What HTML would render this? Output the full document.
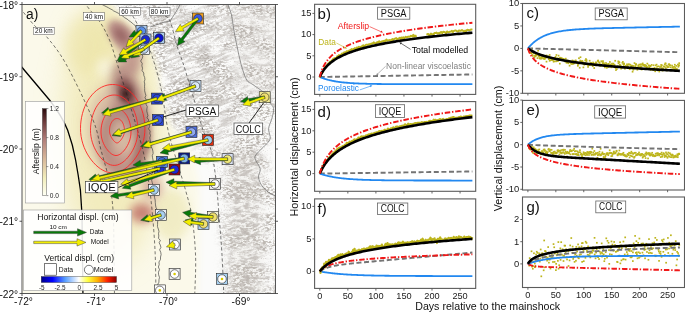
<!DOCTYPE html>
<html><head><meta charset="utf-8"><style>
html,body{margin:0;padding:0;background:#fff;width:685px;height:313px;overflow:hidden}
svg{display:block;will-change:transform}
text{font-family:"Liberation Sans",sans-serif}
</style></head><body>
<svg width="685" height="313" viewBox="0 0 685 313" font-family="Liberation Sans, sans-serif">
<rect x="314.6" y="4.3" width="161.09999999999997" height="90.10000000000001" fill="#fff" stroke="none"/>
<path d="M319.80,77.00 L319.83,77.00 L319.90,77.00 L320.00,77.00 L320.13,76.99 L320.30,76.99 L320.49,76.99 L320.72,76.98 L320.97,76.98 L321.24,76.98 L321.54,76.97 L321.87,76.97 L322.22,76.96 L322.59,76.95 L322.99,76.95 L323.41,76.94 L323.86,76.93 L324.33,76.92 L324.82,76.92 L325.33,76.91 L325.87,76.90 L326.42,76.89 L327.00,76.88 L327.60,76.87 L328.22,76.86 L328.86,76.85 L329.53,76.84 L330.21,76.83 L330.91,76.81 L331.64,76.80 L332.38,76.79 L333.15,76.78 L333.93,76.76 L334.74,76.75 L335.56,76.74 L336.41,76.72 L337.27,76.71 L338.16,76.69 L339.06,76.68 L339.98,76.66 L340.92,76.65 L341.88,76.63 L342.86,76.62 L343.86,76.60 L344.87,76.58 L345.91,76.56 L346.96,76.55 L348.03,76.53 L349.13,76.51 L350.23,76.49 L351.36,76.47 L352.51,76.45 L353.67,76.44 L354.85,76.42 L356.05,76.40 L357.27,76.38 L358.50,76.35 L359.76,76.33 L361.03,76.31 L362.31,76.29 L363.62,76.27 L364.94,76.25 L366.28,76.23 L367.64,76.20 L369.02,76.18 L370.41,76.16 L371.82,76.13 L373.25,76.11 L374.69,76.08 L376.16,76.06 L377.63,76.04 L379.13,76.01 L380.64,75.99 L382.17,75.96 L383.72,75.93 L385.28,75.91 L386.86,75.88 L388.46,75.86 L390.07,75.83 L391.70,75.80 L393.35,75.77 L395.01,75.75 L396.69,75.72 L398.39,75.69 L400.10,75.66 L401.83,75.63 L403.57,75.60 L405.33,75.57 L407.11,75.54 L408.91,75.51 L410.72,75.48 L412.54,75.45 L414.39,75.42 L416.24,75.39 L418.12,75.36 L420.01,75.33 L421.92,75.30 L423.84,75.27 L425.78,75.23 L427.73,75.20 L429.70,75.17 L431.69,75.13 L433.69,75.10 L435.71,75.07 L437.74,75.03 L439.79,75.00 L441.86,74.97 L443.94,74.93 L446.03,74.90 L448.14,74.86 L450.27,74.82 L452.41,74.79 L454.57,74.75 L456.75,74.72 L458.93,74.68 L461.14,74.64 L463.36,74.61 L465.59,74.57 L467.84,74.53 L470.11,74.49 L472.39,74.46" fill="none" stroke="#747474" stroke-width="1.9" stroke-dasharray="5 2.6" stroke-linejoin="round" />
<path d="M319.80,77.00 L319.83,77.01 L319.90,77.04 L320.00,77.08 L320.13,77.14 L320.30,77.21 L320.49,77.29 L320.72,77.38 L320.97,77.48 L321.24,77.59 L321.54,77.71 L321.87,77.83 L322.22,77.96 L322.59,78.10 L322.99,78.25 L323.41,78.39 L323.86,78.54 L324.33,78.70 L324.82,78.86 L325.33,79.02 L325.87,79.18 L326.42,79.34 L327.00,79.51 L327.60,79.67 L328.22,79.84 L328.86,80.00 L329.53,80.16 L330.21,80.32 L330.91,80.48 L331.64,80.64 L332.38,80.80 L333.15,80.95 L333.93,81.10 L334.74,81.24 L335.56,81.38 L336.41,81.52 L337.27,81.66 L338.16,81.79 L339.06,81.91 L339.98,82.03 L340.92,82.15 L341.88,82.27 L342.86,82.38 L343.86,82.48 L344.87,82.58 L345.91,82.68 L346.96,82.77 L348.03,82.86 L349.13,82.95 L350.23,83.03 L351.36,83.10 L352.51,83.18 L353.67,83.24 L354.85,83.31 L356.05,83.37 L357.27,83.43 L358.50,83.49 L359.76,83.54 L361.03,83.59 L362.31,83.63 L363.62,83.67 L364.94,83.71 L366.28,83.75 L367.64,83.79 L369.02,83.82 L370.41,83.85 L371.82,83.88 L373.25,83.91 L374.69,83.93 L376.16,83.95 L377.63,83.98 L379.13,84.00 L380.64,84.01 L382.17,84.03 L383.72,84.05 L385.28,84.06 L386.86,84.07 L388.46,84.09 L390.07,84.10 L391.70,84.11 L393.35,84.12 L395.01,84.13 L396.69,84.13 L398.39,84.14 L400.10,84.15 L401.83,84.15 L403.57,84.16 L405.33,84.16 L407.11,84.17 L408.91,84.17 L410.72,84.18 L412.54,84.18 L414.39,84.18 L416.24,84.18 L418.12,84.19 L420.01,84.19 L421.92,84.19 L423.84,84.19 L425.78,84.19 L427.73,84.20 L429.70,84.20 L431.69,84.20 L433.69,84.20 L435.71,84.20 L437.74,84.20 L439.79,84.20 L441.86,84.20 L443.94,84.20 L446.03,84.20 L448.14,84.20 L450.27,84.20 L452.41,84.21 L454.57,84.21 L456.75,84.21 L458.93,84.21 L461.14,84.21 L463.36,84.21 L465.59,84.21 L467.84,84.21 L470.11,84.21 L472.39,84.21" fill="none" stroke="#2288f0" stroke-width="1.8" stroke-linejoin="round" />
<path d="M319.80,77.64 L319.81,77.62 L319.82,77.57 L319.85,77.50 L319.88,77.41 L319.92,77.30 L319.97,77.17 L320.03,77.02 L320.09,76.86 L320.16,76.68 L320.23,76.49 L320.31,76.29 L320.40,76.20 L320.49,75.58 L320.59,75.72 L320.70,75.52 L320.81,75.57 L320.93,74.94 L321.05,74.00 L321.18,74.07 L321.31,73.47 L321.45,73.58 L321.59,73.21 L321.74,73.02 L321.89,73.65 L322.05,72.06 L322.22,71.93 L322.39,71.62 L322.56,72.42 L322.74,72.13 L322.93,71.37 L323.12,70.84 L323.31,70.12 L323.51,69.98 L323.72,69.37 L323.93,69.64 L324.14,68.84 L324.36,68.47 L324.59,68.69 L324.82,67.15 L325.05,67.43 L325.29,66.78 L325.53,67.39 L325.78,67.13 L326.03,66.61 L326.29,66.18 L326.55,65.49 L326.82,65.38 L327.09,65.42 L327.37,65.37 L327.65,64.84 L327.93,63.65 L328.22,64.38 L328.52,63.55 L328.81,63.16 L329.12,63.84 L329.42,62.76 L329.73,61.83 L330.05,63.22 L330.37,62.08 L330.70,61.68 L331.02,61.76 L331.36,60.81 L331.70,60.81 L332.04,61.25 L332.38,59.80 L332.73,59.61 L333.09,59.20 L333.45,58.67 L333.81,58.95 L334.18,58.81 L334.55,59.27 L334.93,58.03 L335.31,58.40 L335.69,58.06 L336.08,58.22 L336.47,57.81 L336.87,57.34 L337.27,56.16 L337.68,57.60 L338.09,57.06 L338.50,55.96 L338.92,55.10 L339.34,55.30 L339.77,56.32 L340.20,56.40 L340.63,54.70 L341.07,55.02 L341.51,54.99 L341.96,53.69 L342.41,53.40 L342.86,53.65 L343.32,53.38 L343.78,53.06 L344.25,52.25 L344.72,52.53 L345.19,52.36 L345.67,52.13 L346.15,52.99 L346.64,51.32 L347.13,51.28 L347.62,51.28 L348.12,52.35 L348.62,51.46 L349.13,50.50 L349.63,51.65 L350.15,50.61 L350.67,49.80 L351.19,50.79 L351.71,49.10 L352.24,49.44 L352.77,49.60 L353.31,49.16 L353.85,48.81 L354.39,48.88 L354.94,48.17 L355.49,48.90 L356.05,48.58 L356.61,47.66 L357.17,47.99 L357.74,48.26 L358.31,47.15 L358.89,46.70 L359.47,47.49 L360.05,47.79 L360.63,46.98 L361.22,46.81 L361.82,46.71 L362.41,45.66 L363.02,46.73 L363.62,45.39 L364.23,46.50 L364.84,46.09 L365.46,45.20 L366.08,44.77 L366.70,44.74 L367.33,44.84 L367.96,44.77 L368.59,44.60 L369.23,44.22 L369.87,44.44 L370.52,44.05 L371.17,43.74 L371.82,43.87 L372.48,43.32 L373.14,43.26 L373.80,42.37 L374.47,43.07 L375.14,43.30 L375.82,43.12 L376.49,42.78 L377.18,42.15 L377.86,42.64 L378.55,42.12 L379.25,41.23 L379.94,43.32 L380.64,42.44 L381.35,41.60 L382.05,41.37 L382.76,41.31 L383.48,41.50 L384.20,40.80 L384.92,40.85 L385.64,41.12 L386.37,39.47 L387.11,40.39 L387.84,40.71 L388.58,40.34 L389.32,40.26 L390.07,40.04 L390.82,41.26 L391.57,39.98 L392.33,39.08 L393.09,40.05 L393.86,39.36 L394.63,38.70 L395.40,38.62 L396.17,38.16 L396.95,39.66 L397.73,38.84 L398.52,38.70 L399.31,38.08 L400.10,37.71 L400.89,39.50 L401.69,37.46 L402.50,38.62 L403.30,37.41 L404.11,38.39 L404.93,37.41 L405.74,36.77 L406.56,37.33 L407.39,37.03 L408.21,36.60 L409.04,36.81 L409.88,36.80 L410.72,35.85 L411.56,35.98 L412.40,36.54 L413.25,34.88 L414.10,36.74 L414.96,35.57 L415.81,36.05 L416.68,35.73 M426.38,34.17 L427.28,34.30 L428.18,33.98 L429.09,34.97 L430.01,34.85 L430.92,33.66 L431.84,34.35 L432.76,34.28 L433.69,34.39 L434.62,32.89 L435.55,33.05 L436.49,32.57 L437.43,33.69 L438.37,33.11 L439.32,33.58 L440.27,32.51 L441.22,31.98 L442.17,33.14 L443.13,31.79 L444.10,31.98 L445.06,32.47 L446.03,33.28 L447.00,31.45 L447.98,32.12 L448.96,32.27 L449.94,31.66 L450.93,31.55 L451.92,30.90 L452.91,32.08 L453.91,30.88 L454.90,30.60 L455.91,30.52 L456.91,31.25 L457.92,31.44 L458.93,30.45 L459.95,30.81 L460.97,30.71 L461.99,29.95 L463.02,30.71 L464.04,31.65 L465.08,30.58 L466.11,31.23 L467.15,29.78 L468.19,29.94 L469.24,30.32 L470.29,29.92 L471.34,29.39 L472.39,29.68" fill="none" stroke="#bdb51c" stroke-width="2.0" stroke-linejoin="round" />
<path d="M319.80,77.00 L319.83,76.93 L319.90,76.77 L320.00,76.54 L320.13,76.23 L320.30,75.87 L320.49,75.45 L320.72,74.99 L320.97,74.50 L321.24,73.97 L321.54,73.41 L321.87,72.84 L322.22,72.24 L322.59,71.64 L322.99,71.02 L323.41,70.40 L323.86,69.78 L324.33,69.15 L324.82,68.52 L325.33,67.90 L325.87,67.28 L326.42,66.66 L327.00,66.04 L327.60,65.44 L328.22,64.84 L328.86,64.24 L329.53,63.66 L330.21,63.08 L330.91,62.51 L331.64,61.94 L332.38,61.39 L333.15,60.84 L333.93,60.30 L334.74,59.77 L335.56,59.25 L336.41,58.74 L337.27,58.23 L338.16,57.73 L339.06,57.24 L339.98,56.76 L340.92,56.28 L341.88,55.82 L342.86,55.36 L343.86,54.90 L344.87,54.45 L345.91,54.01 L346.96,53.58 L348.03,53.15 L349.13,52.73 L350.23,52.32 L351.36,51.91 L352.51,51.51 L353.67,51.11 L354.85,50.72 L356.05,50.33 L357.27,49.95 L358.50,49.58 L359.76,49.21 L361.03,48.84 L362.31,48.48 L363.62,48.13 L364.94,47.78 L366.28,47.43 L367.64,47.09 L369.02,46.75 L370.41,46.42 L371.82,46.09 L373.25,45.77 L374.69,45.45 L376.16,45.13 L377.63,44.82 L379.13,44.51 L380.64,44.20 L382.17,43.90 L383.72,43.60 L385.28,43.31 L386.86,43.01 L388.46,42.73 L390.07,42.44 L391.70,42.16 L393.35,41.88 L395.01,41.60 L396.69,41.33 L398.39,41.06 L400.10,40.79 L401.83,40.53 L403.57,40.27 L405.33,40.01 L407.11,39.75 L408.91,39.50 L410.72,39.25 L412.54,39.00 L414.39,38.75 L416.24,38.51 L418.12,38.27 L420.01,38.03 L421.92,37.79 L423.84,37.56 L425.78,37.32 L427.73,37.09 L429.70,36.86 L431.69,36.64 L433.69,36.41 L435.71,36.19 L437.74,35.97 L439.79,35.75 L441.86,35.54 L443.94,35.32 L446.03,35.11 L448.14,34.90 L450.27,34.69 L452.41,34.48 L454.57,34.28 L456.75,34.07 L458.93,33.87 L461.14,33.67 L463.36,33.47 L465.59,33.27 L467.84,33.08 L470.11,32.88 L472.39,32.69" fill="none" stroke="#000" stroke-width="2.6" stroke-linejoin="round" />
<path d="M319.80,77.00 L319.83,76.88 L319.90,76.60 L320.00,76.19 L320.13,75.66 L320.30,75.04 L320.49,74.35 L320.72,73.59 L320.97,72.79 L321.24,71.96 L321.54,71.10 L321.87,70.22 L322.22,69.34 L322.59,68.45 L322.99,67.56 L323.41,66.68 L323.86,65.81 L324.33,64.94 L324.82,64.09 L325.33,63.25 L325.87,62.42 L326.42,61.61 L327.00,60.81 L327.60,60.03 L328.22,59.27 L328.86,58.52 L329.53,57.78 L330.21,57.06 L330.91,56.36 L331.64,55.67 L332.38,54.99 L333.15,54.33 L333.93,53.68 L334.74,53.04 L335.56,52.42 L336.41,51.81 L337.27,51.21 L338.16,50.62 L339.06,50.04 L339.98,49.48 L340.92,48.92 L341.88,48.38 L342.86,47.85 L343.86,47.32 L344.87,46.81 L345.91,46.30 L346.96,45.80 L348.03,45.31 L349.13,44.83 L350.23,44.36 L351.36,43.90 L352.51,43.44 L353.67,42.99 L354.85,42.55 L356.05,42.12 L357.27,41.69 L358.50,41.27 L359.76,40.85 L361.03,40.44 L362.31,40.04 L363.62,39.64 L364.94,39.25 L366.28,38.87 L367.64,38.48 L369.02,38.11 L370.41,37.74 L371.82,37.38 L373.25,37.02 L374.69,36.66 L376.16,36.31 L377.63,35.96 L379.13,35.62 L380.64,35.28 L382.17,34.95 L383.72,34.62 L385.28,34.30 L386.86,33.98 L388.46,33.66 L390.07,33.35 L391.70,33.04 L393.35,32.73 L395.01,32.43 L396.69,32.13 L398.39,31.83 L400.10,31.54 L401.83,31.25 L403.57,30.96 L405.33,30.68 L407.11,30.40 L408.91,30.12 L410.72,29.85 L412.54,29.58 L414.39,29.31 L416.24,29.04 L418.12,28.78 L420.01,28.52 L421.92,28.26 L423.84,28.01 L425.78,27.75 L427.73,27.50 L429.70,27.25 L431.69,27.01 L433.69,26.76 L435.71,26.52 L437.74,26.28 L439.79,26.05 L441.86,25.81 L443.94,25.58 L446.03,25.35 L448.14,25.12 L450.27,24.89 L452.41,24.67 L454.57,24.44 L456.75,24.22 L458.93,24.00 L461.14,23.79 L463.36,23.57 L465.59,23.36 L467.84,23.15 L470.11,22.94 L472.39,22.73" fill="none" stroke="#f01818" stroke-width="1.9" stroke-dasharray="5.5 1.8 1.4 1.8" stroke-linejoin="round" />
<rect x="314.6" y="4.3" width="161.09999999999997" height="90.10000000000001" fill="none" stroke="#5c5c5c" stroke-width="1.1"/>
<line x1="312.40000000000003" y1="13.40" x2="314.6" y2="13.40" stroke="#555" stroke-width="0.9"/>
<text x="311.40000000000003" y="16.20" font-size="9.4" text-anchor="end" fill="#1a1a1a">15</text>
<line x1="312.40000000000003" y1="34.60" x2="314.6" y2="34.60" stroke="#555" stroke-width="0.9"/>
<text x="311.40000000000003" y="37.40" font-size="9.4" text-anchor="end" fill="#1a1a1a">10</text>
<line x1="312.40000000000003" y1="55.80" x2="314.6" y2="55.80" stroke="#555" stroke-width="0.9"/>
<text x="311.40000000000003" y="58.60" font-size="9.4" text-anchor="end" fill="#1a1a1a">5</text>
<line x1="312.40000000000003" y1="77.00" x2="314.6" y2="77.00" stroke="#555" stroke-width="0.9"/>
<text x="311.40000000000003" y="79.80" font-size="9.4" text-anchor="end" fill="#1a1a1a">0</text>
<line x1="319.80" y1="94.4" x2="319.80" y2="96.60000000000001" stroke="#555" stroke-width="0.9"/>
<line x1="347.85" y1="94.4" x2="347.85" y2="96.60000000000001" stroke="#555" stroke-width="0.9"/>
<line x1="375.90" y1="94.4" x2="375.90" y2="96.60000000000001" stroke="#555" stroke-width="0.9"/>
<line x1="403.95" y1="94.4" x2="403.95" y2="96.60000000000001" stroke="#555" stroke-width="0.9"/>
<line x1="432.00" y1="94.4" x2="432.00" y2="96.60000000000001" stroke="#555" stroke-width="0.9"/>
<line x1="460.05" y1="94.4" x2="460.05" y2="96.60000000000001" stroke="#555" stroke-width="0.9"/>
<text x="317.6" y="19.3" font-size="15" fill="#111">b)</text>
<rect x="377.6" y="7.2" width="32.19999999999999" height="12.0" fill="#fff" stroke="#666" stroke-width="0.8"/>
<text x="393.70" y="16.80" font-size="10" text-anchor="middle" fill="#111" textLength="25.7" lengthAdjust="spacingAndGlyphs">PSGA</text>
<text x="337.7" y="29.4" font-size="9.1" fill="#f01818" textLength="31.4" lengthAdjust="spacingAndGlyphs">Afterslip</text>
<path d="M369.6,26.6 L380.81,31.62" stroke="#f01818" stroke-width="0.6" fill="none"/>
<path d="M383,32.6 L380.36,32.62 L381.26,30.62Z" fill="#f01818"/>
<text x="318.3" y="44.5" font-size="9.1" fill="#bdb51c" textLength="17.6" lengthAdjust="spacingAndGlyphs">Data</text>
<path d="M336.4,43 L344.88,47.48" stroke="#bdb51c" stroke-width="0.6" fill="none"/>
<path d="M347,48.6 L344.36,48.45 L345.39,46.51Z" fill="#bdb51c"/>
<text x="411.7" y="52.9" font-size="9.8" fill="#000" textLength="56.5" lengthAdjust="spacingAndGlyphs">Total modelled</text>
<path d="M410.6,49.4 L401.43,43.58" stroke="#111" stroke-width="0.6" fill="none"/>
<path d="M399.4,42.3 L402.02,42.66 L400.84,44.51Z" fill="#111"/>
<text x="386.1" y="69.4" font-size="9.3" fill="#808080" textLength="84.8" lengthAdjust="spacingAndGlyphs">Non-linear viscoelastic</text>
<path d="M385.6,66.3 L377.83,73.74" stroke="#8a8a8a" stroke-width="0.6" fill="none"/>
<path d="M376.1,75.4 L377.07,72.95 L378.59,74.53Z" fill="#8a8a8a"/>
<text x="318" y="91.1" font-size="9.3" fill="#2288f0" textLength="41" lengthAdjust="spacingAndGlyphs">Poroelastic</text>
<path d="M359.8,89.9 L370.13,86.29" stroke="#2288f0" stroke-width="0.6" fill="none"/>
<path d="M372.4,85.5 L370.50,87.33 L369.77,85.25Z" fill="#2288f0"/>
<rect x="314.6" y="101.6" width="161.09999999999997" height="89.70000000000002" fill="#fff" stroke="none"/>
<path d="M319.80,173.60 L319.83,173.60 L319.90,173.60 L320.00,173.60 L320.13,173.60 L320.30,173.59 L320.49,173.59 L320.72,173.59 L320.97,173.58 L321.24,173.58 L321.54,173.58 L321.87,173.57 L322.22,173.57 L322.59,173.56 L322.99,173.56 L323.41,173.55 L323.86,173.54 L324.33,173.54 L324.82,173.53 L325.33,173.52 L325.87,173.51 L326.42,173.51 L327.00,173.50 L327.60,173.49 L328.22,173.48 L328.86,173.47 L329.53,173.46 L330.21,173.45 L330.91,173.44 L331.64,173.43 L332.38,173.42 L333.15,173.41 L333.93,173.40 L334.74,173.39 L335.56,173.38 L336.41,173.37 L337.27,173.35 L338.16,173.34 L339.06,173.33 L339.98,173.32 L340.92,173.30 L341.88,173.29 L342.86,173.28 L343.86,173.26 L344.87,173.25 L345.91,173.23 L346.96,173.22 L348.03,173.20 L349.13,173.19 L350.23,173.17 L351.36,173.16 L352.51,173.14 L353.67,173.13 L354.85,173.11 L356.05,173.09 L357.27,173.07 L358.50,173.06 L359.76,173.04 L361.03,173.02 L362.31,173.00 L363.62,172.99 L364.94,172.97 L366.28,172.95 L367.64,172.93 L369.02,172.91 L370.41,172.89 L371.82,172.87 L373.25,172.85 L374.69,172.83 L376.16,172.81 L377.63,172.79 L379.13,172.77 L380.64,172.75 L382.17,172.73 L383.72,172.70 L385.28,172.68 L386.86,172.66 L388.46,172.64 L390.07,172.61 L391.70,172.59 L393.35,172.57 L395.01,172.55 L396.69,172.52 L398.39,172.50 L400.10,172.47 L401.83,172.45 L403.57,172.43 L405.33,172.40 L407.11,172.38 L408.91,172.35 L410.72,172.32 L412.54,172.30 L414.39,172.27 L416.24,172.25 L418.12,172.22 L420.01,172.19 L421.92,172.17 L423.84,172.14 L425.78,172.11 L427.73,172.09 L429.70,172.06 L431.69,172.03 L433.69,172.00 L435.71,171.97 L437.74,171.95 L439.79,171.92 L441.86,171.89 L443.94,171.86 L446.03,171.83 L448.14,171.80 L450.27,171.77 L452.41,171.74 L454.57,171.71 L456.75,171.68 L458.93,171.65 L461.14,171.62 L463.36,171.59 L465.59,171.56 L467.84,171.52 L470.11,171.49 L472.39,171.46" fill="none" stroke="#747474" stroke-width="1.9" stroke-dasharray="5 2.6" stroke-linejoin="round" />
<path d="M319.80,173.60 L319.83,173.61 L319.90,173.63 L320.00,173.67 L320.13,173.72 L320.30,173.77 L320.49,173.84 L320.72,173.92 L320.97,174.00 L321.24,174.09 L321.54,174.19 L321.87,174.29 L322.22,174.40 L322.59,174.52 L322.99,174.64 L323.41,174.77 L323.86,174.89 L324.33,175.03 L324.82,175.16 L325.33,175.30 L325.87,175.44 L326.42,175.58 L327.00,175.73 L327.60,175.87 L328.22,176.02 L328.86,176.16 L329.53,176.31 L330.21,176.45 L330.91,176.60 L331.64,176.74 L332.38,176.88 L333.15,177.02 L333.93,177.16 L334.74,177.29 L335.56,177.43 L336.41,177.56 L337.27,177.69 L338.16,177.81 L339.06,177.93 L339.98,178.05 L340.92,178.17 L341.88,178.28 L342.86,178.39 L343.86,178.50 L344.87,178.60 L345.91,178.70 L346.96,178.80 L348.03,178.89 L349.13,178.98 L350.23,179.06 L351.36,179.14 L352.51,179.22 L353.67,179.30 L354.85,179.37 L356.05,179.44 L357.27,179.51 L358.50,179.57 L359.76,179.63 L361.03,179.68 L362.31,179.74 L363.62,179.79 L364.94,179.84 L366.28,179.88 L367.64,179.93 L369.02,179.97 L370.41,180.01 L371.82,180.04 L373.25,180.08 L374.69,180.11 L376.16,180.14 L377.63,180.17 L379.13,180.20 L380.64,180.22 L382.17,180.24 L383.72,180.27 L385.28,180.29 L386.86,180.31 L388.46,180.32 L390.07,180.34 L391.70,180.36 L393.35,180.37 L395.01,180.38 L396.69,180.40 L398.39,180.41 L400.10,180.42 L401.83,180.43 L403.57,180.44 L405.33,180.44 L407.11,180.45 L408.91,180.46 L410.72,180.47 L412.54,180.47 L414.39,180.48 L416.24,180.48 L418.12,180.49 L420.01,180.49 L421.92,180.50 L423.84,180.50 L425.78,180.50 L427.73,180.51 L429.70,180.51 L431.69,180.51 L433.69,180.51 L435.71,180.51 L437.74,180.52 L439.79,180.52 L441.86,180.52 L443.94,180.52 L446.03,180.52 L448.14,180.52 L450.27,180.52 L452.41,180.53 L454.57,180.53 L456.75,180.53 L458.93,180.53 L461.14,180.53 L463.36,180.53 L465.59,180.53 L467.84,180.53 L470.11,180.53 L472.39,180.53" fill="none" stroke="#2288f0" stroke-width="1.8" stroke-linejoin="round" />
<path d="M319.80,173.60 L319.81,173.58 L319.82,173.53 L319.85,173.46 L319.88,173.37 L319.92,173.26 L319.97,173.13 L320.03,172.99 L320.09,172.82 L320.16,172.65 L320.23,172.45 L320.31,172.25 L320.40,171.34 L320.49,171.83 L320.59,171.02 L320.70,170.53 L320.81,170.20 L320.93,171.10 L321.05,170.02 L321.18,171.14 L321.31,170.44 L321.45,170.58 L321.59,168.71 L321.74,169.58 L321.89,168.62 L322.05,168.39 L322.22,167.97 L322.39,167.92 L322.56,167.15 L322.74,166.01 L322.93,166.56 L323.12,165.95 L323.31,165.36 L323.51,165.62 L323.72,165.81 L323.93,165.09 L324.14,163.89 L324.36,164.92 L324.59,164.02 L324.82,162.84 L325.05,162.58 L325.29,162.62 L325.53,161.85 L325.78,161.82 L326.03,162.15 L326.29,161.98 L326.55,161.15 L326.82,159.98 L327.09,160.39 L327.37,160.20 L327.65,159.78 L327.93,159.82 L328.22,158.73 L328.52,158.93 L328.81,157.78 L329.12,158.83 L329.42,157.10 L329.73,157.25 L330.05,157.57 L330.37,155.86 L330.70,156.03 L331.02,156.70 L331.36,155.66 L331.70,154.73 L332.04,154.78 L332.38,153.81 L332.73,153.49 L333.09,153.21 L333.45,153.05 L333.81,152.21 L334.18,152.23 L334.55,152.02 L334.93,153.00 L335.31,151.16 L335.69,150.63 L336.08,151.14 L336.47,150.92 L336.87,149.37 L337.27,150.96 L337.68,149.51 L338.09,148.20 L338.50,149.62 L338.92,148.49 L339.34,147.58 L339.77,148.32 L340.20,147.67 L340.63,147.21 L341.07,147.84 L341.51,147.14 L341.96,146.65 L342.41,146.10 L342.86,146.26 L343.32,146.06 L343.78,146.20 L344.25,145.59 L344.72,144.67 L345.19,144.80 L345.67,145.02 L346.15,144.74 L346.64,142.67 L347.13,143.19 L347.62,143.18 L348.12,144.58 L348.62,142.67 L349.13,142.48 L349.63,141.60 L350.15,141.99 L350.67,141.99 L351.19,141.44 L351.71,142.45 L352.24,140.67 L352.77,140.79 L353.31,141.07 L353.85,139.78 L354.39,139.29 L354.94,140.69 L355.49,140.08 L356.05,139.34 L356.61,139.16 L357.17,139.22 L357.74,139.28 L358.31,137.46 L358.89,137.79 L359.47,138.70 L360.05,138.55 L360.63,136.76 L361.22,136.90 L361.82,136.24 L362.41,136.54 L363.02,137.18 L363.62,136.38 L364.23,137.40 L364.84,136.46 L365.46,135.88 L366.08,135.37 L366.70,135.80 L367.33,135.27 L367.96,134.76 L368.59,134.59 L369.23,134.25 L369.87,134.26 L370.52,134.32 L371.17,133.54 L371.82,133.72 L372.48,133.96 L373.14,133.66 L373.80,133.13 L374.47,132.99 L375.14,132.65 L375.82,132.53 L376.49,132.25 L377.18,132.21 L377.86,132.59 L378.55,131.53 L379.25,131.01 L379.94,131.14 L380.64,131.27 L381.35,130.75 L382.05,131.29 L382.76,131.58 L383.48,130.38 L384.20,130.71 L384.92,129.66 L385.64,130.41 L386.37,131.02 L387.11,130.02 L387.84,128.50 L388.58,129.32 L389.32,129.65 L390.07,129.16 L390.82,128.32 L391.57,128.16 L392.33,128.14 L393.09,127.30 L393.86,127.52 L394.63,127.72 L395.40,127.23 L396.17,126.52 L396.95,126.70 L397.73,126.50 L398.52,127.41 L399.31,126.76 L400.10,126.14 L400.89,126.50 L401.69,125.63 L402.50,125.71 L403.30,125.38 L404.11,125.80 L404.93,124.22 L405.74,124.72 L406.56,125.31 L407.39,124.99 L408.21,123.54 L409.04,124.89 L409.88,124.11 L410.72,123.89 L411.56,124.24 L412.40,124.68 L413.25,123.83 L414.10,123.59 L414.96,123.04 L415.81,123.06 L416.68,123.30 L417.54,122.72 L418.41,122.73 L419.28,122.75 L420.16,122.67 L421.03,122.68 L421.92,122.05 L422.80,122.79 L423.69,122.43 L424.58,121.95 L425.48,122.56 L426.38,121.89 L427.28,122.55 L428.18,121.72 L429.09,120.93 L430.01,120.79 L430.92,120.97 L431.84,120.91 L432.76,121.38 L433.69,119.57 L434.62,120.11 L435.55,119.67 L436.49,120.54 L437.43,120.05 L438.37,120.75 L439.32,119.27 L440.27,119.05 L441.22,120.37 L442.17,119.29 L443.13,118.80 L444.10,119.89 L445.06,119.79 L446.03,119.27 L447.00,118.91 L447.98,119.17 L448.96,118.30 L449.94,118.06 L450.93,117.73 L451.92,117.56 L452.91,117.02 L453.91,117.06 L454.90,118.20 L455.91,117.66 L456.91,117.82 L457.92,117.70 L458.93,117.06 L459.95,116.89 L460.97,116.51 L461.99,117.45 L463.02,117.14 L464.04,116.39 L465.08,116.36 L466.11,116.29 L467.15,116.04 L468.19,116.27 L469.24,115.40 L470.29,115.45 L471.34,115.56 L472.39,115.74" fill="none" stroke="#bdb51c" stroke-width="2.0" stroke-linejoin="round" />
<path d="M319.80,173.60 L319.83,173.53 L319.90,173.37 L320.00,173.13 L320.13,172.82 L320.30,172.44 L320.49,172.01 L320.72,171.53 L320.97,171.01 L321.24,170.45 L321.54,169.85 L321.87,169.22 L322.22,168.57 L322.59,167.90 L322.99,167.21 L323.41,166.51 L323.86,165.80 L324.33,165.08 L324.82,164.35 L325.33,163.62 L325.87,162.88 L326.42,162.15 L327.00,161.42 L327.60,160.68 L328.22,159.96 L328.86,159.23 L329.53,158.51 L330.21,157.80 L330.91,157.09 L331.64,156.39 L332.38,155.69 L333.15,155.00 L333.93,154.32 L334.74,153.65 L335.56,152.98 L336.41,152.32 L337.27,151.67 L338.16,151.03 L339.06,150.40 L339.98,149.77 L340.92,149.15 L341.88,148.54 L342.86,147.94 L343.86,147.35 L344.87,146.76 L345.91,146.18 L346.96,145.61 L348.03,145.04 L349.13,144.49 L350.23,143.94 L351.36,143.39 L352.51,142.86 L353.67,142.33 L354.85,141.80 L356.05,141.29 L357.27,140.78 L358.50,140.27 L359.76,139.78 L361.03,139.29 L362.31,138.80 L363.62,138.32 L364.94,137.85 L366.28,137.38 L367.64,136.92 L369.02,136.46 L370.41,136.01 L371.82,135.56 L373.25,135.12 L374.69,134.68 L376.16,134.25 L377.63,133.83 L379.13,133.41 L380.64,132.99 L382.17,132.58 L383.72,132.17 L385.28,131.77 L386.86,131.37 L388.46,130.97 L390.07,130.58 L391.70,130.19 L393.35,129.81 L395.01,129.43 L396.69,129.06 L398.39,128.69 L400.10,128.32 L401.83,127.96 L403.57,127.60 L405.33,127.24 L407.11,126.89 L408.91,126.54 L410.72,126.19 L412.54,125.85 L414.39,125.51 L416.24,125.17 L418.12,124.84 L420.01,124.51 L421.92,124.18 L423.84,123.85 L425.78,123.53 L427.73,123.21 L429.70,122.90 L431.69,122.58 L433.69,122.27 L435.71,121.97 L437.74,121.66 L439.79,121.36 L441.86,121.06 L443.94,120.76 L446.03,120.46 L448.14,120.17 L450.27,119.88 L452.41,119.59 L454.57,119.31 L456.75,119.03 L458.93,118.74 L461.14,118.47 L463.36,118.19 L465.59,117.91 L467.84,117.64 L470.11,117.37 L472.39,117.10" fill="none" stroke="#000" stroke-width="2.6" stroke-linejoin="round" />
<path d="M319.80,173.60 L319.83,173.50 L319.90,173.25 L320.00,172.88 L320.13,172.40 L320.30,171.84 L320.49,171.20 L320.72,170.49 L320.97,169.72 L321.24,168.92 L321.54,168.07 L321.87,167.20 L322.22,166.30 L322.59,165.38 L322.99,164.46 L323.41,163.53 L323.86,162.59 L324.33,161.66 L324.82,160.73 L325.33,159.80 L325.87,158.88 L326.42,157.97 L327.00,157.06 L327.60,156.17 L328.22,155.29 L328.86,154.42 L329.53,153.57 L330.21,152.72 L330.91,151.89 L331.64,151.07 L332.38,150.27 L333.15,149.48 L333.93,148.70 L334.74,147.93 L335.56,147.17 L336.41,146.43 L337.27,145.70 L338.16,144.99 L339.06,144.28 L339.98,143.59 L340.92,142.90 L341.88,142.23 L342.86,141.57 L343.86,140.92 L344.87,140.28 L345.91,139.65 L346.96,139.03 L348.03,138.42 L349.13,137.81 L350.23,137.22 L351.36,136.64 L352.51,136.06 L353.67,135.50 L354.85,134.94 L356.05,134.39 L357.27,133.85 L358.50,133.31 L359.76,132.79 L361.03,132.27 L362.31,131.76 L363.62,131.25 L364.94,130.75 L366.28,130.26 L367.64,129.77 L369.02,129.30 L370.41,128.82 L371.82,128.36 L373.25,127.89 L374.69,127.44 L376.16,126.99 L377.63,126.55 L379.13,126.11 L380.64,125.67 L382.17,125.25 L383.72,124.82 L385.28,124.41 L386.86,123.99 L388.46,123.58 L390.07,123.18 L391.70,122.78 L393.35,122.38 L395.01,121.99 L396.69,121.61 L398.39,121.23 L400.10,120.85 L401.83,120.47 L403.57,120.10 L405.33,119.74 L407.11,119.37 L408.91,119.02 L410.72,118.66 L412.54,118.31 L414.39,117.96 L416.24,117.62 L418.12,117.27 L420.01,116.94 L421.92,116.60 L423.84,116.27 L425.78,115.94 L427.73,115.61 L429.70,115.29 L431.69,114.97 L433.69,114.66 L435.71,114.34 L437.74,114.03 L439.79,113.72 L441.86,113.42 L443.94,113.11 L446.03,112.81 L448.14,112.52 L450.27,112.22 L452.41,111.93 L454.57,111.64 L456.75,111.35 L458.93,111.06 L461.14,110.78 L463.36,110.50 L465.59,110.22 L467.84,109.95 L470.11,109.67 L472.39,109.40" fill="none" stroke="#f01818" stroke-width="1.9" stroke-dasharray="5.5 1.8 1.4 1.8" stroke-linejoin="round" />
<rect x="314.6" y="101.6" width="161.09999999999997" height="89.70000000000002" fill="none" stroke="#5c5c5c" stroke-width="1.1"/>
<line x1="312.40000000000003" y1="109.40" x2="314.6" y2="109.40" stroke="#555" stroke-width="0.9"/>
<text x="311.40000000000003" y="112.20" font-size="9.4" text-anchor="end" fill="#1a1a1a">15</text>
<line x1="312.40000000000003" y1="130.80" x2="314.6" y2="130.80" stroke="#555" stroke-width="0.9"/>
<text x="311.40000000000003" y="133.60" font-size="9.4" text-anchor="end" fill="#1a1a1a">10</text>
<line x1="312.40000000000003" y1="152.20" x2="314.6" y2="152.20" stroke="#555" stroke-width="0.9"/>
<text x="311.40000000000003" y="155.00" font-size="9.4" text-anchor="end" fill="#1a1a1a">5</text>
<line x1="312.40000000000003" y1="173.60" x2="314.6" y2="173.60" stroke="#555" stroke-width="0.9"/>
<text x="311.40000000000003" y="176.40" font-size="9.4" text-anchor="end" fill="#1a1a1a">0</text>
<line x1="319.80" y1="191.3" x2="319.80" y2="193.5" stroke="#555" stroke-width="0.9"/>
<line x1="347.85" y1="191.3" x2="347.85" y2="193.5" stroke="#555" stroke-width="0.9"/>
<line x1="375.90" y1="191.3" x2="375.90" y2="193.5" stroke="#555" stroke-width="0.9"/>
<line x1="403.95" y1="191.3" x2="403.95" y2="193.5" stroke="#555" stroke-width="0.9"/>
<line x1="432.00" y1="191.3" x2="432.00" y2="193.5" stroke="#555" stroke-width="0.9"/>
<line x1="460.05" y1="191.3" x2="460.05" y2="193.5" stroke="#555" stroke-width="0.9"/>
<text x="317.6" y="116.6" font-size="15" fill="#111">d)</text>
<rect x="375.5" y="104.7" width="29.100000000000023" height="12.700000000000003" fill="#fff" stroke="#666" stroke-width="0.8"/>
<text x="390.05" y="115.00" font-size="10" text-anchor="middle" fill="#111" textLength="22.6" lengthAdjust="spacingAndGlyphs">IQQE</text>
<rect x="314.6" y="198.9" width="161.09999999999997" height="89.49999999999997" fill="#fff" stroke="none"/>
<path d="M319.80,271.40 L319.83,271.41 L319.90,271.42 L320.00,271.44 L320.13,271.46 L320.30,271.49 L320.49,271.53 L320.72,271.57 L320.97,271.61 L321.24,271.66 L321.54,271.71 L321.87,271.77 L322.22,271.83 L322.59,271.89 L322.99,271.96 L323.41,272.02 L323.86,272.10 L324.33,272.17 L324.82,272.24 L325.33,272.32 L325.87,272.40 L326.42,272.48 L327.00,272.56 L327.60,272.64 L328.22,272.73 L328.86,272.81 L329.53,272.90 L330.21,272.98 L330.91,273.07 L331.64,273.15 L332.38,273.24 L333.15,273.32 L333.93,273.41 L334.74,273.49 L335.56,273.57 L336.41,273.66 L337.27,273.74 L338.16,273.82 L339.06,273.90 L339.98,273.98 L340.92,274.05 L341.88,274.13 L342.86,274.20 L343.86,274.28 L344.87,274.35 L345.91,274.42 L346.96,274.48 L348.03,274.55 L349.13,274.62 L350.23,274.68 L351.36,274.74 L352.51,274.80 L353.67,274.86 L354.85,274.91 L356.05,274.97 L357.27,275.02 L358.50,275.07 L359.76,275.12 L361.03,275.17 L362.31,275.21 L363.62,275.26 L364.94,275.30 L366.28,275.34 L367.64,275.38 L369.02,275.41 L370.41,275.45 L371.82,275.48 L373.25,275.52 L374.69,275.55 L376.16,275.58 L377.63,275.61 L379.13,275.63 L380.64,275.66 L382.17,275.68 L383.72,275.71 L385.28,275.73 L386.86,275.75 L388.46,275.77 L390.07,275.79 L391.70,275.81 L393.35,275.83 L395.01,275.84 L396.69,275.86 L398.39,275.87 L400.10,275.89 L401.83,275.90 L403.57,275.91 L405.33,275.92 L407.11,275.93 L408.91,275.94 L410.72,275.95 L412.54,275.96 L414.39,275.97 L416.24,275.98 L418.12,275.98 L420.01,275.99 L421.92,276.00 L423.84,276.00 L425.78,276.01 L427.73,276.01 L429.70,276.02 L431.69,276.02 L433.69,276.03 L435.71,276.03 L437.74,276.04 L439.79,276.04 L441.86,276.04 L443.94,276.05 L446.03,276.05 L448.14,276.05 L450.27,276.05 L452.41,276.06 L454.57,276.06 L456.75,276.06 L458.93,276.06 L461.14,276.06 L463.36,276.06 L465.59,276.07 L467.84,276.07 L470.11,276.07 L472.39,276.07" fill="none" stroke="#2288f0" stroke-width="1.8" stroke-linejoin="round" />
<path d="M319.80,271.40 L319.81,271.39 L319.82,271.37 L319.84,271.34 L319.86,271.30 L319.90,271.25 L319.93,271.19 L319.98,271.12 L320.02,271.04 L320.08,270.96 L320.13,270.87 L320.20,270.78 L320.26,270.67 L320.34,270.56 L320.41,270.62 L320.49,272.98 L320.58,271.16 L320.67,270.04 L320.76,271.41 L320.86,269.61 L320.97,269.52 L321.07,270.86 L321.18,269.61 L321.30,269.52 L321.42,268.61 L321.54,268.30 L321.67,268.77 L321.80,269.40 L321.94,268.54 L322.08,268.29 L322.22,267.34 L322.37,267.60 L322.52,268.41 L322.67,268.85 L322.83,267.72 L322.99,267.90 L323.16,268.08 L323.33,266.93 L323.50,267.11 L323.68,266.34 L323.86,265.75 L324.04,266.48 L324.23,263.63 L324.42,266.02 L324.62,264.45 L324.82,265.22 L325.02,264.06 L325.23,267.28 L325.44,265.51 L325.65,264.35 L325.87,263.82 L326.09,261.94 L326.31,263.72 L326.54,262.60 L326.77,262.92 L327.00,262.56 L327.24,262.80 L327.48,263.27 L327.72,262.43 L327.97,263.80 L328.22,261.41 L328.48,263.38 L328.73,261.96 L328.99,259.96 L329.26,262.06 L329.53,261.65 L329.80,260.35 L330.07,261.29 L330.35,261.92 L330.63,260.71 L330.91,260.22 L331.20,259.92 L331.49,261.19 L331.79,258.56 L332.08,258.47 L332.38,259.91 L332.69,259.49 L332.99,260.00 L333.30,258.04 L333.62,259.94 L333.93,258.43 L334.25,259.39 L334.58,259.43 L334.90,257.89 L335.23,257.13 L335.56,258.27 L335.90,258.76 L336.24,257.15 L336.58,257.83 L336.92,257.32 L337.27,255.98 L337.62,256.21 L337.98,257.66 L338.33,254.77 L338.69,256.84 L339.06,255.93 L339.42,257.17 L339.79,256.43 L340.17,257.94 L340.54,254.35 L340.92,254.61 L341.30,256.98 L341.69,257.11 L342.08,257.08 L342.47,254.20 L342.86,255.65 L343.26,255.12 L343.66,255.22 L344.06,254.89 L344.47,255.70 L344.87,254.47 L345.29,255.76 L345.70,254.28 L346.12,253.77 L346.54,253.48 L346.96,254.03 L347.39,254.55 L347.82,253.37 L348.25,253.87 L348.69,251.73 L349.13,252.38 L349.57,253.11 L350.01,253.32 L350.46,253.42 L350.91,253.52 L351.36,252.82 L351.82,252.06 L352.28,251.71 L352.74,251.53 L353.20,249.92 L353.67,252.52 L354.14,251.70 L354.61,248.86 L355.09,253.28 L355.57,251.85 L356.05,251.05 L356.54,250.94 L357.02,250.57 L357.51,251.08 L358.01,250.37 L358.50,250.56 L359.00,249.74 L359.50,252.22 L360.01,251.12 L360.52,250.14 L361.03,251.03 L361.54,250.92 L362.06,249.18 L362.57,250.31 L363.10,248.94 L363.62,248.72 L364.15,249.04 L364.68,248.73 L365.21,249.21 L365.75,250.37 L366.28,248.92 L366.83,248.34 L367.37,249.19 L367.92,248.66 L368.47,247.72 L369.02,249.20 L369.57,247.61 L370.13,246.31 L370.69,248.56 L371.26,247.77 L371.82,247.96 L372.39,246.20 L372.96,247.29 L373.54,246.62 L374.11,248.07 L374.69,247.31 L375.28,247.20 L375.86,248.82 L376.45,245.58 L377.04,246.01 L377.63,248.49 L378.23,245.96 L378.83,246.71 L379.43,246.05 L380.04,246.03 L380.64,247.75 L381.25,246.40 L381.86,244.64 L382.48,246.56 L383.10,246.90 L383.72,247.13 L384.34,246.90 L384.97,245.29 L385.60,243.87 L386.23,245.01 L386.86,245.09 L387.50,243.06 L388.14,245.65 L388.78,245.71 L389.42,244.44 L390.07,244.33 L390.72,245.76 L391.37,245.82 L392.03,244.31 L392.69,244.26 L393.35,245.69 L394.01,244.52 L394.68,244.76 L395.35,243.70 L396.02,244.17 L396.69,244.05 L397.37,244.23 L398.05,242.77 L398.73,242.35 L399.41,243.98 L400.10,242.71 L400.79,244.19 L401.48,243.29 L402.18,242.55 L402.87,241.72 L403.57,243.48 L404.28,243.10 L404.98,242.75 L405.69,244.32 L406.40,242.76 L407.11,243.35 L407.83,242.25 L408.55,243.63 L409.27,244.37 L409.99,242.32 L410.72,242.03 L411.44,242.73 L412.18,241.25 L412.91,242.30 L413.65,242.55 L414.39,241.41 L415.13,243.33 L415.87,242.38 L416.62,241.66 L417.37,240.74 L418.12,241.64 L418.87,241.11 L419.63,241.97 L420.39,240.96 L421.15,239.55 L421.92,241.77 L422.68,238.71 L423.45,241.57 L424.23,240.85 L425.00,240.62 L425.78,239.72 L426.56,241.85 L427.34,242.62 L428.12,239.90 L428.91,239.64 L429.70,239.74 L430.49,237.71 L431.29,240.00 L432.09,239.88 L432.89,239.15 L433.69,239.62 L434.50,238.29 L435.30,241.04 L436.11,240.13 L436.93,243.05 L437.74,238.83 L438.56,239.91 L439.38,238.58 L440.20,237.31 L441.03,239.34 L441.86,239.51 L442.69,239.68 L443.52,239.94 L444.35,239.67 L445.19,238.36 L446.03,238.88 L446.87,238.79 L447.72,238.95 L448.57,237.82 L449.42,238.16 L450.27,238.72 L451.13,237.86 L451.98,238.59 L452.84,239.50 L453.71,236.89 L454.57,237.79 L455.44,239.11 L456.31,237.06 L457.18,237.71 L458.06,239.50 L458.93,236.34 L459.81,237.52 L460.70,236.91 L461.58,237.52 L462.47,237.80 L463.36,239.09 L464.25,236.57 L465.15,237.43 L466.04,237.67 L466.94,236.99 L467.84,237.19 L468.75,236.54 L469.66,237.50 L470.57,237.11 L471.48,239.10 L472.39,237.36" fill="none" stroke="#bdb51c" stroke-width="2.2" stroke-linejoin="round" />
<path d="M319.80,271.40 L319.83,271.38 L319.90,271.33 L320.00,271.26 L320.13,271.17 L320.30,271.06 L320.49,270.93 L320.72,270.78 L320.97,270.62 L321.24,270.45 L321.54,270.27 L321.87,270.08 L322.22,269.88 L322.59,269.68 L322.99,269.47 L323.41,269.26 L323.86,269.05 L324.33,268.83 L324.82,268.62 L325.33,268.40 L325.87,268.19 L326.42,267.97 L327.00,267.77 L327.60,267.56 L328.22,267.36 L328.86,267.16 L329.53,266.97 L330.21,266.78 L330.91,266.59 L331.64,266.41 L332.38,266.24 L333.15,266.07 L333.93,265.91 L334.74,265.74 L335.56,265.59 L336.41,265.44 L337.27,265.29 L338.16,265.15 L339.06,265.00 L339.98,264.87 L340.92,264.73 L341.88,264.60 L342.86,264.47 L343.86,264.35 L344.87,264.22 L345.91,264.10 L346.96,263.98 L348.03,263.86 L349.13,263.74 L350.23,263.62 L351.36,263.50 L352.51,263.38 L353.67,263.26 L354.85,263.15 L356.05,263.03 L357.27,262.91 L358.50,262.79 L359.76,262.67 L361.03,262.55 L362.31,262.43 L363.62,262.31 L364.94,262.19 L366.28,262.06 L367.64,261.94 L369.02,261.81 L370.41,261.69 L371.82,261.56 L373.25,261.43 L374.69,261.30 L376.16,261.17 L377.63,261.03 L379.13,260.90 L380.64,260.76 L382.17,260.62 L383.72,260.48 L385.28,260.34 L386.86,260.20 L388.46,260.06 L390.07,259.92 L391.70,259.77 L393.35,259.62 L395.01,259.47 L396.69,259.32 L398.39,259.17 L400.10,259.02 L401.83,258.86 L403.57,258.71 L405.33,258.55 L407.11,258.39 L408.91,258.23 L410.72,258.07 L412.54,257.90 L414.39,257.74 L416.24,257.57 L418.12,257.41 L420.01,257.24 L421.92,257.07 L423.84,256.89 L425.78,256.72 L427.73,256.55 L429.70,256.37 L431.69,256.19 L433.69,256.01 L435.71,255.83 L437.74,255.65 L439.79,255.47 L441.86,255.28 L443.94,255.10 L446.03,254.91 L448.14,254.72 L450.27,254.53 L452.41,254.34 L454.57,254.14 L456.75,253.95 L458.93,253.75 L461.14,253.56 L463.36,253.36 L465.59,253.16 L467.84,252.96 L470.11,252.75 L472.39,252.55" fill="none" stroke="#747474" stroke-width="1.9" stroke-dasharray="5 2.6" stroke-linejoin="round" />
<path d="M319.80,271.40 L319.83,271.36 L319.90,271.26 L320.00,271.11 L320.13,270.92 L320.30,270.70 L320.49,270.46 L320.72,270.20 L320.97,269.93 L321.24,269.64 L321.54,269.35 L321.87,269.06 L322.22,268.76 L322.59,268.47 L322.99,268.18 L323.41,267.89 L323.86,267.60 L324.33,267.32 L324.82,267.05 L325.33,266.78 L325.87,266.52 L326.42,266.26 L327.00,266.01 L327.60,265.76 L328.22,265.52 L328.86,265.28 L329.53,265.05 L330.21,264.82 L330.91,264.60 L331.64,264.39 L332.38,264.18 L333.15,263.97 L333.93,263.77 L334.74,263.57 L335.56,263.38 L336.41,263.19 L337.27,263.01 L338.16,262.83 L339.06,262.65 L339.98,262.48 L340.92,262.31 L341.88,262.14 L342.86,261.98 L343.86,261.82 L344.87,261.66 L345.91,261.50 L346.96,261.35 L348.03,261.20 L349.13,261.06 L350.23,260.91 L351.36,260.77 L352.51,260.63 L353.67,260.50 L354.85,260.36 L356.05,260.23 L357.27,260.10 L358.50,259.97 L359.76,259.84 L361.03,259.72 L362.31,259.60 L363.62,259.48 L364.94,259.36 L366.28,259.24 L367.64,259.13 L369.02,259.01 L370.41,258.90 L371.82,258.79 L373.25,258.68 L374.69,258.57 L376.16,258.47 L377.63,258.36 L379.13,258.26 L380.64,258.16 L382.17,258.06 L383.72,257.96 L385.28,257.86 L386.86,257.76 L388.46,257.67 L390.07,257.57 L391.70,257.48 L393.35,257.38 L395.01,257.29 L396.69,257.20 L398.39,257.11 L400.10,257.03 L401.83,256.94 L403.57,256.85 L405.33,256.77 L407.11,256.68 L408.91,256.60 L410.72,256.52 L412.54,256.43 L414.39,256.35 L416.24,256.27 L418.12,256.19 L420.01,256.11 L421.92,256.04 L423.84,255.96 L425.78,255.88 L427.73,255.81 L429.70,255.73 L431.69,255.66 L433.69,255.58 L435.71,255.51 L437.74,255.44 L439.79,255.37 L441.86,255.30 L443.94,255.23 L446.03,255.16 L448.14,255.09 L450.27,255.02 L452.41,254.95 L454.57,254.89 L456.75,254.82 L458.93,254.75 L461.14,254.69 L463.36,254.62 L465.59,254.56 L467.84,254.50 L470.11,254.43 L472.39,254.37" fill="none" stroke="#f01818" stroke-width="1.9" stroke-dasharray="5.5 1.8 1.4 1.8" stroke-linejoin="round" />
<path d="M319.80,271.40 L319.83,271.36 L319.90,271.27 L320.00,271.14 L320.13,270.97 L320.30,270.76 L320.49,270.53 L320.72,270.26 L320.97,269.97 L321.24,269.66 L321.54,269.33 L321.87,268.98 L322.22,268.62 L322.59,268.24 L322.99,267.86 L323.41,267.47 L323.86,267.07 L324.33,266.66 L324.82,266.25 L325.33,265.84 L325.87,265.42 L326.42,265.01 L327.00,264.59 L327.60,264.18 L328.22,263.76 L328.86,263.35 L329.53,262.94 L330.21,262.53 L330.91,262.13 L331.64,261.73 L332.38,261.33 L333.15,260.94 L333.93,260.55 L334.74,260.16 L335.56,259.78 L336.41,259.40 L337.27,259.03 L338.16,258.66 L339.06,258.29 L339.98,257.93 L340.92,257.57 L341.88,257.22 L342.86,256.87 L343.86,256.53 L344.87,256.19 L345.91,255.86 L346.96,255.52 L348.03,255.20 L349.13,254.87 L350.23,254.56 L351.36,254.24 L352.51,253.93 L353.67,253.62 L354.85,253.32 L356.05,253.02 L357.27,252.72 L358.50,252.43 L359.76,252.14 L361.03,251.86 L362.31,251.57 L363.62,251.30 L364.94,251.02 L366.28,250.75 L367.64,250.48 L369.02,250.21 L370.41,249.95 L371.82,249.69 L373.25,249.43 L374.69,249.18 L376.16,248.93 L377.63,248.68 L379.13,248.43 L380.64,248.19 L382.17,247.95 L383.72,247.71 L385.28,247.48 L386.86,247.24 L388.46,247.01 L390.07,246.78 L391.70,246.56 L393.35,246.33 L395.01,246.11 L396.69,245.89 L398.39,245.68 L400.10,245.46 L401.83,245.25 L403.57,245.04 L405.33,244.83 L407.11,244.63 L408.91,244.42 L410.72,244.22 L412.54,244.02 L414.39,243.82 L416.24,243.62 L418.12,243.43 L420.01,243.23 L421.92,243.04 L423.84,242.85 L425.78,242.66 L427.73,242.48 L429.70,242.29 L431.69,242.11 L433.69,241.93 L435.71,241.75 L437.74,241.57 L439.79,241.39 L441.86,241.22 L443.94,241.04 L446.03,240.87 L448.14,240.70 L450.27,240.53 L452.41,240.36 L454.57,240.19 L456.75,240.03 L458.93,239.86 L461.14,239.70 L463.36,239.54 L465.59,239.38 L467.84,239.22 L470.11,239.06 L472.39,238.90" fill="none" stroke="#000" stroke-width="2.6" stroke-linejoin="round" />
<rect x="314.6" y="198.9" width="161.09999999999997" height="89.49999999999997" fill="none" stroke="#5c5c5c" stroke-width="1.1"/>
<line x1="312.40000000000003" y1="206.40" x2="314.6" y2="206.40" stroke="#555" stroke-width="0.9"/>
<text x="311.40000000000003" y="209.20" font-size="9.4" text-anchor="end" fill="#1a1a1a">10</text>
<line x1="312.40000000000003" y1="238.90" x2="314.6" y2="238.90" stroke="#555" stroke-width="0.9"/>
<text x="311.40000000000003" y="241.70" font-size="9.4" text-anchor="end" fill="#1a1a1a">5</text>
<line x1="312.40000000000003" y1="271.40" x2="314.6" y2="271.40" stroke="#555" stroke-width="0.9"/>
<text x="311.40000000000003" y="274.20" font-size="9.4" text-anchor="end" fill="#1a1a1a">0</text>
<line x1="319.80" y1="288.4" x2="319.80" y2="290.59999999999997" stroke="#555" stroke-width="0.9"/>
<text x="319.80" y="299.00" font-size="9.2" text-anchor="middle" fill="#222">0</text>
<line x1="347.85" y1="288.4" x2="347.85" y2="290.59999999999997" stroke="#555" stroke-width="0.9"/>
<text x="347.85" y="299.00" font-size="9.2" text-anchor="middle" fill="#222">50</text>
<line x1="375.90" y1="288.4" x2="375.90" y2="290.59999999999997" stroke="#555" stroke-width="0.9"/>
<text x="375.90" y="299.00" font-size="9.2" text-anchor="middle" fill="#222">100</text>
<line x1="403.95" y1="288.4" x2="403.95" y2="290.59999999999997" stroke="#555" stroke-width="0.9"/>
<text x="403.95" y="299.00" font-size="9.2" text-anchor="middle" fill="#222">150</text>
<line x1="432.00" y1="288.4" x2="432.00" y2="290.59999999999997" stroke="#555" stroke-width="0.9"/>
<text x="432.00" y="299.00" font-size="9.2" text-anchor="middle" fill="#222">200</text>
<line x1="460.05" y1="288.4" x2="460.05" y2="290.59999999999997" stroke="#555" stroke-width="0.9"/>
<text x="460.05" y="299.00" font-size="9.2" text-anchor="middle" fill="#222">250</text>
<text x="317.6" y="214.2" font-size="15" fill="#111">f)</text>
<rect x="377.5" y="203" width="30.30000000000001" height="11.400000000000006" fill="#fff" stroke="#666" stroke-width="0.8"/>
<text x="392.65" y="212.00" font-size="10" text-anchor="middle" fill="#111" textLength="23.8" lengthAdjust="spacingAndGlyphs">COLC</text>
<rect x="522.5" y="3.5" width="162.0" height="89.8" fill="#fff" stroke="none"/>
<g fill="#bdb51c"><rect x="528.42" y="49.76" width="1.7" height="1.7"/><rect x="528.68" y="51.51" width="1.7" height="1.7"/><rect x="528.95" y="48.23" width="1.7" height="1.7"/><rect x="529.37" y="48.27" width="1.7" height="1.7"/><rect x="530.18" y="52.00" width="1.7" height="1.7"/><rect x="530.46" y="51.80" width="1.7" height="1.7"/><rect x="530.68" y="52.48" width="1.7" height="1.7"/><rect x="531.26" y="47.77" width="1.7" height="1.7"/><rect x="531.65" y="54.12" width="1.7" height="1.7"/><rect x="532.02" y="55.07" width="1.7" height="1.7"/><rect x="532.84" y="52.28" width="1.7" height="1.7"/><rect x="532.87" y="52.22" width="1.7" height="1.7"/><rect x="533.67" y="56.74" width="1.7" height="1.7"/><rect x="534.09" y="55.18" width="1.7" height="1.7"/><rect x="534.28" y="54.96" width="1.7" height="1.7"/><rect x="534.75" y="53.84" width="1.7" height="1.7"/><rect x="535.10" y="54.94" width="1.7" height="1.7"/><rect x="535.85" y="54.38" width="1.7" height="1.7"/><rect x="535.89" y="53.67" width="1.7" height="1.7"/><rect x="536.63" y="57.24" width="1.7" height="1.7"/><rect x="537.26" y="49.82" width="1.7" height="1.7"/><rect x="537.76" y="55.08" width="1.7" height="1.7"/><rect x="537.70" y="54.14" width="1.7" height="1.7"/><rect x="538.37" y="55.74" width="1.7" height="1.7"/><rect x="538.67" y="57.40" width="1.7" height="1.7"/><rect x="539.21" y="57.63" width="1.7" height="1.7"/><rect x="539.84" y="57.68" width="1.7" height="1.7"/><rect x="540.34" y="56.26" width="1.7" height="1.7"/><rect x="540.78" y="56.73" width="1.7" height="1.7"/><rect x="540.92" y="57.67" width="1.7" height="1.7"/><rect x="541.61" y="56.86" width="1.7" height="1.7"/><rect x="541.76" y="56.08" width="1.7" height="1.7"/><rect x="542.17" y="54.69" width="1.7" height="1.7"/><rect x="543.03" y="57.99" width="1.7" height="1.7"/><rect x="543.20" y="57.30" width="1.7" height="1.7"/><rect x="543.97" y="58.10" width="1.7" height="1.7"/><rect x="544.32" y="56.78" width="1.7" height="1.7"/><rect x="544.67" y="55.85" width="1.7" height="1.7"/><rect x="545.02" y="56.92" width="1.7" height="1.7"/><rect x="545.65" y="54.59" width="1.7" height="1.7"/><rect x="545.66" y="60.78" width="1.7" height="1.7"/><rect x="546.25" y="56.17" width="1.7" height="1.7"/><rect x="547.07" y="56.41" width="1.7" height="1.7"/><rect x="547.30" y="55.58" width="1.7" height="1.7"/><rect x="547.90" y="58.29" width="1.7" height="1.7"/><rect x="548.11" y="57.73" width="1.7" height="1.7"/><rect x="548.83" y="54.15" width="1.7" height="1.7"/><rect x="548.80" y="59.95" width="1.7" height="1.7"/><rect x="549.31" y="59.33" width="1.7" height="1.7"/><rect x="549.84" y="56.98" width="1.7" height="1.7"/><rect x="550.22" y="56.85" width="1.7" height="1.7"/><rect x="550.85" y="58.81" width="1.7" height="1.7"/><rect x="550.97" y="59.15" width="1.7" height="1.7"/><rect x="551.59" y="58.72" width="1.7" height="1.7"/><rect x="552.03" y="59.39" width="1.7" height="1.7"/><rect x="552.41" y="57.58" width="1.7" height="1.7"/><rect x="552.77" y="60.80" width="1.7" height="1.7"/><rect x="553.24" y="60.46" width="1.7" height="1.7"/><rect x="553.98" y="57.00" width="1.7" height="1.7"/><rect x="554.12" y="56.97" width="1.7" height="1.7"/><rect x="554.74" y="56.01" width="1.7" height="1.7"/><rect x="555.12" y="60.51" width="1.7" height="1.7"/><rect x="555.58" y="54.14" width="1.7" height="1.7"/><rect x="556.16" y="60.21" width="1.7" height="1.7"/><rect x="556.77" y="57.36" width="1.7" height="1.7"/><rect x="557.29" y="59.95" width="1.7" height="1.7"/><rect x="557.58" y="58.11" width="1.7" height="1.7"/><rect x="557.73" y="54.79" width="1.7" height="1.7"/><rect x="558.30" y="59.06" width="1.7" height="1.7"/><rect x="558.97" y="62.80" width="1.7" height="1.7"/><rect x="559.21" y="57.03" width="1.7" height="1.7"/><rect x="559.49" y="56.85" width="1.7" height="1.7"/><rect x="560.20" y="59.26" width="1.7" height="1.7"/><rect x="560.79" y="57.19" width="1.7" height="1.7"/><rect x="560.93" y="58.10" width="1.7" height="1.7"/><rect x="561.45" y="58.66" width="1.7" height="1.7"/><rect x="561.90" y="58.42" width="1.7" height="1.7"/><rect x="562.57" y="58.00" width="1.7" height="1.7"/><rect x="562.95" y="58.38" width="1.7" height="1.7"/><rect x="563.48" y="59.59" width="1.7" height="1.7"/><rect x="563.92" y="59.00" width="1.7" height="1.7"/><rect x="564.38" y="60.71" width="1.7" height="1.7"/><rect x="564.79" y="60.03" width="1.7" height="1.7"/><rect x="564.94" y="57.80" width="1.7" height="1.7"/><rect x="565.62" y="61.80" width="1.7" height="1.7"/><rect x="565.70" y="59.89" width="1.7" height="1.7"/><rect x="566.28" y="61.68" width="1.7" height="1.7"/><rect x="566.97" y="59.76" width="1.7" height="1.7"/><rect x="567.06" y="61.51" width="1.7" height="1.7"/><rect x="567.61" y="62.42" width="1.7" height="1.7"/><rect x="567.89" y="60.70" width="1.7" height="1.7"/><rect x="568.41" y="61.22" width="1.7" height="1.7"/><rect x="568.74" y="64.83" width="1.7" height="1.7"/><rect x="569.47" y="60.63" width="1.7" height="1.7"/><rect x="570.07" y="61.29" width="1.7" height="1.7"/><rect x="570.11" y="62.80" width="1.7" height="1.7"/><rect x="570.84" y="62.31" width="1.7" height="1.7"/><rect x="571.10" y="63.18" width="1.7" height="1.7"/><rect x="571.61" y="59.61" width="1.7" height="1.7"/><rect x="572.19" y="63.01" width="1.7" height="1.7"/><rect x="572.28" y="60.26" width="1.7" height="1.7"/><rect x="573.05" y="62.53" width="1.7" height="1.7"/><rect x="573.58" y="61.01" width="1.7" height="1.7"/><rect x="574.03" y="62.39" width="1.7" height="1.7"/><rect x="574.30" y="60.86" width="1.7" height="1.7"/><rect x="574.54" y="59.73" width="1.7" height="1.7"/><rect x="574.98" y="59.71" width="1.7" height="1.7"/><rect x="575.62" y="61.90" width="1.7" height="1.7"/><rect x="576.17" y="61.41" width="1.7" height="1.7"/><rect x="576.30" y="61.75" width="1.7" height="1.7"/><rect x="576.99" y="64.94" width="1.7" height="1.7"/><rect x="577.18" y="63.44" width="1.7" height="1.7"/><rect x="578.12" y="61.62" width="1.7" height="1.7"/><rect x="578.11" y="57.37" width="1.7" height="1.7"/><rect x="578.89" y="66.91" width="1.7" height="1.7"/><rect x="579.38" y="59.71" width="1.7" height="1.7"/><rect x="579.64" y="56.35" width="1.7" height="1.7"/><rect x="580.34" y="60.73" width="1.7" height="1.7"/><rect x="580.69" y="62.43" width="1.7" height="1.7"/><rect x="581.21" y="60.14" width="1.7" height="1.7"/><rect x="581.56" y="61.14" width="1.7" height="1.7"/><rect x="581.67" y="60.61" width="1.7" height="1.7"/><rect x="582.48" y="62.96" width="1.7" height="1.7"/><rect x="582.55" y="66.52" width="1.7" height="1.7"/><rect x="583.03" y="62.09" width="1.7" height="1.7"/><rect x="583.50" y="63.84" width="1.7" height="1.7"/><rect x="583.82" y="62.17" width="1.7" height="1.7"/><rect x="584.35" y="59.63" width="1.7" height="1.7"/><rect x="585.07" y="58.18" width="1.7" height="1.7"/><rect x="585.63" y="60.53" width="1.7" height="1.7"/><rect x="585.64" y="59.17" width="1.7" height="1.7"/><rect x="586.32" y="63.57" width="1.7" height="1.7"/><rect x="586.95" y="63.81" width="1.7" height="1.7"/><rect x="587.22" y="66.06" width="1.7" height="1.7"/><rect x="587.41" y="64.42" width="1.7" height="1.7"/><rect x="588.35" y="63.87" width="1.7" height="1.7"/><rect x="588.68" y="63.99" width="1.7" height="1.7"/><rect x="588.83" y="59.88" width="1.7" height="1.7"/><rect x="589.33" y="62.73" width="1.7" height="1.7"/><rect x="590.00" y="63.80" width="1.7" height="1.7"/><rect x="590.43" y="62.21" width="1.7" height="1.7"/><rect x="590.48" y="62.01" width="1.7" height="1.7"/><rect x="591.26" y="64.12" width="1.7" height="1.7"/><rect x="591.89" y="65.33" width="1.7" height="1.7"/><rect x="591.96" y="64.31" width="1.7" height="1.7"/><rect x="592.23" y="61.68" width="1.7" height="1.7"/><rect x="593.02" y="62.62" width="1.7" height="1.7"/><rect x="593.36" y="67.17" width="1.7" height="1.7"/><rect x="593.64" y="63.25" width="1.7" height="1.7"/><rect x="594.13" y="63.19" width="1.7" height="1.7"/><rect x="594.45" y="63.32" width="1.7" height="1.7"/><rect x="595.09" y="61.53" width="1.7" height="1.7"/><rect x="595.46" y="61.87" width="1.7" height="1.7"/><rect x="596.11" y="64.25" width="1.7" height="1.7"/><rect x="596.57" y="63.86" width="1.7" height="1.7"/><rect x="596.94" y="60.01" width="1.7" height="1.7"/><rect x="597.25" y="59.63" width="1.7" height="1.7"/><rect x="597.64" y="60.84" width="1.7" height="1.7"/><rect x="598.49" y="61.64" width="1.7" height="1.7"/><rect x="598.88" y="64.59" width="1.7" height="1.7"/><rect x="598.90" y="62.39" width="1.7" height="1.7"/><rect x="599.69" y="65.09" width="1.7" height="1.7"/><rect x="600.14" y="64.11" width="1.7" height="1.7"/><rect x="600.47" y="60.38" width="1.7" height="1.7"/><rect x="600.80" y="64.70" width="1.7" height="1.7"/><rect x="601.61" y="61.10" width="1.7" height="1.7"/><rect x="601.78" y="62.83" width="1.7" height="1.7"/><rect x="602.13" y="60.25" width="1.7" height="1.7"/><rect x="602.45" y="62.29" width="1.7" height="1.7"/><rect x="603.19" y="62.56" width="1.7" height="1.7"/><rect x="603.44" y="64.03" width="1.7" height="1.7"/><rect x="604.11" y="66.56" width="1.7" height="1.7"/><rect x="604.67" y="63.83" width="1.7" height="1.7"/><rect x="604.76" y="64.33" width="1.7" height="1.7"/><rect x="605.13" y="62.14" width="1.7" height="1.7"/><rect x="606.04" y="63.14" width="1.7" height="1.7"/><rect x="605.99" y="66.93" width="1.7" height="1.7"/><rect x="606.90" y="63.92" width="1.7" height="1.7"/><rect x="607.29" y="66.14" width="1.7" height="1.7"/><rect x="607.57" y="63.75" width="1.7" height="1.7"/><rect x="607.89" y="62.97" width="1.7" height="1.7"/><rect x="608.23" y="65.66" width="1.7" height="1.7"/><rect x="609.04" y="61.10" width="1.7" height="1.7"/><rect x="609.57" y="64.40" width="1.7" height="1.7"/><rect x="609.85" y="65.58" width="1.7" height="1.7"/><rect x="610.23" y="63.48" width="1.7" height="1.7"/><rect x="610.57" y="66.48" width="1.7" height="1.7"/><rect x="611.23" y="62.75" width="1.7" height="1.7"/><rect x="611.81" y="64.47" width="1.7" height="1.7"/><rect x="611.77" y="64.26" width="1.7" height="1.7"/><rect x="612.62" y="62.73" width="1.7" height="1.7"/><rect x="613.17" y="64.29" width="1.7" height="1.7"/><rect x="613.58" y="66.07" width="1.7" height="1.7"/><rect x="613.72" y="63.98" width="1.7" height="1.7"/><rect x="614.33" y="59.92" width="1.7" height="1.7"/><rect x="614.81" y="67.20" width="1.7" height="1.7"/><rect x="615.13" y="69.21" width="1.7" height="1.7"/><rect x="615.78" y="65.69" width="1.7" height="1.7"/><rect x="616.00" y="68.19" width="1.7" height="1.7"/><rect x="616.60" y="66.02" width="1.7" height="1.7"/><rect x="616.76" y="65.21" width="1.7" height="1.7"/><rect x="617.43" y="60.58" width="1.7" height="1.7"/><rect x="617.61" y="62.43" width="1.7" height="1.7"/><rect x="617.99" y="60.89" width="1.7" height="1.7"/><rect x="618.61" y="61.69" width="1.7" height="1.7"/><rect x="618.94" y="64.01" width="1.7" height="1.7"/><rect x="619.69" y="64.53" width="1.7" height="1.7"/><rect x="620.10" y="65.74" width="1.7" height="1.7"/><rect x="620.23" y="67.78" width="1.7" height="1.7"/><rect x="620.96" y="67.14" width="1.7" height="1.7"/><rect x="621.53" y="61.92" width="1.7" height="1.7"/><rect x="622.02" y="61.05" width="1.7" height="1.7"/><rect x="622.47" y="63.15" width="1.7" height="1.7"/><rect x="622.94" y="63.74" width="1.7" height="1.7"/><rect x="622.91" y="63.96" width="1.7" height="1.7"/><rect x="623.31" y="62.71" width="1.7" height="1.7"/><rect x="624.09" y="67.90" width="1.7" height="1.7"/><rect x="624.64" y="66.04" width="1.7" height="1.7"/><rect x="624.68" y="66.14" width="1.7" height="1.7"/><rect x="625.12" y="64.87" width="1.7" height="1.7"/><rect x="625.69" y="66.33" width="1.7" height="1.7"/><rect x="626.19" y="63.45" width="1.7" height="1.7"/><rect x="626.56" y="64.81" width="1.7" height="1.7"/><rect x="627.25" y="66.25" width="1.7" height="1.7"/><rect x="627.83" y="63.77" width="1.7" height="1.7"/><rect x="628.01" y="63.42" width="1.7" height="1.7"/><rect x="628.19" y="67.36" width="1.7" height="1.7"/><rect x="628.85" y="68.34" width="1.7" height="1.7"/><rect x="629.26" y="63.80" width="1.7" height="1.7"/><rect x="629.90" y="66.56" width="1.7" height="1.7"/><rect x="630.43" y="65.55" width="1.7" height="1.7"/><rect x="630.45" y="64.69" width="1.7" height="1.7"/><rect x="630.84" y="66.36" width="1.7" height="1.7"/><rect x="631.40" y="64.84" width="1.7" height="1.7"/><rect x="631.73" y="70.85" width="1.7" height="1.7"/><rect x="632.44" y="68.92" width="1.7" height="1.7"/><rect x="632.72" y="65.14" width="1.7" height="1.7"/><rect x="633.33" y="67.55" width="1.7" height="1.7"/><rect x="633.65" y="62.26" width="1.7" height="1.7"/><rect x="634.47" y="65.72" width="1.7" height="1.7"/><rect x="634.78" y="64.07" width="1.7" height="1.7"/><rect x="635.11" y="63.24" width="1.7" height="1.7"/><rect x="635.32" y="63.63" width="1.7" height="1.7"/><rect x="636.16" y="66.67" width="1.7" height="1.7"/><rect x="636.51" y="68.88" width="1.7" height="1.7"/><rect x="636.81" y="67.19" width="1.7" height="1.7"/><rect x="637.55" y="64.40" width="1.7" height="1.7"/><rect x="637.54" y="65.23" width="1.7" height="1.7"/><rect x="638.05" y="65.89" width="1.7" height="1.7"/><rect x="638.53" y="63.68" width="1.7" height="1.7"/><rect x="639.04" y="67.03" width="1.7" height="1.7"/><rect x="639.76" y="65.45" width="1.7" height="1.7"/><rect x="640.01" y="63.46" width="1.7" height="1.7"/><rect x="640.58" y="65.67" width="1.7" height="1.7"/><rect x="640.80" y="68.64" width="1.7" height="1.7"/><rect x="641.23" y="63.57" width="1.7" height="1.7"/><rect x="641.86" y="62.56" width="1.7" height="1.7"/><rect x="642.35" y="64.75" width="1.7" height="1.7"/><rect x="642.81" y="63.93" width="1.7" height="1.7"/><rect x="643.14" y="64.26" width="1.7" height="1.7"/><rect x="643.76" y="64.27" width="1.7" height="1.7"/><rect x="643.84" y="65.26" width="1.7" height="1.7"/><rect x="644.54" y="64.31" width="1.7" height="1.7"/><rect x="645.07" y="65.27" width="1.7" height="1.7"/><rect x="645.18" y="64.96" width="1.7" height="1.7"/><rect x="645.67" y="67.14" width="1.7" height="1.7"/><rect x="646.11" y="66.14" width="1.7" height="1.7"/><rect x="646.48" y="62.77" width="1.7" height="1.7"/><rect x="646.87" y="66.52" width="1.7" height="1.7"/><rect x="647.80" y="64.46" width="1.7" height="1.7"/><rect x="648.25" y="64.89" width="1.7" height="1.7"/><rect x="648.59" y="66.31" width="1.7" height="1.7"/><rect x="648.70" y="68.24" width="1.7" height="1.7"/><rect x="649.39" y="65.05" width="1.7" height="1.7"/><rect x="649.69" y="65.28" width="1.7" height="1.7"/><rect x="649.94" y="69.03" width="1.7" height="1.7"/><rect x="650.75" y="64.06" width="1.7" height="1.7"/><rect x="651.09" y="67.72" width="1.7" height="1.7"/><rect x="651.33" y="67.88" width="1.7" height="1.7"/><rect x="652.03" y="68.98" width="1.7" height="1.7"/><rect x="652.65" y="64.39" width="1.7" height="1.7"/><rect x="652.82" y="69.28" width="1.7" height="1.7"/><rect x="653.26" y="67.80" width="1.7" height="1.7"/><rect x="653.60" y="67.03" width="1.7" height="1.7"/><rect x="654.35" y="70.44" width="1.7" height="1.7"/><rect x="654.75" y="64.53" width="1.7" height="1.7"/><rect x="655.16" y="68.81" width="1.7" height="1.7"/><rect x="655.50" y="67.48" width="1.7" height="1.7"/><rect x="655.74" y="63.78" width="1.7" height="1.7"/><rect x="656.37" y="65.78" width="1.7" height="1.7"/><rect x="656.93" y="69.58" width="1.7" height="1.7"/><rect x="657.16" y="68.43" width="1.7" height="1.7"/><rect x="657.81" y="65.46" width="1.7" height="1.7"/><rect x="658.14" y="68.61" width="1.7" height="1.7"/><rect x="658.45" y="70.67" width="1.7" height="1.7"/><rect x="659.16" y="66.19" width="1.7" height="1.7"/><rect x="659.51" y="68.53" width="1.7" height="1.7"/><rect x="660.23" y="64.13" width="1.7" height="1.7"/><rect x="660.22" y="65.98" width="1.7" height="1.7"/><rect x="661.01" y="64.34" width="1.7" height="1.7"/><rect x="661.07" y="67.51" width="1.7" height="1.7"/><rect x="661.78" y="69.75" width="1.7" height="1.7"/><rect x="662.19" y="67.48" width="1.7" height="1.7"/><rect x="662.70" y="65.52" width="1.7" height="1.7"/><rect x="663.02" y="68.86" width="1.7" height="1.7"/><rect x="663.76" y="65.97" width="1.7" height="1.7"/><rect x="663.90" y="63.76" width="1.7" height="1.7"/><rect x="664.55" y="62.57" width="1.7" height="1.7"/><rect x="664.76" y="62.71" width="1.7" height="1.7"/><rect x="665.04" y="67.09" width="1.7" height="1.7"/><rect x="665.46" y="64.78" width="1.7" height="1.7"/><rect x="666.13" y="69.57" width="1.7" height="1.7"/><rect x="666.54" y="65.34" width="1.7" height="1.7"/><rect x="666.93" y="66.32" width="1.7" height="1.7"/><rect x="667.75" y="63.60" width="1.7" height="1.7"/><rect x="667.96" y="66.19" width="1.7" height="1.7"/><rect x="668.33" y="63.34" width="1.7" height="1.7"/><rect x="668.68" y="64.51" width="1.7" height="1.7"/><rect x="669.45" y="64.41" width="1.7" height="1.7"/><rect x="669.80" y="69.51" width="1.7" height="1.7"/><rect x="670.02" y="66.47" width="1.7" height="1.7"/><rect x="670.87" y="68.74" width="1.7" height="1.7"/><rect x="671.23" y="64.72" width="1.7" height="1.7"/><rect x="671.68" y="68.69" width="1.7" height="1.7"/><rect x="671.97" y="66.71" width="1.7" height="1.7"/><rect x="672.18" y="66.10" width="1.7" height="1.7"/><rect x="673.03" y="68.72" width="1.7" height="1.7"/><rect x="673.14" y="68.19" width="1.7" height="1.7"/><rect x="673.68" y="66.02" width="1.7" height="1.7"/><rect x="673.99" y="63.89" width="1.7" height="1.7"/><rect x="674.48" y="67.08" width="1.7" height="1.7"/><rect x="674.91" y="67.89" width="1.7" height="1.7"/><rect x="675.45" y="64.99" width="1.7" height="1.7"/><rect x="676.01" y="68.23" width="1.7" height="1.7"/><rect x="676.62" y="68.83" width="1.7" height="1.7"/><rect x="677.02" y="63.68" width="1.7" height="1.7"/><rect x="677.50" y="65.92" width="1.7" height="1.7"/><rect x="677.87" y="64.84" width="1.7" height="1.7"/><rect x="678.23" y="64.33" width="1.7" height="1.7"/><rect x="678.33" y="62.32" width="1.7" height="1.7"/></g>
<path d="M527.90,48.40 L527.93,48.37 L528.00,48.28 L528.10,48.16 L528.23,48.00 L528.40,47.80 L528.59,47.57 L528.81,47.31 L529.06,47.03 L529.34,46.72 L529.63,46.39 L529.96,46.03 L530.31,45.66 L530.68,45.27 L531.08,44.87 L531.50,44.46 L531.94,44.03 L532.41,43.59 L532.90,43.15 L533.41,42.70 L533.94,42.24 L534.50,41.79 L535.07,41.33 L535.67,40.87 L536.29,40.41 L536.93,39.96 L537.59,39.51 L538.27,39.06 L538.97,38.62 L539.69,38.19 L540.43,37.77 L541.20,37.35 L541.98,36.94 L542.78,36.54 L543.60,36.15 L544.44,35.78 L545.30,35.41 L546.18,35.05 L547.08,34.71 L548.00,34.37 L548.94,34.05 L549.89,33.74 L550.87,33.45 L551.86,33.16 L552.88,32.88 L553.91,32.62 L554.96,32.37 L556.02,32.13 L557.11,31.90 L558.21,31.68 L559.34,31.47 L560.48,31.27 L561.64,31.08 L562.81,30.90 L564.01,30.72 L565.22,30.56 L566.45,30.41 L567.70,30.26 L568.96,30.12 L570.25,29.99 L571.55,29.86 L572.87,29.74 L574.20,29.63 L575.56,29.52 L576.93,29.42 L578.31,29.33 L579.72,29.23 L581.14,29.15 L582.58,29.06 L584.03,28.99 L585.51,28.91 L587.00,28.84 L588.50,28.77 L590.03,28.70 L591.57,28.64 L593.12,28.58 L594.70,28.52 L596.29,28.47 L597.90,28.41 L599.52,28.36 L601.16,28.31 L602.82,28.26 L604.49,28.21 L606.18,28.17 L607.88,28.12 L609.61,28.07 L611.34,28.03 L613.10,27.99 L614.87,27.94 L616.66,27.90 L618.46,27.86 L620.28,27.82 L622.11,27.78 L623.97,27.74 L625.83,27.70 L627.72,27.66 L629.62,27.62 L631.53,27.58 L633.46,27.54 L635.41,27.50 L637.37,27.46 L639.35,27.42 L641.34,27.38 L643.35,27.34 L645.38,27.30 L647.42,27.26 L649.48,27.22 L651.55,27.17 L653.64,27.13 L655.74,27.09 L657.86,27.05 L659.99,27.01 L662.14,26.97 L664.31,26.93 L666.49,26.88 L668.68,26.84 L670.90,26.80 L673.12,26.76 L675.36,26.71 L677.62,26.67 L679.89,26.62" fill="none" stroke="#2288f0" stroke-width="1.8" stroke-linejoin="round" />
<path d="M527.90,48.40 L527.93,48.40 L528.00,48.40 L528.10,48.40 L528.23,48.41 L528.40,48.41 L528.59,48.42 L528.81,48.42 L529.06,48.43 L529.34,48.44 L529.63,48.44 L529.96,48.45 L530.31,48.46 L530.68,48.47 L531.08,48.48 L531.50,48.49 L531.94,48.50 L532.41,48.51 L532.90,48.53 L533.41,48.54 L533.94,48.55 L534.50,48.57 L535.07,48.58 L535.67,48.60 L536.29,48.61 L536.93,48.63 L537.59,48.64 L538.27,48.66 L538.97,48.68 L539.69,48.70 L540.43,48.71 L541.20,48.73 L541.98,48.75 L542.78,48.77 L543.60,48.79 L544.44,48.82 L545.30,48.84 L546.18,48.86 L547.08,48.88 L548.00,48.90 L548.94,48.93 L549.89,48.95 L550.87,48.98 L551.86,49.00 L552.88,49.03 L553.91,49.05 L554.96,49.08 L556.02,49.11 L557.11,49.13 L558.21,49.16 L559.34,49.19 L560.48,49.22 L561.64,49.25 L562.81,49.28 L564.01,49.31 L565.22,49.34 L566.45,49.37 L567.70,49.40 L568.96,49.43 L570.25,49.46 L571.55,49.50 L572.87,49.53 L574.20,49.56 L575.56,49.60 L576.93,49.63 L578.31,49.67 L579.72,49.70 L581.14,49.74 L582.58,49.77 L584.03,49.81 L585.51,49.85 L587.00,49.88 L588.50,49.92 L590.03,49.96 L591.57,50.00 L593.12,50.04 L594.70,50.08 L596.29,50.12 L597.90,50.16 L599.52,50.20 L601.16,50.24 L602.82,50.28 L604.49,50.32 L606.18,50.37 L607.88,50.41 L609.61,50.45 L611.34,50.50 L613.10,50.54 L614.87,50.58 L616.66,50.63 L618.46,50.67 L620.28,50.72 L622.11,50.77 L623.97,50.81 L625.83,50.86 L627.72,50.91 L629.62,50.95 L631.53,51.00 L633.46,51.05 L635.41,51.10 L637.37,51.15 L639.35,51.20 L641.34,51.25 L643.35,51.30 L645.38,51.35 L647.42,51.40 L649.48,51.45 L651.55,51.50 L653.64,51.56 L655.74,51.61 L657.86,51.66 L659.99,51.72 L662.14,51.77 L664.31,51.83 L666.49,51.88 L668.68,51.94 L670.90,51.99 L673.12,52.05 L675.36,52.10 L677.62,52.16 L679.89,52.22" fill="none" stroke="#747474" stroke-width="1.9" stroke-dasharray="5 2.6" stroke-linejoin="round" />
<path d="M527.90,48.40 L527.93,48.42 L528.00,48.47 L528.10,48.55 L528.23,48.65 L528.40,48.77 L528.59,48.90 L528.81,49.06 L529.06,49.23 L529.34,49.41 L529.63,49.61 L529.96,49.82 L530.31,50.03 L530.68,50.26 L531.08,50.50 L531.50,50.74 L531.94,50.99 L532.41,51.24 L532.90,51.50 L533.41,51.76 L533.94,52.02 L534.50,52.28 L535.07,52.55 L535.67,52.82 L536.29,53.09 L536.93,53.36 L537.59,53.63 L538.27,53.90 L538.97,54.16 L539.69,54.43 L540.43,54.70 L541.20,54.96 L541.98,55.23 L542.78,55.49 L543.60,55.75 L544.44,56.01 L545.30,56.26 L546.18,56.52 L547.08,56.77 L548.00,57.02 L548.94,57.26 L549.89,57.51 L550.87,57.75 L551.86,57.99 L552.88,58.23 L553.91,58.47 L554.96,58.70 L556.02,58.93 L557.11,59.16 L558.21,59.38 L559.34,59.61 L560.48,59.83 L561.64,60.05 L562.81,60.26 L564.01,60.48 L565.22,60.69 L566.45,60.90 L567.70,61.11 L568.96,61.31 L570.25,61.52 L571.55,61.72 L572.87,61.92 L574.20,62.11 L575.56,62.31 L576.93,62.50 L578.31,62.69 L579.72,62.88 L581.14,63.07 L582.58,63.25 L584.03,63.44 L585.51,63.62 L587.00,63.80 L588.50,63.97 L590.03,64.15 L591.57,64.32 L593.12,64.50 L594.70,64.67 L596.29,64.84 L597.90,65.00 L599.52,65.17 L601.16,65.33 L602.82,65.50 L604.49,65.66 L606.18,65.82 L607.88,65.98 L609.61,66.13 L611.34,66.29 L613.10,66.44 L614.87,66.59 L616.66,66.74 L618.46,66.89 L620.28,67.04 L622.11,67.19 L623.97,67.34 L625.83,67.48 L627.72,67.62 L629.62,67.77 L631.53,67.91 L633.46,68.05 L635.41,68.18 L637.37,68.32 L639.35,68.46 L641.34,68.59 L643.35,68.73 L645.38,68.86 L647.42,68.99 L649.48,69.12 L651.55,69.25 L653.64,69.38 L655.74,69.51 L657.86,69.64 L659.99,69.76 L662.14,69.89 L664.31,70.01 L666.49,70.13 L668.68,70.25 L670.90,70.38 L673.12,70.50 L675.36,70.61 L677.62,70.73 L679.89,70.85" fill="none" stroke="#000" stroke-width="2.6" stroke-linejoin="round" />
<path d="M527.90,48.40 L527.93,48.49 L528.00,48.70 L528.10,49.01 L528.23,49.40 L528.40,49.86 L528.59,50.38 L528.81,50.94 L529.06,51.53 L529.34,52.15 L529.63,52.79 L529.96,53.45 L530.31,54.10 L530.68,54.77 L531.08,55.43 L531.50,56.08 L531.94,56.73 L532.41,57.38 L532.90,58.01 L533.41,58.64 L533.94,59.25 L534.50,59.86 L535.07,60.45 L535.67,61.03 L536.29,61.60 L536.93,62.16 L537.59,62.71 L538.27,63.25 L538.97,63.77 L539.69,64.29 L540.43,64.79 L541.20,65.28 L541.98,65.77 L542.78,66.24 L543.60,66.70 L544.44,67.16 L545.30,67.61 L546.18,68.04 L547.08,68.47 L548.00,68.89 L548.94,69.31 L549.89,69.71 L550.87,70.11 L551.86,70.50 L552.88,70.88 L553.91,71.26 L554.96,71.63 L556.02,71.99 L557.11,72.35 L558.21,72.70 L559.34,73.05 L560.48,73.39 L561.64,73.72 L562.81,74.05 L564.01,74.37 L565.22,74.69 L566.45,75.01 L567.70,75.32 L568.96,75.62 L570.25,75.92 L571.55,76.22 L572.87,76.51 L574.20,76.79 L575.56,77.08 L576.93,77.36 L578.31,77.63 L579.72,77.90 L581.14,78.17 L582.58,78.44 L584.03,78.70 L585.51,78.96 L587.00,79.21 L588.50,79.46 L590.03,79.71 L591.57,79.95 L593.12,80.20 L594.70,80.43 L596.29,80.67 L597.90,80.90 L599.52,81.13 L601.16,81.36 L602.82,81.59 L604.49,81.81 L606.18,82.03 L607.88,82.25 L609.61,82.46 L611.34,82.68 L613.10,82.89 L614.87,83.10 L616.66,83.30 L618.46,83.51 L620.28,83.71 L622.11,83.91 L623.97,84.11 L625.83,84.30 L627.72,84.50 L629.62,84.69 L631.53,84.88 L633.46,85.07 L635.41,85.26 L637.37,85.44 L639.35,85.62 L641.34,85.81 L643.35,85.98 L645.38,86.16 L647.42,86.34 L649.48,86.51 L651.55,86.69 L653.64,86.86 L655.74,87.03 L657.86,87.20 L659.99,87.37 L662.14,87.53 L664.31,87.70 L666.49,87.86 L668.68,88.02 L670.90,88.18 L673.12,88.34 L675.36,88.50 L677.62,88.65 L679.89,88.81" fill="none" stroke="#f01818" stroke-width="1.9" stroke-dasharray="5.5 1.8 1.4 1.8" stroke-linejoin="round" />
<rect x="522.5" y="3.5" width="162.0" height="89.8" fill="none" stroke="#5c5c5c" stroke-width="1.1"/>
<line x1="520.3" y1="3.50" x2="522.5" y2="3.50" stroke="#555" stroke-width="0.9"/>
<text x="519.3" y="6.30" font-size="9.4" text-anchor="end" fill="#1a1a1a">10</text>
<line x1="520.3" y1="25.95" x2="522.5" y2="25.95" stroke="#555" stroke-width="0.9"/>
<text x="519.3" y="28.75" font-size="9.4" text-anchor="end" fill="#1a1a1a">5</text>
<line x1="520.3" y1="48.40" x2="522.5" y2="48.40" stroke="#555" stroke-width="0.9"/>
<text x="519.3" y="51.20" font-size="9.4" text-anchor="end" fill="#1a1a1a">0</text>
<line x1="520.3" y1="70.85" x2="522.5" y2="70.85" stroke="#555" stroke-width="0.9"/>
<text x="519.3" y="73.65" font-size="9.4" text-anchor="end" fill="#1a1a1a">-5</text>
<line x1="520.3" y1="93.30" x2="522.5" y2="93.30" stroke="#555" stroke-width="0.9"/>
<text x="519.3" y="96.10" font-size="9.4" text-anchor="end" fill="#1a1a1a">-10</text>
<line x1="527.90" y1="93.3" x2="527.90" y2="95.5" stroke="#555" stroke-width="0.9"/>
<line x1="555.84" y1="93.3" x2="555.84" y2="95.5" stroke="#555" stroke-width="0.9"/>
<line x1="583.78" y1="93.3" x2="583.78" y2="95.5" stroke="#555" stroke-width="0.9"/>
<line x1="611.72" y1="93.3" x2="611.72" y2="95.5" stroke="#555" stroke-width="0.9"/>
<line x1="639.66" y1="93.3" x2="639.66" y2="95.5" stroke="#555" stroke-width="0.9"/>
<line x1="667.60" y1="93.3" x2="667.60" y2="95.5" stroke="#555" stroke-width="0.9"/>
<text x="526.5" y="17.6" font-size="15" fill="#111">c)</text>
<rect x="595.2" y="8" width="32.0" height="11.8" fill="#fff" stroke="#666" stroke-width="0.8"/>
<text x="611.20" y="17.40" font-size="10" text-anchor="middle" fill="#111" textLength="25.5" lengthAdjust="spacingAndGlyphs">PSGA</text>
<rect x="522.5" y="100.4" width="162.0" height="89.6" fill="#fff" stroke="none"/>
<g fill="#bdb51c"><rect x="528.25" y="147.53" width="1.7" height="1.7"/><rect x="528.49" y="147.15" width="1.7" height="1.7"/><rect x="528.93" y="147.48" width="1.7" height="1.7"/><rect x="529.69" y="148.80" width="1.7" height="1.7"/><rect x="530.22" y="147.58" width="1.7" height="1.7"/><rect x="530.62" y="146.71" width="1.7" height="1.7"/><rect x="530.97" y="145.45" width="1.7" height="1.7"/><rect x="531.53" y="150.43" width="1.7" height="1.7"/><rect x="531.99" y="151.90" width="1.7" height="1.7"/><rect x="532.47" y="148.02" width="1.7" height="1.7"/><rect x="532.76" y="146.46" width="1.7" height="1.7"/><rect x="533.33" y="152.28" width="1.7" height="1.7"/><rect x="533.68" y="147.77" width="1.7" height="1.7"/><rect x="533.98" y="149.05" width="1.7" height="1.7"/><rect x="534.56" y="148.32" width="1.7" height="1.7"/><rect x="534.78" y="150.20" width="1.7" height="1.7"/><rect x="535.48" y="149.19" width="1.7" height="1.7"/><rect x="535.94" y="152.73" width="1.7" height="1.7"/><rect x="536.12" y="150.31" width="1.7" height="1.7"/><rect x="537.04" y="151.74" width="1.7" height="1.7"/><rect x="537.40" y="149.22" width="1.7" height="1.7"/><rect x="537.96" y="150.98" width="1.7" height="1.7"/><rect x="538.48" y="148.55" width="1.7" height="1.7"/><rect x="538.45" y="151.36" width="1.7" height="1.7"/><rect x="538.88" y="151.68" width="1.7" height="1.7"/><rect x="539.66" y="151.55" width="1.7" height="1.7"/><rect x="539.96" y="153.55" width="1.7" height="1.7"/><rect x="540.78" y="152.02" width="1.7" height="1.7"/><rect x="541.19" y="150.24" width="1.7" height="1.7"/><rect x="541.17" y="150.58" width="1.7" height="1.7"/><rect x="541.79" y="152.51" width="1.7" height="1.7"/><rect x="542.54" y="151.54" width="1.7" height="1.7"/><rect x="542.81" y="148.85" width="1.7" height="1.7"/><rect x="543.41" y="149.90" width="1.7" height="1.7"/><rect x="543.67" y="148.61" width="1.7" height="1.7"/><rect x="544.20" y="149.76" width="1.7" height="1.7"/><rect x="544.81" y="151.72" width="1.7" height="1.7"/><rect x="545.03" y="151.84" width="1.7" height="1.7"/><rect x="545.54" y="150.57" width="1.7" height="1.7"/><rect x="546.26" y="152.30" width="1.7" height="1.7"/><rect x="546.36" y="153.09" width="1.7" height="1.7"/><rect x="546.81" y="151.33" width="1.7" height="1.7"/><rect x="547.45" y="148.56" width="1.7" height="1.7"/><rect x="547.99" y="148.12" width="1.7" height="1.7"/><rect x="548.50" y="150.11" width="1.7" height="1.7"/><rect x="548.77" y="149.44" width="1.7" height="1.7"/><rect x="548.92" y="150.38" width="1.7" height="1.7"/><rect x="549.48" y="148.82" width="1.7" height="1.7"/><rect x="550.20" y="152.02" width="1.7" height="1.7"/><rect x="550.73" y="148.99" width="1.7" height="1.7"/><rect x="551.09" y="152.23" width="1.7" height="1.7"/><rect x="551.56" y="151.77" width="1.7" height="1.7"/><rect x="552.04" y="153.20" width="1.7" height="1.7"/><rect x="552.24" y="152.00" width="1.7" height="1.7"/><rect x="553.00" y="152.74" width="1.7" height="1.7"/><rect x="553.09" y="150.93" width="1.7" height="1.7"/><rect x="553.92" y="150.76" width="1.7" height="1.7"/><rect x="554.46" y="152.12" width="1.7" height="1.7"/><rect x="554.87" y="152.59" width="1.7" height="1.7"/><rect x="555.30" y="152.48" width="1.7" height="1.7"/><rect x="555.49" y="151.78" width="1.7" height="1.7"/><rect x="556.01" y="152.06" width="1.7" height="1.7"/><rect x="556.59" y="149.71" width="1.7" height="1.7"/><rect x="557.21" y="149.32" width="1.7" height="1.7"/><rect x="557.17" y="150.64" width="1.7" height="1.7"/><rect x="557.67" y="150.59" width="1.7" height="1.7"/><rect x="558.58" y="153.52" width="1.7" height="1.7"/><rect x="558.77" y="149.80" width="1.7" height="1.7"/><rect x="559.31" y="151.36" width="1.7" height="1.7"/><rect x="559.96" y="149.63" width="1.7" height="1.7"/><rect x="560.12" y="151.78" width="1.7" height="1.7"/><rect x="560.41" y="152.29" width="1.7" height="1.7"/><rect x="560.89" y="152.52" width="1.7" height="1.7"/><rect x="561.27" y="149.04" width="1.7" height="1.7"/><rect x="561.79" y="151.56" width="1.7" height="1.7"/><rect x="562.72" y="148.78" width="1.7" height="1.7"/><rect x="562.71" y="149.89" width="1.7" height="1.7"/><rect x="563.10" y="151.95" width="1.7" height="1.7"/><rect x="563.96" y="152.99" width="1.7" height="1.7"/><rect x="564.11" y="148.98" width="1.7" height="1.7"/><rect x="564.86" y="150.89" width="1.7" height="1.7"/><rect x="565.40" y="151.92" width="1.7" height="1.7"/><rect x="565.73" y="152.55" width="1.7" height="1.7"/><rect x="566.23" y="155.68" width="1.7" height="1.7"/><rect x="566.43" y="150.91" width="1.7" height="1.7"/><rect x="567.29" y="151.97" width="1.7" height="1.7"/><rect x="567.22" y="152.16" width="1.7" height="1.7"/><rect x="568.03" y="151.67" width="1.7" height="1.7"/><rect x="568.30" y="152.59" width="1.7" height="1.7"/><rect x="568.99" y="150.30" width="1.7" height="1.7"/><rect x="569.31" y="149.10" width="1.7" height="1.7"/><rect x="569.53" y="153.51" width="1.7" height="1.7"/><rect x="570.20" y="150.41" width="1.7" height="1.7"/><rect x="570.79" y="150.21" width="1.7" height="1.7"/><rect x="571.07" y="149.69" width="1.7" height="1.7"/><rect x="571.68" y="153.32" width="1.7" height="1.7"/><rect x="571.99" y="153.41" width="1.7" height="1.7"/><rect x="572.68" y="149.36" width="1.7" height="1.7"/><rect x="573.01" y="153.17" width="1.7" height="1.7"/><rect x="573.31" y="147.93" width="1.7" height="1.7"/><rect x="574.00" y="150.50" width="1.7" height="1.7"/><rect x="574.53" y="153.37" width="1.7" height="1.7"/><rect x="575.07" y="150.24" width="1.7" height="1.7"/><rect x="575.44" y="153.44" width="1.7" height="1.7"/><rect x="575.68" y="153.14" width="1.7" height="1.7"/><rect x="576.39" y="154.14" width="1.7" height="1.7"/><rect x="576.69" y="150.51" width="1.7" height="1.7"/><rect x="577.31" y="151.85" width="1.7" height="1.7"/><rect x="577.27" y="153.63" width="1.7" height="1.7"/><rect x="577.87" y="154.35" width="1.7" height="1.7"/><rect x="578.64" y="151.33" width="1.7" height="1.7"/><rect x="579.13" y="149.31" width="1.7" height="1.7"/><rect x="579.55" y="151.58" width="1.7" height="1.7"/><rect x="580.04" y="153.66" width="1.7" height="1.7"/><rect x="580.48" y="153.05" width="1.7" height="1.7"/><rect x="580.92" y="153.97" width="1.7" height="1.7"/><rect x="581.12" y="155.92" width="1.7" height="1.7"/><rect x="581.43" y="155.35" width="1.7" height="1.7"/><rect x="581.95" y="153.51" width="1.7" height="1.7"/><rect x="582.71" y="151.41" width="1.7" height="1.7"/><rect x="583.09" y="153.06" width="1.7" height="1.7"/><rect x="583.59" y="153.69" width="1.7" height="1.7"/><rect x="583.81" y="152.32" width="1.7" height="1.7"/><rect x="584.54" y="152.11" width="1.7" height="1.7"/><rect x="584.63" y="154.42" width="1.7" height="1.7"/><rect x="585.49" y="152.46" width="1.7" height="1.7"/><rect x="585.82" y="153.86" width="1.7" height="1.7"/><rect x="586.45" y="151.12" width="1.7" height="1.7"/><rect x="586.68" y="154.03" width="1.7" height="1.7"/><rect x="587.20" y="152.27" width="1.7" height="1.7"/><rect x="587.43" y="151.67" width="1.7" height="1.7"/><rect x="588.17" y="154.14" width="1.7" height="1.7"/><rect x="588.46" y="151.07" width="1.7" height="1.7"/><rect x="588.98" y="152.44" width="1.7" height="1.7"/><rect x="589.71" y="152.35" width="1.7" height="1.7"/><rect x="589.82" y="150.88" width="1.7" height="1.7"/><rect x="590.51" y="151.31" width="1.7" height="1.7"/><rect x="590.61" y="154.07" width="1.7" height="1.7"/><rect x="591.27" y="153.71" width="1.7" height="1.7"/><rect x="591.45" y="147.77" width="1.7" height="1.7"/><rect x="592.38" y="151.77" width="1.7" height="1.7"/><rect x="592.63" y="154.06" width="1.7" height="1.7"/><rect x="593.25" y="153.41" width="1.7" height="1.7"/><rect x="593.51" y="150.15" width="1.7" height="1.7"/><rect x="594.18" y="153.86" width="1.7" height="1.7"/><rect x="594.72" y="152.93" width="1.7" height="1.7"/><rect x="594.75" y="152.45" width="1.7" height="1.7"/><rect x="595.20" y="152.46" width="1.7" height="1.7"/><rect x="595.87" y="152.68" width="1.7" height="1.7"/><rect x="596.50" y="156.94" width="1.7" height="1.7"/><rect x="596.98" y="151.92" width="1.7" height="1.7"/><rect x="596.96" y="154.37" width="1.7" height="1.7"/><rect x="597.45" y="153.98" width="1.7" height="1.7"/><rect x="598.38" y="153.12" width="1.7" height="1.7"/><rect x="598.65" y="150.85" width="1.7" height="1.7"/><rect x="599.29" y="153.87" width="1.7" height="1.7"/><rect x="599.46" y="154.53" width="1.7" height="1.7"/><rect x="599.76" y="147.93" width="1.7" height="1.7"/><rect x="600.25" y="154.19" width="1.7" height="1.7"/><rect x="600.60" y="153.14" width="1.7" height="1.7"/><rect x="601.54" y="151.53" width="1.7" height="1.7"/><rect x="602.00" y="152.85" width="1.7" height="1.7"/><rect x="602.39" y="153.58" width="1.7" height="1.7"/><rect x="602.81" y="156.12" width="1.7" height="1.7"/><rect x="602.90" y="157.07" width="1.7" height="1.7"/><rect x="603.41" y="153.03" width="1.7" height="1.7"/><rect x="604.16" y="157.19" width="1.7" height="1.7"/><rect x="604.41" y="155.58" width="1.7" height="1.7"/><rect x="604.76" y="154.74" width="1.7" height="1.7"/><rect x="605.34" y="153.24" width="1.7" height="1.7"/><rect x="605.88" y="152.35" width="1.7" height="1.7"/><rect x="606.16" y="153.16" width="1.7" height="1.7"/><rect x="606.91" y="152.31" width="1.7" height="1.7"/><rect x="606.99" y="153.48" width="1.7" height="1.7"/><rect x="607.46" y="154.35" width="1.7" height="1.7"/><rect x="608.42" y="152.56" width="1.7" height="1.7"/><rect x="608.84" y="149.41" width="1.7" height="1.7"/><rect x="609.31" y="152.13" width="1.7" height="1.7"/><rect x="609.32" y="151.89" width="1.7" height="1.7"/><rect x="610.25" y="152.02" width="1.7" height="1.7"/><rect x="610.44" y="155.33" width="1.7" height="1.7"/><rect x="610.83" y="152.49" width="1.7" height="1.7"/><rect x="611.45" y="155.09" width="1.7" height="1.7"/><rect x="611.64" y="153.26" width="1.7" height="1.7"/><rect x="612.41" y="152.81" width="1.7" height="1.7"/><rect x="612.78" y="151.28" width="1.7" height="1.7"/><rect x="613.08" y="150.69" width="1.7" height="1.7"/><rect x="613.61" y="152.65" width="1.7" height="1.7"/><rect x="614.31" y="152.31" width="1.7" height="1.7"/><rect x="614.49" y="152.45" width="1.7" height="1.7"/><rect x="614.93" y="151.73" width="1.7" height="1.7"/><rect x="615.72" y="149.91" width="1.7" height="1.7"/><rect x="615.70" y="150.37" width="1.7" height="1.7"/><rect x="616.63" y="154.05" width="1.7" height="1.7"/><rect x="616.85" y="154.50" width="1.7" height="1.7"/><rect x="617.20" y="153.54" width="1.7" height="1.7"/><rect x="617.70" y="152.36" width="1.7" height="1.7"/><rect x="618.51" y="149.66" width="1.7" height="1.7"/><rect x="618.47" y="153.56" width="1.7" height="1.7"/><rect x="619.03" y="153.07" width="1.7" height="1.7"/><rect x="619.73" y="153.90" width="1.7" height="1.7"/><rect x="619.95" y="153.25" width="1.7" height="1.7"/><rect x="620.69" y="153.61" width="1.7" height="1.7"/><rect x="620.89" y="153.50" width="1.7" height="1.7"/><rect x="621.62" y="153.50" width="1.7" height="1.7"/><rect x="621.91" y="152.88" width="1.7" height="1.7"/><rect x="622.58" y="151.94" width="1.7" height="1.7"/><rect x="622.65" y="154.44" width="1.7" height="1.7"/><rect x="623.09" y="154.02" width="1.7" height="1.7"/><rect x="623.87" y="153.90" width="1.7" height="1.7"/><rect x="623.94" y="154.72" width="1.7" height="1.7"/><rect x="624.41" y="155.18" width="1.7" height="1.7"/><rect x="624.97" y="154.91" width="1.7" height="1.7"/><rect x="625.39" y="155.69" width="1.7" height="1.7"/><rect x="626.18" y="155.41" width="1.7" height="1.7"/><rect x="626.51" y="153.50" width="1.7" height="1.7"/><rect x="627.05" y="153.10" width="1.7" height="1.7"/><rect x="627.33" y="153.81" width="1.7" height="1.7"/><rect x="628.01" y="154.28" width="1.7" height="1.7"/><rect x="628.20" y="151.87" width="1.7" height="1.7"/><rect x="628.75" y="156.57" width="1.7" height="1.7"/><rect x="628.94" y="152.11" width="1.7" height="1.7"/><rect x="629.87" y="154.79" width="1.7" height="1.7"/><rect x="629.99" y="152.51" width="1.7" height="1.7"/><rect x="630.51" y="150.82" width="1.7" height="1.7"/><rect x="630.85" y="155.35" width="1.7" height="1.7"/><rect x="631.22" y="152.13" width="1.7" height="1.7"/><rect x="631.96" y="155.72" width="1.7" height="1.7"/><rect x="632.20" y="153.12" width="1.7" height="1.7"/><rect x="632.99" y="152.44" width="1.7" height="1.7"/><rect x="633.22" y="156.92" width="1.7" height="1.7"/><rect x="633.90" y="155.91" width="1.7" height="1.7"/><rect x="633.99" y="151.92" width="1.7" height="1.7"/><rect x="634.90" y="151.95" width="1.7" height="1.7"/><rect x="635.16" y="154.42" width="1.7" height="1.7"/><rect x="635.63" y="154.20" width="1.7" height="1.7"/><rect x="636.33" y="153.96" width="1.7" height="1.7"/><rect x="636.37" y="153.55" width="1.7" height="1.7"/><rect x="636.84" y="153.17" width="1.7" height="1.7"/><rect x="637.62" y="153.15" width="1.7" height="1.7"/><rect x="638.01" y="153.77" width="1.7" height="1.7"/><rect x="638.18" y="151.63" width="1.7" height="1.7"/><rect x="638.85" y="153.67" width="1.7" height="1.7"/><rect x="639.28" y="154.16" width="1.7" height="1.7"/><rect x="639.93" y="154.70" width="1.7" height="1.7"/><rect x="640.30" y="153.12" width="1.7" height="1.7"/><rect x="640.64" y="153.71" width="1.7" height="1.7"/><rect x="641.10" y="154.13" width="1.7" height="1.7"/><rect x="641.50" y="153.12" width="1.7" height="1.7"/><rect x="641.81" y="156.80" width="1.7" height="1.7"/><rect x="642.27" y="155.82" width="1.7" height="1.7"/><rect x="642.97" y="154.02" width="1.7" height="1.7"/><rect x="643.56" y="155.02" width="1.7" height="1.7"/><rect x="644.08" y="155.37" width="1.7" height="1.7"/><rect x="644.49" y="152.89" width="1.7" height="1.7"/><rect x="644.77" y="157.23" width="1.7" height="1.7"/><rect x="645.37" y="151.58" width="1.7" height="1.7"/><rect x="645.58" y="153.95" width="1.7" height="1.7"/><rect x="646.09" y="152.52" width="1.7" height="1.7"/><rect x="646.85" y="152.81" width="1.7" height="1.7"/><rect x="647.22" y="157.60" width="1.7" height="1.7"/><rect x="647.69" y="152.15" width="1.7" height="1.7"/><rect x="648.21" y="153.41" width="1.7" height="1.7"/><rect x="648.65" y="154.09" width="1.7" height="1.7"/><rect x="648.94" y="152.33" width="1.7" height="1.7"/><rect x="649.25" y="154.74" width="1.7" height="1.7"/><rect x="649.75" y="154.24" width="1.7" height="1.7"/><rect x="650.24" y="153.20" width="1.7" height="1.7"/><rect x="650.96" y="154.01" width="1.7" height="1.7"/><rect x="651.31" y="151.93" width="1.7" height="1.7"/><rect x="651.78" y="155.07" width="1.7" height="1.7"/><rect x="652.28" y="153.82" width="1.7" height="1.7"/><rect x="652.61" y="154.46" width="1.7" height="1.7"/><rect x="652.85" y="154.75" width="1.7" height="1.7"/><rect x="653.46" y="155.40" width="1.7" height="1.7"/><rect x="654.13" y="155.12" width="1.7" height="1.7"/><rect x="654.37" y="155.08" width="1.7" height="1.7"/><rect x="654.77" y="152.87" width="1.7" height="1.7"/><rect x="655.16" y="154.63" width="1.7" height="1.7"/><rect x="655.81" y="152.56" width="1.7" height="1.7"/><rect x="656.44" y="152.66" width="1.7" height="1.7"/><rect x="656.65" y="154.45" width="1.7" height="1.7"/><rect x="657.12" y="152.35" width="1.7" height="1.7"/><rect x="657.36" y="153.60" width="1.7" height="1.7"/><rect x="657.90" y="153.61" width="1.7" height="1.7"/><rect x="658.42" y="154.56" width="1.7" height="1.7"/><rect x="658.70" y="153.03" width="1.7" height="1.7"/><rect x="659.41" y="153.03" width="1.7" height="1.7"/><rect x="659.88" y="156.24" width="1.7" height="1.7"/><rect x="660.38" y="153.48" width="1.7" height="1.7"/><rect x="660.73" y="151.75" width="1.7" height="1.7"/><rect x="661.24" y="155.75" width="1.7" height="1.7"/><rect x="661.56" y="155.54" width="1.7" height="1.7"/><rect x="661.98" y="153.95" width="1.7" height="1.7"/><rect x="662.52" y="152.32" width="1.7" height="1.7"/><rect x="663.09" y="152.75" width="1.7" height="1.7"/><rect x="663.70" y="154.22" width="1.7" height="1.7"/><rect x="663.81" y="156.18" width="1.7" height="1.7"/><rect x="664.29" y="155.03" width="1.7" height="1.7"/><rect x="665.14" y="155.18" width="1.7" height="1.7"/><rect x="665.14" y="151.56" width="1.7" height="1.7"/><rect x="665.54" y="153.10" width="1.7" height="1.7"/><rect x="666.00" y="155.69" width="1.7" height="1.7"/><rect x="666.64" y="156.95" width="1.7" height="1.7"/><rect x="666.94" y="153.36" width="1.7" height="1.7"/><rect x="667.46" y="151.70" width="1.7" height="1.7"/><rect x="667.88" y="155.10" width="1.7" height="1.7"/><rect x="668.44" y="155.93" width="1.7" height="1.7"/><rect x="669.05" y="152.38" width="1.7" height="1.7"/><rect x="669.64" y="153.54" width="1.7" height="1.7"/><rect x="670.03" y="156.27" width="1.7" height="1.7"/><rect x="670.49" y="154.32" width="1.7" height="1.7"/><rect x="670.97" y="156.36" width="1.7" height="1.7"/><rect x="671.39" y="153.69" width="1.7" height="1.7"/><rect x="671.94" y="154.91" width="1.7" height="1.7"/><rect x="671.91" y="154.23" width="1.7" height="1.7"/><rect x="672.64" y="156.70" width="1.7" height="1.7"/><rect x="673.36" y="156.06" width="1.7" height="1.7"/><rect x="673.72" y="155.25" width="1.7" height="1.7"/><rect x="674.22" y="155.78" width="1.7" height="1.7"/><rect x="674.44" y="155.52" width="1.7" height="1.7"/><rect x="674.91" y="154.73" width="1.7" height="1.7"/><rect x="675.32" y="155.89" width="1.7" height="1.7"/><rect x="675.87" y="155.63" width="1.7" height="1.7"/><rect x="676.46" y="153.53" width="1.7" height="1.7"/><rect x="676.95" y="156.36" width="1.7" height="1.7"/><rect x="677.04" y="154.52" width="1.7" height="1.7"/><rect x="677.56" y="153.17" width="1.7" height="1.7"/><rect x="678.17" y="152.79" width="1.7" height="1.7"/><rect x="678.36" y="153.23" width="1.7" height="1.7"/></g>
<path d="M527.90,144.70 L527.93,144.68 L528.00,144.61 L528.10,144.52 L528.23,144.40 L528.40,144.26 L528.59,144.10 L528.81,143.91 L529.06,143.71 L529.34,143.49 L529.63,143.25 L529.96,143.00 L530.31,142.74 L530.68,142.48 L531.08,142.20 L531.50,141.92 L531.94,141.63 L532.41,141.34 L532.90,141.05 L533.41,140.76 L533.94,140.47 L534.50,140.18 L535.07,139.89 L535.67,139.61 L536.29,139.34 L536.93,139.06 L537.59,138.80 L538.27,138.54 L538.97,138.29 L539.69,138.04 L540.43,137.81 L541.20,137.58 L541.98,137.36 L542.78,137.15 L543.60,136.95 L544.44,136.76 L545.30,136.57 L546.18,136.40 L547.08,136.23 L548.00,136.07 L548.94,135.92 L549.89,135.78 L550.87,135.64 L551.86,135.51 L552.88,135.39 L553.91,135.27 L554.96,135.16 L556.02,135.06 L557.11,134.96 L558.21,134.87 L559.34,134.79 L560.48,134.70 L561.64,134.62 L562.81,134.55 L564.01,134.48 L565.22,134.41 L566.45,134.35 L567.70,134.29 L568.96,134.23 L570.25,134.18 L571.55,134.12 L572.87,134.07 L574.20,134.02 L575.56,133.98 L576.93,133.93 L578.31,133.89 L579.72,133.84 L581.14,133.80 L582.58,133.76 L584.03,133.72 L585.51,133.68 L587.00,133.64 L588.50,133.60 L590.03,133.56 L591.57,133.52 L593.12,133.48 L594.70,133.44 L596.29,133.40 L597.90,133.37 L599.52,133.33 L601.16,133.29 L602.82,133.25 L604.49,133.21 L606.18,133.17 L607.88,133.14 L609.61,133.10 L611.34,133.06 L613.10,133.02 L614.87,132.98 L616.66,132.94 L618.46,132.90 L620.28,132.86 L622.11,132.82 L623.97,132.78 L625.83,132.73 L627.72,132.69 L629.62,132.65 L631.53,132.61 L633.46,132.57 L635.41,132.52 L637.37,132.48 L639.35,132.44 L641.34,132.39 L643.35,132.35 L645.38,132.30 L647.42,132.26 L649.48,132.21 L651.55,132.17 L653.64,132.12 L655.74,132.07 L657.86,132.03 L659.99,131.98 L662.14,131.93 L664.31,131.89 L666.49,131.84 L668.68,131.79 L670.90,131.74 L673.12,131.69 L675.36,131.64 L677.62,131.59 L679.89,131.54" fill="none" stroke="#2288f0" stroke-width="1.8" stroke-linejoin="round" />
<path d="M527.90,144.70 L527.93,144.70 L528.00,144.71 L528.10,144.72 L528.23,144.73 L528.40,144.75 L528.59,144.76 L528.81,144.77 L529.06,144.79 L529.34,144.81 L529.63,144.82 L529.96,144.84 L530.31,144.86 L530.68,144.88 L531.08,144.90 L531.50,144.92 L531.94,144.95 L532.41,144.97 L532.90,144.99 L533.41,145.01 L533.94,145.04 L534.50,145.06 L535.07,145.09 L535.67,145.11 L536.29,145.14 L536.93,145.17 L537.59,145.19 L538.27,145.22 L538.97,145.25 L539.69,145.28 L540.43,145.31 L541.20,145.34 L541.98,145.36 L542.78,145.39 L543.60,145.43 L544.44,145.46 L545.30,145.49 L546.18,145.52 L547.08,145.55 L548.00,145.58 L548.94,145.62 L549.89,145.65 L550.87,145.68 L551.86,145.72 L552.88,145.75 L553.91,145.79 L554.96,145.82 L556.02,145.86 L557.11,145.89 L558.21,145.93 L559.34,145.96 L560.48,146.00 L561.64,146.04 L562.81,146.07 L564.01,146.11 L565.22,146.15 L566.45,146.19 L567.70,146.23 L568.96,146.27 L570.25,146.30 L571.55,146.34 L572.87,146.38 L574.20,146.42 L575.56,146.46 L576.93,146.50 L578.31,146.54 L579.72,146.59 L581.14,146.63 L582.58,146.67 L584.03,146.71 L585.51,146.75 L587.00,146.79 L588.50,146.84 L590.03,146.88 L591.57,146.92 L593.12,146.97 L594.70,147.01 L596.29,147.05 L597.90,147.10 L599.52,147.14 L601.16,147.19 L602.82,147.23 L604.49,147.28 L606.18,147.32 L607.88,147.37 L609.61,147.41 L611.34,147.46 L613.10,147.51 L614.87,147.55 L616.66,147.60 L618.46,147.65 L620.28,147.69 L622.11,147.74 L623.97,147.79 L625.83,147.84 L627.72,147.89 L629.62,147.93 L631.53,147.98 L633.46,148.03 L635.41,148.08 L637.37,148.13 L639.35,148.18 L641.34,148.23 L643.35,148.28 L645.38,148.33 L647.42,148.38 L649.48,148.43 L651.55,148.48 L653.64,148.53 L655.74,148.58 L657.86,148.63 L659.99,148.69 L662.14,148.74 L664.31,148.79 L666.49,148.84 L668.68,148.89 L670.90,148.95 L673.12,149.00 L675.36,149.05 L677.62,149.11 L679.89,149.16" fill="none" stroke="#747474" stroke-width="1.9" stroke-dasharray="5 2.6" stroke-linejoin="round" />
<path d="M527.90,144.70 L527.93,144.73 L528.00,144.82 L528.10,144.94 L528.23,145.11 L528.40,145.30 L528.59,145.53 L528.81,145.78 L529.06,146.05 L529.34,146.35 L529.63,146.66 L529.96,146.99 L530.31,147.33 L530.68,147.68 L531.08,148.04 L531.50,148.40 L531.94,148.77 L532.41,149.14 L532.90,149.51 L533.41,149.87 L533.94,150.23 L534.50,150.58 L535.07,150.93 L535.67,151.27 L536.29,151.60 L536.93,151.92 L537.59,152.23 L538.27,152.53 L538.97,152.82 L539.69,153.10 L540.43,153.37 L541.20,153.62 L541.98,153.87 L542.78,154.10 L543.60,154.32 L544.44,154.53 L545.30,154.73 L546.18,154.92 L547.08,155.10 L548.00,155.27 L548.94,155.44 L549.89,155.59 L550.87,155.74 L551.86,155.88 L552.88,156.02 L553.91,156.14 L554.96,156.27 L556.02,156.38 L557.11,156.50 L558.21,156.60 L559.34,156.71 L560.48,156.81 L561.64,156.91 L562.81,157.00 L564.01,157.10 L565.22,157.19 L566.45,157.28 L567.70,157.37 L568.96,157.45 L570.25,157.54 L571.55,157.62 L572.87,157.71 L574.20,157.79 L575.56,157.88 L576.93,157.96 L578.31,158.04 L579.72,158.13 L581.14,158.21 L582.58,158.30 L584.03,158.38 L585.51,158.47 L587.00,158.55 L588.50,158.64 L590.03,158.72 L591.57,158.81 L593.12,158.90 L594.70,158.99 L596.29,159.08 L597.90,159.17 L599.52,159.26 L601.16,159.35 L602.82,159.44 L604.49,159.54 L606.18,159.63 L607.88,159.73 L609.61,159.82 L611.34,159.92 L613.10,160.02 L614.87,160.12 L616.66,160.22 L618.46,160.32 L620.28,160.42 L622.11,160.52 L623.97,160.63 L625.83,160.73 L627.72,160.84 L629.62,160.94 L631.53,161.05 L633.46,161.16 L635.41,161.26 L637.37,161.37 L639.35,161.48 L641.34,161.59 L643.35,161.71 L645.38,161.82 L647.42,161.93 L649.48,162.05 L651.55,162.16 L653.64,162.28 L655.74,162.40 L657.86,162.52 L659.99,162.63 L662.14,162.75 L664.31,162.88 L666.49,163.00 L668.68,163.12 L670.90,163.24 L673.12,163.37 L675.36,163.49 L677.62,163.62 L679.89,163.74" fill="none" stroke="#000" stroke-width="2.6" stroke-linejoin="round" />
<path d="M527.90,144.70 L527.93,144.77 L528.00,144.95 L528.10,145.20 L528.23,145.53 L528.40,145.90 L528.59,146.32 L528.81,146.77 L529.06,147.25 L529.34,147.74 L529.63,148.24 L529.96,148.75 L530.31,149.26 L530.68,149.77 L531.08,150.27 L531.50,150.77 L531.94,151.26 L532.41,151.75 L532.90,152.22 L533.41,152.69 L533.94,153.14 L534.50,153.59 L535.07,154.02 L535.67,154.45 L536.29,154.87 L536.93,155.28 L537.59,155.68 L538.27,156.06 L538.97,156.45 L539.69,156.82 L540.43,157.18 L541.20,157.54 L541.98,157.89 L542.78,158.23 L543.60,158.56 L544.44,158.88 L545.30,159.20 L546.18,159.52 L547.08,159.82 L548.00,160.12 L548.94,160.42 L549.89,160.71 L550.87,160.99 L551.86,161.27 L552.88,161.54 L553.91,161.81 L554.96,162.07 L556.02,162.33 L557.11,162.58 L558.21,162.83 L559.34,163.07 L560.48,163.31 L561.64,163.55 L562.81,163.78 L564.01,164.01 L565.22,164.24 L566.45,164.46 L567.70,164.67 L568.96,164.89 L570.25,165.10 L571.55,165.31 L572.87,165.51 L574.20,165.72 L575.56,165.92 L576.93,166.11 L578.31,166.31 L579.72,166.50 L581.14,166.69 L582.58,166.87 L584.03,167.05 L585.51,167.24 L587.00,167.41 L588.50,167.59 L590.03,167.77 L591.57,167.94 L593.12,168.11 L594.70,168.27 L596.29,168.44 L597.90,168.60 L599.52,168.77 L601.16,168.93 L602.82,169.08 L604.49,169.24 L606.18,169.39 L607.88,169.55 L609.61,169.70 L611.34,169.85 L613.10,169.99 L614.87,170.14 L616.66,170.29 L618.46,170.43 L620.28,170.57 L622.11,170.71 L623.97,170.85 L625.83,170.99 L627.72,171.12 L629.62,171.26 L631.53,171.39 L633.46,171.52 L635.41,171.65 L637.37,171.78 L639.35,171.91 L641.34,172.04 L643.35,172.16 L645.38,172.29 L647.42,172.41 L649.48,172.53 L651.55,172.65 L653.64,172.77 L655.74,172.89 L657.86,173.01 L659.99,173.13 L662.14,173.24 L664.31,173.36 L666.49,173.47 L668.68,173.58 L670.90,173.70 L673.12,173.81 L675.36,173.92 L677.62,174.03 L679.89,174.14" fill="none" stroke="#f01818" stroke-width="1.9" stroke-dasharray="5.5 1.8 1.4 1.8" stroke-linejoin="round" />
<rect x="522.5" y="100.4" width="162.0" height="89.6" fill="none" stroke="#5c5c5c" stroke-width="1.1"/>
<line x1="520.3" y1="100.10" x2="522.5" y2="100.10" stroke="#555" stroke-width="0.9"/>
<text x="519.3" y="102.90" font-size="9.4" text-anchor="end" fill="#1a1a1a">10</text>
<line x1="520.3" y1="122.40" x2="522.5" y2="122.40" stroke="#555" stroke-width="0.9"/>
<text x="519.3" y="125.20" font-size="9.4" text-anchor="end" fill="#1a1a1a">5</text>
<line x1="520.3" y1="144.70" x2="522.5" y2="144.70" stroke="#555" stroke-width="0.9"/>
<text x="519.3" y="147.50" font-size="9.4" text-anchor="end" fill="#1a1a1a">0</text>
<line x1="520.3" y1="167.00" x2="522.5" y2="167.00" stroke="#555" stroke-width="0.9"/>
<text x="519.3" y="169.80" font-size="9.4" text-anchor="end" fill="#1a1a1a">-5</text>
<line x1="520.3" y1="189.30" x2="522.5" y2="189.30" stroke="#555" stroke-width="0.9"/>
<text x="519.3" y="192.10" font-size="9.4" text-anchor="end" fill="#1a1a1a">-10</text>
<line x1="527.90" y1="190.0" x2="527.90" y2="192.2" stroke="#555" stroke-width="0.9"/>
<line x1="555.84" y1="190.0" x2="555.84" y2="192.2" stroke="#555" stroke-width="0.9"/>
<line x1="583.78" y1="190.0" x2="583.78" y2="192.2" stroke="#555" stroke-width="0.9"/>
<line x1="611.72" y1="190.0" x2="611.72" y2="192.2" stroke="#555" stroke-width="0.9"/>
<line x1="639.66" y1="190.0" x2="639.66" y2="192.2" stroke="#555" stroke-width="0.9"/>
<line x1="667.60" y1="190.0" x2="667.60" y2="192.2" stroke="#555" stroke-width="0.9"/>
<text x="526.5" y="114.7" font-size="15" fill="#111">e)</text>
<rect x="594.7" y="105.8" width="30.899999999999977" height="12.299999999999997" fill="#fff" stroke="#666" stroke-width="0.8"/>
<text x="610.15" y="115.70" font-size="10" text-anchor="middle" fill="#111" textLength="24.4" lengthAdjust="spacingAndGlyphs">IQQE</text>
<rect x="522.5" y="197.0" width="162.0" height="90.5" fill="#fff" stroke="none"/>
<g fill="#bdb51c"><rect x="528.36" y="264.79" width="1.7" height="1.7"/><rect x="528.86" y="257.25" width="1.7" height="1.7"/><rect x="529.13" y="262.58" width="1.7" height="1.7"/><rect x="529.91" y="258.88" width="1.7" height="1.7"/><rect x="530.22" y="260.64" width="1.7" height="1.7"/><rect x="530.68" y="250.46" width="1.7" height="1.7"/><rect x="531.21" y="265.77" width="1.7" height="1.7"/><rect x="531.97" y="267.89" width="1.7" height="1.7"/><rect x="532.29" y="260.63" width="1.7" height="1.7"/><rect x="532.63" y="265.22" width="1.7" height="1.7"/><rect x="533.11" y="252.43" width="1.7" height="1.7"/><rect x="533.95" y="262.71" width="1.7" height="1.7"/><rect x="533.98" y="266.35" width="1.7" height="1.7"/><rect x="534.64" y="265.78" width="1.7" height="1.7"/><rect x="535.25" y="253.64" width="1.7" height="1.7"/><rect x="535.92" y="250.91" width="1.7" height="1.7"/><rect x="536.18" y="260.03" width="1.7" height="1.7"/><rect x="536.79" y="252.03" width="1.7" height="1.7"/><rect x="537.24" y="258.16" width="1.7" height="1.7"/><rect x="537.90" y="255.04" width="1.7" height="1.7"/><rect x="538.49" y="252.54" width="1.7" height="1.7"/><rect x="538.91" y="260.76" width="1.7" height="1.7"/><rect x="539.45" y="257.67" width="1.7" height="1.7"/><rect x="539.84" y="248.62" width="1.7" height="1.7"/><rect x="540.45" y="275.47" width="1.7" height="1.7"/><rect x="540.70" y="254.05" width="1.7" height="1.7"/><rect x="541.25" y="252.40" width="1.7" height="1.7"/><rect x="541.75" y="255.27" width="1.7" height="1.7"/><rect x="542.32" y="252.83" width="1.7" height="1.7"/><rect x="542.81" y="269.45" width="1.7" height="1.7"/><rect x="543.33" y="239.62" width="1.7" height="1.7"/><rect x="543.50" y="266.45" width="1.7" height="1.7"/><rect x="544.15" y="250.17" width="1.7" height="1.7"/><rect x="544.87" y="250.55" width="1.7" height="1.7"/><rect x="545.46" y="255.98" width="1.7" height="1.7"/><rect x="545.82" y="258.22" width="1.7" height="1.7"/><rect x="546.27" y="259.81" width="1.7" height="1.7"/><rect x="546.81" y="256.84" width="1.7" height="1.7"/><rect x="547.30" y="246.23" width="1.7" height="1.7"/><rect x="548.06" y="261.78" width="1.7" height="1.7"/><rect x="548.07" y="258.75" width="1.7" height="1.7"/><rect x="548.60" y="255.38" width="1.7" height="1.7"/><rect x="549.07" y="258.65" width="1.7" height="1.7"/><rect x="549.61" y="267.68" width="1.7" height="1.7"/><rect x="550.36" y="257.04" width="1.7" height="1.7"/><rect x="550.97" y="254.22" width="1.7" height="1.7"/><rect x="551.45" y="254.73" width="1.7" height="1.7"/><rect x="551.71" y="256.43" width="1.7" height="1.7"/><rect x="552.12" y="261.11" width="1.7" height="1.7"/><rect x="552.68" y="243.26" width="1.7" height="1.7"/><rect x="553.36" y="246.43" width="1.7" height="1.7"/><rect x="553.73" y="261.06" width="1.7" height="1.7"/><rect x="554.07" y="252.72" width="1.7" height="1.7"/><rect x="555.04" y="269.28" width="1.7" height="1.7"/><rect x="555.29" y="262.97" width="1.7" height="1.7"/><rect x="555.90" y="254.51" width="1.7" height="1.7"/><rect x="556.57" y="252.44" width="1.7" height="1.7"/><rect x="557.03" y="260.02" width="1.7" height="1.7"/><rect x="557.51" y="241.23" width="1.7" height="1.7"/><rect x="557.73" y="267.81" width="1.7" height="1.7"/><rect x="558.34" y="264.37" width="1.7" height="1.7"/><rect x="559.10" y="253.84" width="1.7" height="1.7"/><rect x="559.47" y="247.48" width="1.7" height="1.7"/><rect x="559.70" y="259.00" width="1.7" height="1.7"/><rect x="560.35" y="241.33" width="1.7" height="1.7"/><rect x="561.02" y="253.74" width="1.7" height="1.7"/><rect x="561.28" y="249.78" width="1.7" height="1.7"/><rect x="561.69" y="248.41" width="1.7" height="1.7"/><rect x="562.40" y="254.75" width="1.7" height="1.7"/><rect x="562.65" y="260.16" width="1.7" height="1.7"/><rect x="563.32" y="255.05" width="1.7" height="1.7"/><rect x="563.63" y="244.74" width="1.7" height="1.7"/><rect x="564.29" y="244.86" width="1.7" height="1.7"/><rect x="564.74" y="251.56" width="1.7" height="1.7"/><rect x="565.24" y="248.40" width="1.7" height="1.7"/><rect x="565.63" y="256.56" width="1.7" height="1.7"/><rect x="566.20" y="258.60" width="1.7" height="1.7"/><rect x="567.01" y="248.89" width="1.7" height="1.7"/><rect x="567.58" y="250.34" width="1.7" height="1.7"/><rect x="567.69" y="265.11" width="1.7" height="1.7"/><rect x="568.57" y="248.73" width="1.7" height="1.7"/><rect x="568.71" y="259.56" width="1.7" height="1.7"/><rect x="569.34" y="244.57" width="1.7" height="1.7"/><rect x="570.17" y="248.75" width="1.7" height="1.7"/><rect x="570.42" y="237.20" width="1.7" height="1.7"/><rect x="570.76" y="256.33" width="1.7" height="1.7"/><rect x="571.53" y="251.85" width="1.7" height="1.7"/><rect x="571.79" y="245.71" width="1.7" height="1.7"/><rect x="572.35" y="258.04" width="1.7" height="1.7"/><rect x="572.79" y="256.36" width="1.7" height="1.7"/><rect x="573.64" y="255.60" width="1.7" height="1.7"/><rect x="573.72" y="261.00" width="1.7" height="1.7"/><rect x="574.31" y="253.33" width="1.7" height="1.7"/><rect x="575.09" y="259.90" width="1.7" height="1.7"/><rect x="575.48" y="246.10" width="1.7" height="1.7"/><rect x="575.84" y="254.71" width="1.7" height="1.7"/><rect x="576.27" y="250.69" width="1.7" height="1.7"/><rect x="577.15" y="256.67" width="1.7" height="1.7"/><rect x="577.24" y="243.56" width="1.7" height="1.7"/><rect x="577.99" y="257.42" width="1.7" height="1.7"/><rect x="578.35" y="246.34" width="1.7" height="1.7"/><rect x="578.72" y="254.10" width="1.7" height="1.7"/><rect x="579.26" y="247.84" width="1.7" height="1.7"/><rect x="580.09" y="253.57" width="1.7" height="1.7"/><rect x="580.70" y="245.53" width="1.7" height="1.7"/><rect x="581.13" y="242.32" width="1.7" height="1.7"/><rect x="581.27" y="261.01" width="1.7" height="1.7"/><rect x="581.86" y="242.20" width="1.7" height="1.7"/><rect x="582.57" y="250.17" width="1.7" height="1.7"/><rect x="582.90" y="260.33" width="1.7" height="1.7"/><rect x="583.60" y="246.85" width="1.7" height="1.7"/><rect x="583.85" y="248.39" width="1.7" height="1.7"/><rect x="584.57" y="256.98" width="1.7" height="1.7"/><rect x="584.82" y="240.85" width="1.7" height="1.7"/><rect x="585.63" y="242.07" width="1.7" height="1.7"/><rect x="586.12" y="249.94" width="1.7" height="1.7"/><rect x="586.32" y="251.29" width="1.7" height="1.7"/><rect x="586.84" y="253.87" width="1.7" height="1.7"/><rect x="587.25" y="245.54" width="1.7" height="1.7"/><rect x="587.91" y="254.37" width="1.7" height="1.7"/><rect x="588.71" y="254.81" width="1.7" height="1.7"/><rect x="589.06" y="252.65" width="1.7" height="1.7"/><rect x="589.49" y="256.56" width="1.7" height="1.7"/><rect x="590.13" y="251.69" width="1.7" height="1.7"/><rect x="590.72" y="251.25" width="1.7" height="1.7"/><rect x="591.19" y="251.90" width="1.7" height="1.7"/><rect x="591.73" y="249.50" width="1.7" height="1.7"/><rect x="592.10" y="246.63" width="1.7" height="1.7"/><rect x="592.32" y="249.92" width="1.7" height="1.7"/><rect x="593.21" y="247.67" width="1.7" height="1.7"/><rect x="593.69" y="236.99" width="1.7" height="1.7"/><rect x="593.82" y="253.56" width="1.7" height="1.7"/><rect x="594.69" y="257.51" width="1.7" height="1.7"/><rect x="595.24" y="251.77" width="1.7" height="1.7"/><rect x="595.81" y="248.34" width="1.7" height="1.7"/><rect x="596.02" y="241.92" width="1.7" height="1.7"/><rect x="596.70" y="255.46" width="1.7" height="1.7"/><rect x="597.25" y="256.16" width="1.7" height="1.7"/><rect x="597.32" y="256.36" width="1.7" height="1.7"/><rect x="598.18" y="258.22" width="1.7" height="1.7"/><rect x="598.82" y="247.54" width="1.7" height="1.7"/><rect x="598.87" y="250.85" width="1.7" height="1.7"/><rect x="599.70" y="252.94" width="1.7" height="1.7"/><rect x="600.26" y="251.52" width="1.7" height="1.7"/><rect x="600.85" y="242.54" width="1.7" height="1.7"/><rect x="601.17" y="255.73" width="1.7" height="1.7"/><rect x="601.35" y="252.24" width="1.7" height="1.7"/><rect x="602.02" y="254.63" width="1.7" height="1.7"/><rect x="602.49" y="248.45" width="1.7" height="1.7"/><rect x="602.90" y="253.44" width="1.7" height="1.7"/><rect x="603.46" y="260.32" width="1.7" height="1.7"/><rect x="603.96" y="257.92" width="1.7" height="1.7"/><rect x="604.85" y="251.38" width="1.7" height="1.7"/><rect x="605.03" y="254.90" width="1.7" height="1.7"/><rect x="605.42" y="237.47" width="1.7" height="1.7"/><rect x="606.16" y="256.75" width="1.7" height="1.7"/><rect x="606.65" y="240.00" width="1.7" height="1.7"/><rect x="607.27" y="245.76" width="1.7" height="1.7"/><rect x="607.68" y="241.91" width="1.7" height="1.7"/><rect x="608.11" y="249.25" width="1.7" height="1.7"/><rect x="608.42" y="263.00" width="1.7" height="1.7"/><rect x="609.02" y="253.37" width="1.7" height="1.7"/><rect x="609.39" y="246.97" width="1.7" height="1.7"/><rect x="610.02" y="247.05" width="1.7" height="1.7"/><rect x="610.62" y="240.60" width="1.7" height="1.7"/><rect x="610.93" y="253.76" width="1.7" height="1.7"/><rect x="611.58" y="243.67" width="1.7" height="1.7"/><rect x="611.97" y="249.45" width="1.7" height="1.7"/><rect x="612.93" y="249.86" width="1.7" height="1.7"/><rect x="613.30" y="241.12" width="1.7" height="1.7"/><rect x="613.93" y="244.91" width="1.7" height="1.7"/><rect x="614.20" y="244.24" width="1.7" height="1.7"/><rect x="614.63" y="245.33" width="1.7" height="1.7"/><rect x="615.00" y="251.02" width="1.7" height="1.7"/><rect x="615.91" y="250.38" width="1.7" height="1.7"/><rect x="616.26" y="260.96" width="1.7" height="1.7"/><rect x="616.77" y="261.32" width="1.7" height="1.7"/><rect x="617.05" y="250.00" width="1.7" height="1.7"/><rect x="617.42" y="246.44" width="1.7" height="1.7"/><rect x="618.34" y="247.06" width="1.7" height="1.7"/><rect x="618.52" y="254.75" width="1.7" height="1.7"/><rect x="619.27" y="241.38" width="1.7" height="1.7"/><rect x="619.51" y="262.54" width="1.7" height="1.7"/><rect x="620.36" y="244.64" width="1.7" height="1.7"/><rect x="620.61" y="259.54" width="1.7" height="1.7"/><rect x="621.03" y="247.25" width="1.7" height="1.7"/><rect x="621.64" y="255.10" width="1.7" height="1.7"/><rect x="622.24" y="258.43" width="1.7" height="1.7"/><rect x="622.57" y="240.66" width="1.7" height="1.7"/><rect x="622.96" y="258.39" width="1.7" height="1.7"/><rect x="623.90" y="253.62" width="1.7" height="1.7"/><rect x="624.34" y="236.51" width="1.7" height="1.7"/><rect x="624.73" y="258.76" width="1.7" height="1.7"/><rect x="625.23" y="246.66" width="1.7" height="1.7"/><rect x="625.78" y="245.02" width="1.7" height="1.7"/><rect x="626.00" y="251.22" width="1.7" height="1.7"/><rect x="626.71" y="253.37" width="1.7" height="1.7"/><rect x="627.51" y="248.04" width="1.7" height="1.7"/><rect x="627.71" y="248.63" width="1.7" height="1.7"/><rect x="628.08" y="249.71" width="1.7" height="1.7"/><rect x="628.94" y="250.08" width="1.7" height="1.7"/><rect x="629.45" y="247.96" width="1.7" height="1.7"/><rect x="629.64" y="256.39" width="1.7" height="1.7"/><rect x="630.35" y="256.47" width="1.7" height="1.7"/><rect x="630.67" y="250.16" width="1.7" height="1.7"/><rect x="631.23" y="255.77" width="1.7" height="1.7"/><rect x="631.99" y="260.24" width="1.7" height="1.7"/><rect x="632.08" y="251.51" width="1.7" height="1.7"/><rect x="632.81" y="242.53" width="1.7" height="1.7"/><rect x="633.19" y="248.48" width="1.7" height="1.7"/><rect x="633.68" y="246.76" width="1.7" height="1.7"/><rect x="634.26" y="235.05" width="1.7" height="1.7"/><rect x="634.99" y="251.97" width="1.7" height="1.7"/><rect x="635.55" y="240.34" width="1.7" height="1.7"/><rect x="635.97" y="251.52" width="1.7" height="1.7"/><rect x="636.05" y="253.39" width="1.7" height="1.7"/><rect x="636.68" y="257.47" width="1.7" height="1.7"/><rect x="637.34" y="241.98" width="1.7" height="1.7"/><rect x="637.89" y="251.48" width="1.7" height="1.7"/><rect x="638.19" y="256.91" width="1.7" height="1.7"/><rect x="638.55" y="237.69" width="1.7" height="1.7"/><rect x="639.14" y="252.35" width="1.7" height="1.7"/><rect x="639.58" y="255.72" width="1.7" height="1.7"/><rect x="640.41" y="255.25" width="1.7" height="1.7"/><rect x="640.77" y="242.82" width="1.7" height="1.7"/><rect x="641.34" y="255.27" width="1.7" height="1.7"/><rect x="641.61" y="251.77" width="1.7" height="1.7"/><rect x="642.15" y="242.63" width="1.7" height="1.7"/><rect x="642.62" y="254.43" width="1.7" height="1.7"/><rect x="643.54" y="249.11" width="1.7" height="1.7"/><rect x="643.86" y="246.06" width="1.7" height="1.7"/><rect x="644.20" y="257.47" width="1.7" height="1.7"/><rect x="644.69" y="248.44" width="1.7" height="1.7"/><rect x="645.39" y="242.92" width="1.7" height="1.7"/><rect x="645.90" y="243.76" width="1.7" height="1.7"/><rect x="646.12" y="251.14" width="1.7" height="1.7"/><rect x="646.82" y="247.51" width="1.7" height="1.7"/><rect x="647.56" y="258.93" width="1.7" height="1.7"/><rect x="648.01" y="252.19" width="1.7" height="1.7"/><rect x="648.15" y="238.26" width="1.7" height="1.7"/><rect x="648.65" y="249.50" width="1.7" height="1.7"/><rect x="649.56" y="252.02" width="1.7" height="1.7"/><rect x="650.13" y="246.26" width="1.7" height="1.7"/><rect x="650.41" y="248.25" width="1.7" height="1.7"/><rect x="651.03" y="252.36" width="1.7" height="1.7"/><rect x="651.14" y="248.26" width="1.7" height="1.7"/><rect x="651.61" y="242.37" width="1.7" height="1.7"/><rect x="652.44" y="247.45" width="1.7" height="1.7"/><rect x="653.01" y="243.25" width="1.7" height="1.7"/><rect x="653.35" y="241.62" width="1.7" height="1.7"/><rect x="654.11" y="254.67" width="1.7" height="1.7"/><rect x="654.44" y="236.98" width="1.7" height="1.7"/><rect x="654.72" y="255.35" width="1.7" height="1.7"/><rect x="655.54" y="254.79" width="1.7" height="1.7"/><rect x="656.01" y="239.13" width="1.7" height="1.7"/><rect x="656.59" y="244.00" width="1.7" height="1.7"/><rect x="657.05" y="244.11" width="1.7" height="1.7"/><rect x="657.67" y="248.93" width="1.7" height="1.7"/><rect x="657.98" y="250.52" width="1.7" height="1.7"/><rect x="658.20" y="260.01" width="1.7" height="1.7"/><rect x="658.71" y="252.17" width="1.7" height="1.7"/><rect x="659.67" y="250.83" width="1.7" height="1.7"/><rect x="659.76" y="253.06" width="1.7" height="1.7"/><rect x="660.41" y="243.87" width="1.7" height="1.7"/><rect x="660.72" y="255.96" width="1.7" height="1.7"/><rect x="661.17" y="239.27" width="1.7" height="1.7"/><rect x="661.77" y="240.80" width="1.7" height="1.7"/><rect x="662.48" y="250.96" width="1.7" height="1.7"/><rect x="662.88" y="238.58" width="1.7" height="1.7"/><rect x="663.25" y="242.53" width="1.7" height="1.7"/><rect x="664.06" y="254.22" width="1.7" height="1.7"/><rect x="664.63" y="247.31" width="1.7" height="1.7"/><rect x="664.87" y="248.71" width="1.7" height="1.7"/><rect x="665.27" y="261.88" width="1.7" height="1.7"/><rect x="666.14" y="248.47" width="1.7" height="1.7"/><rect x="666.21" y="243.24" width="1.7" height="1.7"/><rect x="667.07" y="237.09" width="1.7" height="1.7"/><rect x="667.42" y="252.15" width="1.7" height="1.7"/><rect x="668.17" y="247.67" width="1.7" height="1.7"/><rect x="668.42" y="241.86" width="1.7" height="1.7"/><rect x="668.75" y="254.79" width="1.7" height="1.7"/><rect x="669.39" y="245.26" width="1.7" height="1.7"/><rect x="670.04" y="234.41" width="1.7" height="1.7"/><rect x="670.24" y="245.15" width="1.7" height="1.7"/><rect x="670.98" y="242.66" width="1.7" height="1.7"/><rect x="671.54" y="252.90" width="1.7" height="1.7"/><rect x="671.73" y="244.13" width="1.7" height="1.7"/><rect x="672.55" y="248.82" width="1.7" height="1.7"/><rect x="672.99" y="246.95" width="1.7" height="1.7"/><rect x="673.78" y="244.51" width="1.7" height="1.7"/><rect x="674.11" y="247.04" width="1.7" height="1.7"/><rect x="674.39" y="249.23" width="1.7" height="1.7"/><rect x="674.89" y="240.31" width="1.7" height="1.7"/><rect x="675.56" y="264.49" width="1.7" height="1.7"/><rect x="676.30" y="250.97" width="1.7" height="1.7"/><rect x="676.27" y="258.64" width="1.7" height="1.7"/><rect x="677.24" y="252.25" width="1.7" height="1.7"/><rect x="677.69" y="254.32" width="1.7" height="1.7"/><rect x="677.96" y="255.00" width="1.7" height="1.7"/><rect x="678.42" y="244.17" width="1.7" height="1.7"/></g>
<path d="M527.90,263.90 L527.93,263.92 L528.00,263.96 L528.10,264.02 L528.23,264.10 L528.40,264.19 L528.59,264.30 L528.81,264.41 L529.06,264.54 L529.34,264.67 L529.63,264.80 L529.96,264.93 L530.31,265.07 L530.68,265.20 L531.08,265.33 L531.50,265.46 L531.94,265.59 L532.41,265.70 L532.90,265.82 L533.41,265.92 L533.94,266.02 L534.50,266.12 L535.07,266.21 L535.67,266.29 L536.29,266.36 L536.93,266.43 L537.59,266.50 L538.27,266.56 L538.97,266.62 L539.69,266.67 L540.43,266.71 L541.20,266.76 L541.98,266.80 L542.78,266.84 L543.60,266.87 L544.44,266.91 L545.30,266.94 L546.18,266.97 L547.08,267.00 L548.00,267.03 L548.94,267.06 L549.89,267.09 L550.87,267.12 L551.86,267.15 L552.88,267.17 L553.91,267.20 L554.96,267.23 L556.02,267.26 L557.11,267.29 L558.21,267.31 L559.34,267.34 L560.48,267.37 L561.64,267.40 L562.81,267.43 L564.01,267.46 L565.22,267.49 L566.45,267.52 L567.70,267.55 L568.96,267.58 L570.25,267.62 L571.55,267.65 L572.87,267.68 L574.20,267.71 L575.56,267.75 L576.93,267.78 L578.31,267.82 L579.72,267.85 L581.14,267.89 L582.58,267.92 L584.03,267.96 L585.51,267.99 L587.00,268.03 L588.50,268.07 L590.03,268.11 L591.57,268.14 L593.12,268.18 L594.70,268.22 L596.29,268.26 L597.90,268.30 L599.52,268.34 L601.16,268.38 L602.82,268.42 L604.49,268.47 L606.18,268.51 L607.88,268.55 L609.61,268.59 L611.34,268.64 L613.10,268.68 L614.87,268.72 L616.66,268.77 L618.46,268.81 L620.28,268.86 L622.11,268.90 L623.97,268.95 L625.83,269.00 L627.72,269.04 L629.62,269.09 L631.53,269.14 L633.46,269.19 L635.41,269.23 L637.37,269.28 L639.35,269.33 L641.34,269.38 L643.35,269.43 L645.38,269.48 L647.42,269.53 L649.48,269.58 L651.55,269.63 L653.64,269.69 L655.74,269.74 L657.86,269.79 L659.99,269.84 L662.14,269.90 L664.31,269.95 L666.49,270.01 L668.68,270.06 L670.90,270.11 L673.12,270.17 L675.36,270.23 L677.62,270.28 L679.89,270.34" fill="none" stroke="#f01818" stroke-width="1.9" stroke-dasharray="5.5 1.8 1.4 1.8" stroke-linejoin="round" />
<path d="M527.90,263.90 L527.93,263.89 L528.00,263.86 L528.10,263.83 L528.23,263.78 L528.40,263.71 L528.59,263.64 L528.81,263.56 L529.06,263.47 L529.34,263.38 L529.63,263.27 L529.96,263.16 L530.31,263.04 L530.68,262.92 L531.08,262.79 L531.50,262.65 L531.94,262.51 L532.41,262.37 L532.90,262.22 L533.41,262.07 L533.94,261.92 L534.50,261.77 L535.07,261.61 L535.67,261.45 L536.29,261.29 L536.93,261.13 L537.59,260.97 L538.27,260.81 L538.97,260.65 L539.69,260.49 L540.43,260.34 L541.20,260.18 L541.98,260.03 L542.78,259.87 L543.60,259.72 L544.44,259.57 L545.30,259.43 L546.18,259.29 L547.08,259.15 L548.00,259.01 L548.94,258.88 L549.89,258.74 L550.87,258.62 L551.86,258.49 L552.88,258.37 L553.91,258.26 L554.96,258.14 L556.02,258.03 L557.11,257.93 L558.21,257.83 L559.34,257.73 L560.48,257.63 L561.64,257.54 L562.81,257.45 L564.01,257.37 L565.22,257.29 L566.45,257.21 L567.70,257.13 L568.96,257.06 L570.25,257.00 L571.55,256.93 L572.87,256.87 L574.20,256.81 L575.56,256.76 L576.93,256.70 L578.31,256.65 L579.72,256.60 L581.14,256.56 L582.58,256.52 L584.03,256.48 L585.51,256.44 L587.00,256.40 L588.50,256.37 L590.03,256.34 L591.57,256.31 L593.12,256.28 L594.70,256.25 L596.29,256.23 L597.90,256.20 L599.52,256.18 L601.16,256.16 L602.82,256.14 L604.49,256.12 L606.18,256.11 L607.88,256.09 L609.61,256.08 L611.34,256.07 L613.10,256.05 L614.87,256.04 L616.66,256.03 L618.46,256.02 L620.28,256.01 L622.11,256.00 L623.97,255.99 L625.83,255.99 L627.72,255.98 L629.62,255.97 L631.53,255.97 L633.46,255.96 L635.41,255.96 L637.37,255.95 L639.35,255.95 L641.34,255.95 L643.35,255.94 L645.38,255.94 L647.42,255.94 L649.48,255.93 L651.55,255.93 L653.64,255.93 L655.74,255.93 L657.86,255.93 L659.99,255.92 L662.14,255.92 L664.31,255.92 L666.49,255.92 L668.68,255.92 L670.90,255.92 L673.12,255.92 L675.36,255.92 L677.62,255.91 L679.89,255.91" fill="none" stroke="#2288f0" stroke-width="1.8" stroke-linejoin="round" />
<path d="M527.90,263.90 L527.93,263.88 L528.00,263.82 L528.10,263.73 L528.23,263.61 L528.40,263.48 L528.59,263.33 L528.81,263.16 L529.06,262.97 L529.34,262.78 L529.63,262.57 L529.96,262.36 L530.31,262.14 L530.68,261.91 L531.08,261.68 L531.50,261.45 L531.94,261.22 L532.41,260.99 L532.90,260.76 L533.41,260.53 L533.94,260.29 L534.50,260.07 L535.07,259.84 L535.67,259.61 L536.29,259.39 L536.93,259.17 L537.59,258.95 L538.27,258.74 L538.97,258.53 L539.69,258.32 L540.43,258.11 L541.20,257.91 L541.98,257.71 L542.78,257.51 L543.60,257.32 L544.44,257.13 L545.30,256.94 L546.18,256.76 L547.08,256.57 L548.00,256.40 L548.94,256.22 L549.89,256.05 L550.87,255.87 L551.86,255.71 L552.88,255.54 L553.91,255.38 L554.96,255.22 L556.02,255.06 L557.11,254.90 L558.21,254.75 L559.34,254.60 L560.48,254.45 L561.64,254.30 L562.81,254.16 L564.01,254.01 L565.22,253.87 L566.45,253.73 L567.70,253.60 L568.96,253.46 L570.25,253.33 L571.55,253.19 L572.87,253.06 L574.20,252.94 L575.56,252.81 L576.93,252.69 L578.31,252.56 L579.72,252.44 L581.14,252.32 L582.58,252.20 L584.03,252.08 L585.51,251.97 L587.00,251.85 L588.50,251.74 L590.03,251.63 L591.57,251.52 L593.12,251.41 L594.70,251.30 L596.29,251.19 L597.90,251.09 L599.52,250.98 L601.16,250.88 L602.82,250.78 L604.49,250.67 L606.18,250.57 L607.88,250.48 L609.61,250.38 L611.34,250.28 L613.10,250.18 L614.87,250.09 L616.66,250.00 L618.46,249.90 L620.28,249.81 L622.11,249.72 L623.97,249.63 L625.83,249.54 L627.72,249.45 L629.62,249.36 L631.53,249.28 L633.46,249.19 L635.41,249.10 L637.37,249.02 L639.35,248.94 L641.34,248.85 L643.35,248.77 L645.38,248.69 L647.42,248.61 L649.48,248.53 L651.55,248.45 L653.64,248.37 L655.74,248.29 L657.86,248.21 L659.99,248.14 L662.14,248.06 L664.31,247.98 L666.49,247.91 L668.68,247.84 L670.90,247.76 L673.12,247.69 L675.36,247.62 L677.62,247.54 L679.89,247.47" fill="none" stroke="#747474" stroke-width="1.9" stroke-dasharray="5 2.6" stroke-linejoin="round" />
<path d="M527.90,263.90 L527.93,263.85 L528.00,263.73 L528.10,263.55 L528.23,263.33 L528.40,263.07 L528.59,262.79 L528.81,262.48 L529.06,262.15 L529.34,261.81 L529.63,261.47 L529.96,261.12 L530.31,260.77 L530.68,260.42 L531.08,260.08 L531.50,259.73 L531.94,259.40 L532.41,259.06 L532.90,258.74 L533.41,258.42 L533.94,258.11 L534.50,257.80 L535.07,257.50 L535.67,257.21 L536.29,256.92 L536.93,256.64 L537.59,256.37 L538.27,256.10 L538.97,255.84 L539.69,255.58 L540.43,255.33 L541.20,255.09 L541.98,254.85 L542.78,254.62 L543.60,254.39 L544.44,254.16 L545.30,253.95 L546.18,253.73 L547.08,253.52 L548.00,253.32 L548.94,253.11 L549.89,252.92 L550.87,252.72 L551.86,252.53 L552.88,252.34 L553.91,252.16 L554.96,251.98 L556.02,251.80 L557.11,251.63 L558.21,251.46 L559.34,251.29 L560.48,251.13 L561.64,250.96 L562.81,250.80 L564.01,250.65 L565.22,250.49 L566.45,250.34 L567.70,250.19 L568.96,250.04 L570.25,249.90 L571.55,249.76 L572.87,249.62 L574.20,249.48 L575.56,249.34 L576.93,249.20 L578.31,249.07 L579.72,248.94 L581.14,248.81 L582.58,248.68 L584.03,248.56 L585.51,248.43 L587.00,248.31 L588.50,248.19 L590.03,248.07 L591.57,247.95 L593.12,247.84 L594.70,247.72 L596.29,247.61 L597.90,247.49 L599.52,247.38 L601.16,247.27 L602.82,247.17 L604.49,247.06 L606.18,246.95 L607.88,246.85 L609.61,246.74 L611.34,246.64 L613.10,246.54 L614.87,246.44 L616.66,246.34 L618.46,246.24 L620.28,246.15 L622.11,246.05 L623.97,245.95 L625.83,245.86 L627.72,245.77 L629.62,245.67 L631.53,245.58 L633.46,245.49 L635.41,245.40 L637.37,245.31 L639.35,245.23 L641.34,245.14 L643.35,245.05 L645.38,244.97 L647.42,244.88 L649.48,244.80 L651.55,244.72 L653.64,244.63 L655.74,244.55 L657.86,244.47 L659.99,244.39 L662.14,244.31 L664.31,244.23 L666.49,244.15 L668.68,244.08 L670.90,244.00 L673.12,243.92 L675.36,243.85 L677.62,243.77 L679.89,243.70" fill="none" stroke="#000" stroke-width="2.6" stroke-linejoin="round" />
<rect x="522.5" y="197.0" width="162.0" height="90.5" fill="none" stroke="#5c5c5c" stroke-width="1.1"/>
<line x1="520.3" y1="219.50" x2="522.5" y2="219.50" stroke="#555" stroke-width="0.9"/>
<text x="519.3" y="222.30" font-size="9.4" text-anchor="end" fill="#1a1a1a">2</text>
<line x1="520.3" y1="241.70" x2="522.5" y2="241.70" stroke="#555" stroke-width="0.9"/>
<text x="519.3" y="244.50" font-size="9.4" text-anchor="end" fill="#1a1a1a">1</text>
<line x1="520.3" y1="263.90" x2="522.5" y2="263.90" stroke="#555" stroke-width="0.9"/>
<text x="519.3" y="266.70" font-size="9.4" text-anchor="end" fill="#1a1a1a">0</text>
<line x1="527.90" y1="287.5" x2="527.90" y2="289.7" stroke="#555" stroke-width="0.9"/>
<text x="527.90" y="298.10" font-size="9.2" text-anchor="middle" fill="#222">0</text>
<line x1="555.84" y1="287.5" x2="555.84" y2="289.7" stroke="#555" stroke-width="0.9"/>
<text x="555.84" y="298.10" font-size="9.2" text-anchor="middle" fill="#222">50</text>
<line x1="583.78" y1="287.5" x2="583.78" y2="289.7" stroke="#555" stroke-width="0.9"/>
<text x="583.78" y="298.10" font-size="9.2" text-anchor="middle" fill="#222">100</text>
<line x1="611.72" y1="287.5" x2="611.72" y2="289.7" stroke="#555" stroke-width="0.9"/>
<text x="611.72" y="298.10" font-size="9.2" text-anchor="middle" fill="#222">150</text>
<line x1="639.66" y1="287.5" x2="639.66" y2="289.7" stroke="#555" stroke-width="0.9"/>
<text x="639.66" y="298.10" font-size="9.2" text-anchor="middle" fill="#222">200</text>
<line x1="667.60" y1="287.5" x2="667.60" y2="289.7" stroke="#555" stroke-width="0.9"/>
<text x="667.60" y="298.10" font-size="9.2" text-anchor="middle" fill="#222">250</text>
<text x="526.5" y="211.7" font-size="15" fill="#111">g)</text>
<rect x="595.8" y="201" width="29.90000000000009" height="11.800000000000011" fill="#fff" stroke="#666" stroke-width="0.8"/>
<text x="610.75" y="210.40" font-size="10" text-anchor="middle" fill="#111" textLength="23.4" lengthAdjust="spacingAndGlyphs">COLC</text>
<text transform="translate(297.6,147) rotate(-90)" font-size="10.6" text-anchor="middle" fill="#111" textLength="139" lengthAdjust="spacingAndGlyphs">Horizontal displacement (cm)</text>
<text transform="translate(502.4,148.5) rotate(-90)" font-size="10.6" text-anchor="middle" fill="#111" textLength="125.7" lengthAdjust="spacingAndGlyphs">Vertical displacement (cm)</text>
<text x="487.7" y="310" font-size="10.4" text-anchor="middle" fill="#111" textLength="145" lengthAdjust="spacingAndGlyphs">Days relative to the mainshock</text>
<defs>
<clipPath id="mclip"><rect x="22.0" y="4.5" width="253.5" height="289.0"/></clipPath>
<filter id="b3" x="-50%" y="-50%" width="200%" height="200%"><feGaussianBlur stdDeviation="3"/></filter>
<filter id="b5" x="-50%" y="-50%" width="200%" height="200%"><feGaussianBlur stdDeviation="5"/></filter>
<filter id="b8" x="-50%" y="-50%" width="200%" height="200%"><feGaussianBlur stdDeviation="8"/></filter>
<filter id="b14" x="-50%" y="-50%" width="200%" height="200%"><feGaussianBlur stdDeviation="14"/></filter>
<filter id="tex" x="0" y="0" width="100%" height="100%"><feTurbulence type="fractalNoise" baseFrequency="0.035 0.06" numOctaves="2" seed="5" result="lo"/><feColorMatrix in="lo" type="matrix" values="0 0 0 0 0  0 0 0 0 0  0 0 0 0 0  4 0 0 0 -1.45" result="loA"/><feTurbulence type="fractalNoise" baseFrequency="0.3 0.55" numOctaves="2" seed="9" result="hi"/><feColorMatrix in="hi" type="matrix" values="0 0 0 0 0.50  0 0 0 0 0.47  0 0 0 0 0.44  5.5 0 0 0 -2.45" result="hiA"/><feComposite in="hiA" in2="loA" operator="in"/></filter>
<filter id="tex3" x="0" y="0" width="100%" height="100%"><feTurbulence type="fractalNoise" baseFrequency="0.12 0.3" numOctaves="3" seed="21" result="n"/><feColorMatrix in="n" type="matrix" values="0 0 0 0 0.50  0 0 0 0 0.47  0 0 0 0 0.44  4.5 0 0 0 -1.95"/></filter>
<filter id="tex4" x="0" y="0" width="100%" height="100%"><feTurbulence type="fractalNoise" baseFrequency="0.05 0.36" numOctaves="3" seed="33" result="n"/><feColorMatrix in="n" type="matrix" values="0 0 0 0 0.48  0 0 0 0 0.45  0 0 0 0 0.42  5.0 0 0 0 -2.25"/></filter>
<filter id="tex2" x="0" y="0" width="100%" height="100%"><feTurbulence type="fractalNoise" baseFrequency="0.7" numOctaves="2" seed="3" result="n"/><feColorMatrix in="n" type="matrix" values="0 0 0 0 0.45  0 0 0 0 0.42  0 0 0 0 0.40  4.0 0 0 0 -2.35"/></filter>
<linearGradient id="asl" x1="0" y1="1" x2="0" y2="0"><stop offset="0" stop-color="#fffff4"/><stop offset="0.2" stop-color="#f2eebc"/><stop offset="0.42" stop-color="#d8b89a"/><stop offset="0.65" stop-color="#b07c78"/><stop offset="0.85" stop-color="#6c3a3a"/><stop offset="1" stop-color="#2a0a0a"/></linearGradient>
<linearGradient id="vcb" x1="0" y1="0" x2="1" y2="0"><stop offset="0" stop-color="#00008a"/><stop offset="0.15" stop-color="#0000ff"/><stop offset="0.32" stop-color="#5aa0ff"/><stop offset="0.5" stop-color="#ffffff"/><stop offset="0.62" stop-color="#ffff40"/><stop offset="0.75" stop-color="#ffb000"/><stop offset="0.88" stop-color="#ff2000"/><stop offset="1" stop-color="#8a0000"/></linearGradient>
</defs>
<g clip-path="url(#mclip)">
<rect x="22.0" y="4.5" width="253.5" height="289.0" fill="#fbfbf8"/>
<clipPath id="landclip"><path d="M103,0 L103,4.5 L118,14 L137,27 L140,40 L142,56 L143,73 L146,100 L148,120 L151,140 L153,160 L153,190 L157,230 L157,300 L280,300 L280,0 Z"/></clipPath>
<mask id="amask"><path d="M0,0 L112,0 L114,8 L137,27 L150,45 L158,70 L162,100 L172,128 L190,148 L199,180 L200,220 L198,300 L0,300 Z" fill="#fff" filter="url(#b3)"/></mask>
<path d="M103,0 L103,4.5 L118,14 L137,27 L140,40 L142,56 L143,73 L146,100 L148,120 L151,140 L153,160 L153,190 L157,230 L157,300 L280,300 L280,0 Z" fill="#fbfbfa"/>
<mask id="tmask"><path d="M100,0 L280,0 L280,300 L226,300 L223,250 L220,200 L214,168 L202,150 L186,138 L170,128 L152,100 L140,40 L120,10 Z" fill="#fff" filter="url(#b5)"/><ellipse cx="276" cy="150" rx="7" ry="40" fill="#000" filter="url(#b3)"/></mask>
<mask id="smask"><path d="M150,10 L235,5 L240,140 L200,150 L175,128 L162,100 L156,60 Z" fill="#fff" filter="url(#b8)"/></mask>
<mask id="bmask"><path d="M228,150 L262,150 L264,300 L228,300 Z" fill="#fff" filter="url(#b5)"/><path d="M235,0 L280,0 L280,95 L240,95 Z" fill="#999" filter="url(#b5)"/></mask>
<g clip-path="url(#landclip)"><g mask="url(#tmask)"><rect x="100" y="0" width="180" height="300" filter="url(#tex)" opacity="1"/><rect x="100" y="0" width="180" height="300" filter="url(#tex2)" opacity="0.5"/></g><g mask="url(#smask)"><rect x="60" y="-60" width="260" height="260" filter="url(#tex4)" opacity="0.55" transform="rotate(-22 190 80)"/></g><g mask="url(#bmask)"><rect x="100" y="0" width="180" height="300" fill="#d9d5cf" opacity="0.22"/><rect x="100" y="0" width="180" height="300" filter="url(#tex3)" opacity="0.75"/></g></g>
<g mask="url(#amask)">
<rect x="0" y="0" width="280" height="300" fill="#fbf9ea"/>
<ellipse cx="112" cy="130" rx="50" ry="135" fill="#efe7ae" opacity="0.75" filter="url(#b14)"/>
<ellipse cx="88" cy="45" rx="24" ry="30" fill="#ebe2a0" opacity="0.55" filter="url(#b8)"/>
<ellipse cx="105" cy="68" rx="9" ry="10" fill="#f8f4dc" opacity="0.85" filter="url(#b5)"/>
<ellipse cx="118" cy="128" rx="30" ry="45" fill="#c49a92" opacity="0.62" filter="url(#b8)"/>
<ellipse cx="124" cy="140" rx="19" ry="30" fill="none" stroke="#a47570" stroke-width="13" opacity="0.72" filter="url(#b5)"/>
<ellipse cx="129" cy="99" rx="15" ry="38" fill="#b08680" opacity="0.85" filter="url(#b5)" transform="rotate(-16 129 99)"/>
<ellipse cx="121" cy="163" rx="17" ry="11" fill="#c09088" opacity="0.6" filter="url(#b5)"/>
<ellipse cx="140" cy="152" rx="6" ry="26" fill="#94625e" opacity="0.6" filter="url(#b3)" transform="rotate(12 140 152)"/>
<ellipse cx="144" cy="130" rx="5" ry="22" fill="#a87670" opacity="0.7" filter="url(#b3)"/>
<ellipse cx="132" cy="60" rx="10" ry="16" fill="#b48280" opacity="0.75" filter="url(#b5)"/>
<ellipse cx="123" cy="37" rx="11" ry="20" fill="#b08080" opacity="0.85" filter="url(#b3)" transform="rotate(-40 123 37)"/>
<ellipse cx="121" cy="35" rx="5" ry="9" fill="#905a5a" opacity="0.75" filter="url(#b3)" transform="rotate(-40 121 35)"/>
<ellipse cx="127" cy="92" rx="8" ry="15" fill="#7c4848" opacity="0.85" filter="url(#b3)" transform="rotate(-20 127 92)"/>
<ellipse cx="125.5" cy="94" rx="4.5" ry="5.5" fill="#2e1010" opacity="0.95" filter="url(#b3)"/>
<ellipse cx="172" cy="215" rx="18" ry="26" fill="#ebe5ae" opacity="0.6" filter="url(#b5)"/>
<ellipse cx="142" cy="213" rx="12" ry="10" fill="#c07068" opacity="0.85" filter="url(#b5)"/>
<ellipse cx="152" cy="188" rx="10" ry="12" fill="#c89088" opacity="0.7" filter="url(#b5)"/>
</g>
<path d="M20,8 C22.33,10.83 29.67,20.33 34,25 C38.33,29.67 40.67,29.50 46,36 C51.33,42.50 58.17,50.00 66,64 C73.83,78.00 87.17,105.67 93,120 C98.83,134.33 98.33,140.00 101,150 C103.67,160.00 107.00,170.00 109,180 C111.00,190.00 112.17,198.33 113,210 C113.83,221.67 113.75,235.00 114,250 C114.25,265.00 114.42,291.67 114.5,300" stroke="#222" stroke-width="0.6" stroke-dasharray="3.2 2.4" fill="none"/>
<path d="M84,2 C85.00,3.33 87.33,6.67 90,10 C92.67,13.33 96.75,17.00 100,22 C103.25,27.00 106.67,33.17 109.5,40 C112.33,46.83 114.25,54.33 117,63 C119.75,71.67 123.33,83.33 126,92 C128.67,100.67 131.00,108.33 133,115 C135.00,121.67 136.00,124.50 138,132 C140.00,139.50 142.83,148.67 145,160 C147.17,171.33 149.33,185.00 151,200 C152.67,215.00 154.17,233.33 155,250 C155.83,266.67 155.83,291.67 156,300" stroke="#222" stroke-width="0.6" stroke-dasharray="3.2 2.4" fill="none"/>
<path d="M123,2 C124.83,4.67 131.00,13.00 134,18 C137.00,23.00 138.33,26.67 141,32 C143.67,37.33 146.67,40.67 150,50 C153.33,59.33 158.00,74.67 161,88 C164.00,101.33 165.17,117.17 168,130 C170.83,142.83 175.08,155.00 178,165 C180.92,175.00 183.17,181.33 185.5,190 C187.83,198.67 190.32,205.83 192,217 C193.68,228.17 195.18,243.17 195.6,257 C196.02,270.83 194.68,292.83 194.5,300" stroke="#222" stroke-width="0.6" stroke-dasharray="3.2 2.4" fill="none"/>
<path d="M156,2 C157.17,4.00 160.67,10.83 163,14 C165.33,17.17 167.67,15.67 170,21 C172.33,26.33 174.83,39.00 177,46 C179.17,53.00 180.83,56.33 183,63 C185.17,69.67 187.83,78.83 190,86 C192.17,93.17 193.83,98.67 196,106 C198.17,113.33 200.50,122.67 203,130 C205.50,137.33 208.83,141.67 211,150 C213.17,158.33 214.67,169.17 216,180 C217.33,190.83 218.00,202.50 219,215 C220.00,227.50 221.17,240.83 222,255 C222.83,269.17 223.67,292.50 224,300" stroke="#222" stroke-width="0.6" stroke-dasharray="3.2 2.4" fill="none"/>
<path d="M102.10,4.50 L104.19,5.57 L106.24,6.64 L108.35,7.71 L110.19,8.79 L112.34,9.86 L113.62,10.93 L115.97,12.00 L118.55,13.40 L120.52,14.80 L122.92,16.20 L124.49,17.60 L126.98,19.00 L128.60,20.40 L130.64,21.80 L132.46,23.20 L133.81,24.60 L135.77,26.00 L136.49,28.33 L137.67,30.67 L138.21,33.00 L138.39,35.33 L139.57,37.67 L139.35,40.00 L140.50,42.29 L139.90,44.57 L139.96,46.86 L141.81,49.14 L140.91,51.43 L141.20,53.71 L142.87,56.00 L142.17,58.50 L140.62,61.00 L142.23,63.40 L141.87,65.80 L142.52,68.20 L142.07,70.60 L143.79,73.00 L143.74,75.20 L144.64,77.40 L144.91,79.60 L144.24,81.80 L144.75,84.00 L144.54,86.29 L144.65,88.57 L144.65,90.86 L145.21,93.14 L145.90,95.43 L144.96,97.71 L146.32,100.00 L145.93,102.22 L146.10,104.44 L147.24,106.67 L146.85,108.89 L146.78,111.11 L147.30,113.33 L147.92,115.56 L146.98,117.78 L148.86,120.00 L147.47,122.22 L149.12,124.44 L149.62,126.67 L148.47,128.89 L150.18,131.11 L149.76,133.33 L150.47,135.56 L149.78,137.78 L150.18,140.00 L150.65,142.22 L152.26,144.44 L151.12,146.67 L152.35,148.89 L152.88,151.11 L153.13,153.33 L152.28,155.56 L152.52,157.78 L153.04,160.00 L153.33,162.50 L151.96,165.00 L152.95,167.50 L152.87,170.00 L152.81,172.50 L151.17,175.00 L152.97,177.50 L151.60,180.00 L152.21,182.50 L152.87,185.00 L153.59,187.50 L152.71,190.00 L154.39,192.50 L154.33,195.00 L154.54,197.50 L155.17,200.00 L155.29,202.50 L155.49,205.00 L155.99,207.50 L157.34,210.00 L157.99,212.40 L156.59,214.80 L156.49,217.20 L158.28,219.60 L157.56,222.00 L157.55,224.34 L157.47,226.68 L158.33,229.02 L158.97,231.36 L158.52,233.70 L158.80,235.96 L158.48,238.22 L160.37,240.48 L159.12,242.74 L160.29,245.00 L160.91,247.40 L159.64,249.80 L160.72,252.20 L161.11,254.60 L160.53,257.00 L160.49,259.50 L158.94,262.00 L159.21,264.50 L158.37,267.00 L159.52,269.60 L158.43,272.20 L158.62,274.80 L159.50,277.40 L158.96,279.80 L158.91,282.20 L157.69,284.60 L157.48,287.00 L157.75,289.67 L157.13,292.33 L157.00,295.00" stroke="#3a3a3a" stroke-width="0.65" fill="none" stroke-linejoin="round"/>
<path d="M228,2 C228.08,2.67 227.92,3.83 228.5,6 C229.08,8.17 230.58,10.83 231.5,15 C232.42,19.17 232.92,25.00 234,31 C235.08,37.00 236.72,45.08 238,51 C239.28,56.92 240.25,61.67 241.7,66.5 C243.15,71.33 244.98,77.08 246.7,80 C248.42,82.92 250.08,82.62 252,84 C253.92,85.38 256.13,86.80 258.2,88.3 C260.27,89.80 262.95,91.32 264.4,93 C265.85,94.68 265.93,96.67 266.9,98.4 C267.87,100.13 269.08,101.73 270.2,103.4 C271.32,105.07 273.32,105.88 273.6,108.4 C273.88,110.92 272.73,115.13 271.9,118.5 C271.07,121.87 268.88,125.25 268.6,128.6 C268.32,131.95 270.77,135.82 270.2,138.6 C269.63,141.38 267.43,142.78 265.2,145.3 C262.97,147.82 258.48,151.45 256.8,153.7 C255.12,155.95 254.53,156.28 255.1,158.8 C255.67,161.32 259.63,165.73 260.2,168.8 C260.77,171.87 258.23,174.40 258.5,177.2 C258.77,180.00 260.12,183.08 261.8,185.6 C263.48,188.12 266.35,190.62 268.6,192.3 C270.85,193.98 273.40,194.92 275.3,195.7 C277.20,196.48 279.22,196.78 280,197" stroke="#555" stroke-width="0.6" fill="none"/>
<path d="M150,27 L163,22.5 L170,21 L176,12 L180,4.5" stroke="#555" stroke-width="0.6" fill="none"/>
<path d="M20,65 L49.5,100 Q62,116 67.6,130 Q73,145 75.6,160 Q78.5,176 80.4,190 L82,215 L83,300" stroke="#000" stroke-width="1.3" fill="none"/>
<path d="M124.50,130.70 L124.45,131.76 L124.31,132.82 L124.07,133.86 L123.76,134.87 L123.37,135.86 L122.93,136.80 L122.44,137.70 L121.91,138.54 L121.38,139.33 L120.83,140.05 L120.29,140.69 L119.77,141.27 L119.26,141.76 L118.77,142.16 L118.31,142.48 L117.86,142.71 L117.43,142.85 L117.00,142.90 L116.57,142.85 L116.14,142.71 L115.69,142.48 L115.23,142.16 L114.74,141.76 L114.23,141.27 L113.71,140.69 L113.17,140.05 L112.62,139.33 L112.09,138.54 L111.56,137.70 L111.07,136.80 L110.63,135.86 L110.24,134.87 L109.93,133.86 L109.69,132.82 L109.55,131.76 L109.50,130.70 L109.53,129.64 L109.61,128.58 L109.76,127.54 L109.95,126.53 L110.20,125.54 L110.50,124.60 L110.86,123.70 L111.25,122.86 L111.70,122.07 L112.18,121.35 L112.70,120.71 L113.25,120.13 L113.83,119.64 L114.43,119.24 L115.06,118.92 L115.70,118.69 L116.35,118.55 L117.00,118.50 L117.65,118.55 L118.30,118.69 L118.94,118.92 L119.57,119.24 L120.17,119.64 L120.75,120.13 L121.30,120.71 L121.82,121.35 L122.30,122.07 L122.75,122.86 L123.14,123.70 L123.50,124.60 L123.80,125.54 L124.05,126.53 L124.24,127.54 L124.39,128.58 L124.47,129.64Z" fill="none" stroke="#ff2626" stroke-width="0.9" stroke-linejoin="round"/>
<path d="M131.00,132.00 L130.92,134.05 L130.68,136.08 L130.29,138.08 L129.77,140.04 L129.11,141.93 L128.34,143.75 L127.48,145.48 L126.54,147.11 L125.55,148.62 L124.51,150.00 L123.45,151.25 L122.38,152.35 L121.30,153.30 L120.22,154.08 L119.16,154.70 L118.10,155.14 L117.05,155.41 L116.00,155.50 L114.95,155.41 L113.90,155.14 L112.84,154.70 L111.78,154.08 L110.70,153.30 L109.62,152.35 L108.55,151.25 L107.49,150.00 L106.45,148.62 L105.46,147.11 L104.52,145.48 L103.66,143.75 L102.89,141.93 L102.23,140.04 L101.71,138.08 L101.32,136.08 L101.08,134.05 L101.00,132.00 L101.06,129.95 L101.23,127.92 L101.51,125.92 L101.90,123.96 L102.41,122.07 L103.01,120.25 L103.71,118.52 L104.51,116.89 L105.39,115.38 L106.36,114.00 L107.40,112.75 L108.50,111.65 L109.66,110.70 L110.87,109.92 L112.12,109.30 L113.40,108.86 L114.69,108.59 L116.00,108.50 L117.31,108.59 L118.60,108.86 L119.88,109.30 L121.13,109.92 L122.34,110.70 L123.50,111.65 L124.60,112.75 L125.64,114.00 L126.61,115.38 L127.49,116.89 L128.29,118.52 L128.99,120.25 L129.59,122.07 L130.10,123.96 L130.49,125.92 L130.77,127.92 L130.94,129.95Z" fill="none" stroke="#ff2626" stroke-width="0.9" stroke-linejoin="round"/>
<path d="M137.90,130.20 L137.78,133.27 L137.43,136.31 L136.86,139.31 L136.08,142.24 L135.10,145.08 L133.96,147.80 L132.66,150.39 L131.23,152.83 L129.70,155.09 L128.09,157.16 L126.43,159.03 L124.72,160.68 L122.98,162.10 L121.23,163.28 L119.48,164.20 L117.72,164.87 L115.96,165.27 L114.20,165.40 L112.44,165.27 L110.68,164.87 L108.92,164.20 L107.17,163.28 L105.42,162.10 L103.68,160.68 L101.97,159.03 L100.31,157.16 L98.70,155.09 L97.17,152.83 L95.74,150.39 L94.44,147.80 L93.30,145.08 L92.32,142.24 L91.54,139.31 L90.97,136.31 L90.62,133.27 L90.50,130.20 L90.59,127.13 L90.86,124.09 L91.31,121.09 L91.93,118.16 L92.72,115.32 L93.68,112.60 L94.79,110.01 L96.04,107.57 L97.44,105.31 L98.97,103.24 L100.61,101.37 L102.35,99.72 L104.18,98.30 L106.09,97.12 L108.07,96.20 L110.08,95.53 L112.13,95.13 L114.20,95.00 L116.27,95.13 L118.32,95.53 L120.33,96.20 L122.31,97.12 L124.22,98.30 L126.05,99.72 L127.79,101.37 L129.43,103.24 L130.96,105.31 L132.36,107.57 L133.61,110.01 L134.72,112.60 L135.68,115.32 L136.47,118.16 L137.09,121.09 L137.54,124.09 L137.81,127.13Z" fill="none" stroke="#ff2626" stroke-width="0.9" stroke-linejoin="round"/>
<path d="M144.90,128.70 L144.75,132.55 L144.30,136.38 L143.55,140.14 L142.53,143.82 L141.26,147.38 L139.75,150.80 L138.04,154.05 L136.14,157.11 L134.10,159.95 L131.94,162.56 L129.68,164.91 L127.35,166.98 L124.97,168.76 L122.55,170.23 L120.10,171.39 L117.64,172.23 L115.17,172.73 L112.70,172.90 L110.23,172.73 L107.76,172.23 L105.30,171.39 L102.85,170.23 L100.43,168.76 L98.05,166.98 L95.72,164.91 L93.46,162.56 L91.30,159.95 L89.26,157.11 L87.36,154.05 L85.65,150.80 L84.14,147.38 L82.87,143.82 L81.85,140.14 L81.10,136.38 L80.65,132.55 L80.50,128.70 L80.62,124.85 L80.99,121.02 L81.60,117.26 L82.44,113.58 L83.52,110.02 L84.81,106.60 L86.32,103.35 L88.03,100.29 L89.93,97.45 L92.00,94.84 L94.23,92.49 L96.60,90.42 L99.09,88.64 L101.69,87.17 L104.37,86.01 L107.11,85.17 L109.89,84.67 L112.70,84.50 L115.51,84.67 L118.29,85.17 L121.03,86.01 L123.71,87.17 L126.31,88.64 L128.80,90.42 L131.17,92.49 L133.40,94.84 L135.47,97.45 L137.37,100.29 L139.08,103.35 L140.59,106.60 L141.88,110.02 L142.96,113.58 L143.80,117.26 L144.41,121.02 L144.78,124.85Z" fill="none" stroke="#ff2626" stroke-width="0.9" stroke-linejoin="round"/>
<rect x="33.5" y="27.4" width="20.7" height="7.3" fill="#fff" stroke="#555" stroke-width="0.5"/>
<text x="43.9" y="33.1" font-size="6.6" text-anchor="middle" fill="#111" textLength="17.7" lengthAdjust="spacingAndGlyphs">20 km</text>
<rect x="83.4" y="12.6" width="21.1" height="8.1" fill="#fff" stroke="#555" stroke-width="0.5"/>
<text x="94.0" y="19.1" font-size="6.6" text-anchor="middle" fill="#111" textLength="18.1" lengthAdjust="spacingAndGlyphs">40 km</text>
<rect x="119.7" y="7.7" width="20.6" height="7.6" fill="#fff" stroke="#555" stroke-width="0.5"/>
<text x="130.0" y="13.7" font-size="6.6" text-anchor="middle" fill="#111" textLength="17.6" lengthAdjust="spacingAndGlyphs">60 km</text>
<rect x="149.3" y="7.7" width="20.7" height="7.6" fill="#fff" stroke="#555" stroke-width="0.5"/>
<text x="159.7" y="13.7" font-size="6.6" text-anchor="middle" fill="#111" textLength="17.7" lengthAdjust="spacingAndGlyphs">80 km</text>
<rect x="192.5" y="13.0" width="11" height="11" fill="#f0a020" stroke="#222" stroke-width="0.6"/>
<circle cx="198" cy="18.5" r="4.3" fill="#3a5ae0" stroke="#222" stroke-width="0.6"/>
<rect x="136.0" y="25.5" width="11" height="11" fill="#a8c8f0" stroke="#222" stroke-width="0.6"/>
<circle cx="141.5" cy="31" r="4.3" fill="#5a8ee8" stroke="#222" stroke-width="0.6"/>
<rect x="153.5" y="32.5" width="11" height="11" fill="#a8c8e8" stroke="#222" stroke-width="0.6"/>
<circle cx="159" cy="38" r="4.3" fill="#0a10d0" stroke="#222" stroke-width="0.6"/>
<rect x="138.5" y="43.5" width="11" height="11" fill="#e8eef8" stroke="#222" stroke-width="0.6"/>
<circle cx="144" cy="49" r="4.3" fill="#c0d8f0" stroke="#222" stroke-width="0.6"/>
<rect x="140.0" y="34.0" width="11" height="11" fill="#a8c4e8" stroke="#222" stroke-width="0.6"/>
<circle cx="145.5" cy="39.5" r="4.3" fill="#1a2ad0" stroke="#222" stroke-width="0.6"/>
<rect x="190.0" y="80.5" width="11" height="11" fill="#c8dcf0" stroke="#222" stroke-width="0.6"/>
<circle cx="195.5" cy="86" r="4.3" fill="#dceaf8" stroke="#222" stroke-width="0.6"/>
<rect x="151.5" y="93.1" width="11" height="11" fill="#2a46d6" stroke="#222" stroke-width="0.6"/>
<circle cx="157" cy="98.6" r="4.3" fill="#2a46d6" stroke="#222" stroke-width="0.6"/>
<rect x="152.5" y="114.5" width="11" height="11" fill="#2a46d6" stroke="#222" stroke-width="0.6"/>
<circle cx="158" cy="120" r="4.3" fill="#3a58e0" stroke="#222" stroke-width="0.6"/>
<rect x="186.0" y="126.5" width="11" height="11" fill="#5070e0" stroke="#222" stroke-width="0.6"/>
<circle cx="191.5" cy="132" r="4.3" fill="#90a8f0" stroke="#222" stroke-width="0.6"/>
<rect x="202.5" y="134.5" width="11" height="11" fill="#e03010" stroke="#222" stroke-width="0.6"/>
<circle cx="208" cy="140" r="4.3" fill="#a0d0f0" stroke="#222" stroke-width="0.6"/>
<rect x="222.1" y="153.7" width="11" height="11" fill="#d8e0f0" stroke="#222" stroke-width="0.6"/>
<circle cx="227.6" cy="159.2" r="4.3" fill="#f0e878" stroke="#222" stroke-width="0.6"/>
<rect x="259.2" y="91.7" width="11" height="11" fill="#f0e890" stroke="#222" stroke-width="0.6"/>
<circle cx="264.7" cy="97.2" r="4.3" fill="#f0e070" stroke="#222" stroke-width="0.6"/>
<rect x="154.5" y="163.0" width="11" height="11" fill="#4070e0" stroke="#222" stroke-width="0.6"/>
<circle cx="160" cy="168.5" r="4.3" fill="#2030d8" stroke="#222" stroke-width="0.6"/>
<rect x="156.5" y="156.3" width="11" height="11" fill="#5080e0" stroke="#222" stroke-width="0.6"/>
<circle cx="162" cy="161.8" r="4.3" fill="#4070e0" stroke="#222" stroke-width="0.6"/>
<rect x="178.7" y="152.9" width="11" height="11" fill="#0a1a8a" stroke="#222" stroke-width="0.6"/>
<circle cx="184.2" cy="158.4" r="4.3" fill="#78b0e8" stroke="#222" stroke-width="0.6"/>
<rect x="169.0" y="164.0" width="11" height="11" fill="#9a0818" stroke="#222" stroke-width="0.6"/>
<circle cx="174.5" cy="169.5" r="4.3" fill="#1a28e0" stroke="#222" stroke-width="0.6"/>
<rect x="209.5" y="178.5" width="11" height="11" fill="#e8e8e8" stroke="#222" stroke-width="0.6"/>
<circle cx="215" cy="184" r="4.3" fill="#ffffff" stroke="#222" stroke-width="0.6"/>
<rect x="148.5" y="184.5" width="11" height="11" fill="#e8f0f8" stroke="#222" stroke-width="0.6"/>
<circle cx="154" cy="190" r="4.3" fill="#a8d0f0" stroke="#222" stroke-width="0.6"/>
<rect x="155.5" y="209.5" width="11" height="11" fill="#e8f0f8" stroke="#222" stroke-width="0.6"/>
<circle cx="161" cy="215" r="4.3" fill="#a8d0f0" stroke="#222" stroke-width="0.6"/>
<rect x="207.5" y="211.5" width="11" height="11" fill="#f0f0d0" stroke="#222" stroke-width="0.6"/>
<circle cx="213" cy="217" r="4.3" fill="#f0e070" stroke="#222" stroke-width="0.6"/>
<rect x="198.0" y="218.5" width="11" height="11" fill="#b0d0f0" stroke="#222" stroke-width="0.6"/>
<circle cx="203.5" cy="224" r="4.3" fill="#f0e070" stroke="#222" stroke-width="0.6"/>
<rect x="169.5" y="239.0" width="11" height="11" fill="#d8e4f0" stroke="#222" stroke-width="0.6"/>
<circle cx="175" cy="244.5" r="4.3" fill="#ffffff" stroke="#222" stroke-width="0.6"/>
<rect x="169.1" y="268.5" width="11" height="11" fill="#f0f0f0" stroke="#222" stroke-width="0.6"/>
<circle cx="174.6" cy="274" r="4.3" fill="#ffffff" stroke="#222" stroke-width="0.6"/>
<circle cx="174.6" cy="274" r="1.3" fill="#d8c800"/>
<rect x="154.3" y="284.9" width="11" height="11" fill="#ffffff" stroke="#222" stroke-width="0.6"/>
<circle cx="159.8" cy="290.4" r="4.3" fill="#ffffff" stroke="#222" stroke-width="0.6"/>
<circle cx="159.8" cy="290.4" r="1.3" fill="#d8c800"/>
<rect x="216.5" y="273.5" width="11" height="11" fill="#a8d0f0" stroke="#222" stroke-width="0.6"/>
<circle cx="222" cy="279" r="4.3" fill="#ffffff" stroke="#222" stroke-width="0.6"/>
<circle cx="222" cy="279" r="1.3" fill="#d8c800"/>
<path d="M196.97,17.71 L181.00,38.61 L179.01,37.09 L177.30,45.60 L185.05,41.71 L183.07,40.19 L199.03,19.29Z" fill="#087a08" stroke="#333" stroke-width="0.45" stroke-linejoin="miter"/>
<path d="M140.94,29.83 L135.47,32.45 L134.39,30.20 L129.00,37.00 L137.68,37.05 L136.59,34.80 L142.06,32.17Z" fill="#087a08" stroke="#333" stroke-width="0.45" stroke-linejoin="miter"/>
<path d="M158.24,36.94 L136.59,52.41 L135.14,50.37 L131.00,58.00 L139.56,56.56 L138.10,54.52 L159.76,39.06Z" fill="#087a08" stroke="#333" stroke-width="0.45" stroke-linejoin="miter"/>
<path d="M143.42,47.84 L124.40,57.35 L123.28,55.11 L118.00,62.00 L126.68,61.91 L125.56,59.67 L144.58,50.16Z" fill="#087a08" stroke="#333" stroke-width="0.45" stroke-linejoin="miter"/>
<path d="M144.72,38.46 L122.44,55.26 L120.94,53.27 L117.00,61.00 L125.52,59.34 L124.01,57.34 L146.28,40.54Z" fill="#087a08" stroke="#333" stroke-width="0.45" stroke-linejoin="miter"/>
<path d="M195.06,84.78 L164.90,95.63 L164.05,93.28 L158.00,99.50 L166.63,100.43 L165.78,98.08 L195.94,87.22Z" fill="#087a08" stroke="#333" stroke-width="0.45" stroke-linejoin="miter"/>
<path d="M156.67,97.34 L108.72,109.78 L108.10,107.36 L101.50,113.00 L110.00,114.72 L109.38,112.30 L157.33,99.86Z" fill="#087a08" stroke="#333" stroke-width="0.45" stroke-linejoin="miter"/>
<path d="M157.58,118.77 L118.98,131.78 L118.18,129.41 L112.00,135.50 L120.61,136.61 L119.81,134.24 L158.42,121.23Z" fill="#087a08" stroke="#333" stroke-width="0.45" stroke-linejoin="miter"/>
<path d="M191.14,130.75 L147.65,143.12 L146.96,140.71 L140.50,146.50 L149.04,148.02 L148.36,145.62 L191.86,133.25Z" fill="#087a08" stroke="#333" stroke-width="0.45" stroke-linejoin="miter"/>
<path d="M207.66,138.75 L167.19,149.71 L166.54,147.29 L160.00,153.00 L168.52,154.63 L167.87,152.22 L208.34,141.25Z" fill="#087a08" stroke="#333" stroke-width="0.45" stroke-linejoin="miter"/>
<path d="M227.52,157.90 L200.30,159.61 L200.15,157.12 L192.60,161.40 L200.62,164.70 L200.47,162.21 L227.68,160.50Z" fill="#087a08" stroke="#333" stroke-width="0.45" stroke-linejoin="miter"/>
<path d="M264.47,95.92 L247.95,98.86 L247.51,96.39 L240.50,101.50 L248.84,103.88 L248.41,101.42 L264.93,98.48Z" fill="#087a08" stroke="#333" stroke-width="0.45" stroke-linejoin="miter"/>
<path d="M159.70,167.23 L99.29,181.45 L98.72,179.01 L92.00,184.50 L100.46,186.41 L99.89,183.98 L160.30,169.77Z" fill="#087a08" stroke="#333" stroke-width="0.45" stroke-linejoin="miter"/>
<path d="M161.69,160.54 L96.07,176.49 L95.48,174.06 L88.80,179.60 L97.28,181.45 L96.69,179.02 L162.31,163.06Z" fill="#087a08" stroke="#333" stroke-width="0.45" stroke-linejoin="miter"/>
<path d="M184.03,157.11 L140.57,162.71 L140.25,160.23 L133.00,165.00 L141.22,167.77 L140.90,165.29 L184.37,159.69Z" fill="#087a08" stroke="#333" stroke-width="0.45" stroke-linejoin="miter"/>
<path d="M174.06,168.28 L129.20,184.43 L128.35,182.08 L122.30,188.30 L130.93,189.23 L130.08,186.88 L174.94,170.72Z" fill="#087a08" stroke="#333" stroke-width="0.45" stroke-linejoin="miter"/>
<path d="M215.05,182.70 L173.84,181.19 L173.93,178.69 L166.00,182.20 L173.66,186.28 L173.75,183.79 L214.95,185.30Z" fill="#087a08" stroke="#333" stroke-width="0.45" stroke-linejoin="miter"/>
<path d="M153.81,188.71 L117.93,193.90 L117.58,191.42 L110.40,196.30 L118.66,198.95 L118.31,196.47 L154.19,191.29Z" fill="#087a08" stroke="#333" stroke-width="0.45" stroke-linejoin="miter"/>
<path d="M160.67,213.74 L147.92,217.07 L147.29,214.65 L140.70,220.30 L149.21,222.01 L148.58,219.59 L161.33,216.26Z" fill="#087a08" stroke="#333" stroke-width="0.45" stroke-linejoin="miter"/>
<path d="M213.19,215.71 L190.51,212.28 L190.88,209.81 L182.60,212.40 L189.74,217.32 L190.12,214.85 L212.81,218.29Z" fill="#087a08" stroke="#333" stroke-width="0.45" stroke-linejoin="miter"/>
<path d="M203.77,222.73 L192.90,220.38 L193.43,217.93 L185.00,220.00 L191.82,225.36 L192.35,222.92 L203.23,225.27Z" fill="#087a08" stroke="#333" stroke-width="0.45" stroke-linejoin="miter"/>
<path d="M197.35,17.38 L181.50,26.56 L180.24,24.40 L175.40,31.60 L184.05,30.98 L182.80,28.81 L198.65,19.62Z" fill="#f2ee00" stroke="#333" stroke-width="0.45" stroke-linejoin="miter"/>
<path d="M140.57,30.10 L130.49,40.49 L128.70,38.75 L126.00,47.00 L134.16,44.04 L132.36,42.30 L142.43,31.90Z" fill="#f2ee00" stroke="#333" stroke-width="0.45" stroke-linejoin="miter"/>
<path d="M158.26,36.93 L138.67,50.49 L137.25,48.44 L133.00,56.00 L141.58,54.68 L140.15,52.63 L159.74,39.07Z" fill="#f2ee00" stroke="#333" stroke-width="0.45" stroke-linejoin="miter"/>
<path d="M143.53,47.79 L127.79,53.95 L126.88,51.62 L121.00,58.00 L129.65,58.70 L128.74,56.37 L144.47,50.21Z" fill="#f2ee00" stroke="#333" stroke-width="0.45" stroke-linejoin="miter"/>
<path d="M144.84,38.38 L125.08,49.94 L123.81,47.78 L119.00,55.00 L127.65,54.34 L126.39,52.18 L146.16,40.62Z" fill="#f2ee00" stroke="#333" stroke-width="0.45" stroke-linejoin="miter"/>
<path d="M195.05,84.78 L162.87,96.59 L162.01,94.24 L156.00,100.50 L164.63,101.38 L163.77,99.03 L195.95,87.22Z" fill="#f2ee00" stroke="#333" stroke-width="0.45" stroke-linejoin="miter"/>
<path d="M156.63,97.35 L109.61,111.24 L108.90,108.85 L102.50,114.70 L111.06,116.13 L110.35,113.74 L157.37,99.85Z" fill="#f2ee00" stroke="#333" stroke-width="0.45" stroke-linejoin="miter"/>
<path d="M157.60,118.76 L120.03,130.87 L119.26,128.49 L113.00,134.50 L121.59,135.72 L120.82,133.35 L158.40,121.24Z" fill="#f2ee00" stroke="#333" stroke-width="0.45" stroke-linejoin="miter"/>
<path d="M191.13,130.75 L149.81,142.95 L149.11,140.55 L142.70,146.40 L151.26,147.84 L150.55,145.44 L191.87,133.25Z" fill="#f2ee00" stroke="#333" stroke-width="0.45" stroke-linejoin="miter"/>
<path d="M207.76,138.72 L169.82,145.88 L169.36,143.42 L162.40,148.60 L170.77,150.89 L170.31,148.43 L208.24,141.28Z" fill="#f2ee00" stroke="#333" stroke-width="0.45" stroke-linejoin="miter"/>
<path d="M227.61,157.90 L194.81,157.74 L194.82,155.24 L187.00,159.00 L194.78,162.84 L194.79,160.34 L227.59,160.50Z" fill="#f2ee00" stroke="#333" stroke-width="0.45" stroke-linejoin="miter"/>
<path d="M264.27,95.97 L249.43,101.19 L248.60,98.83 L242.50,105.00 L251.12,106.00 L250.29,103.64 L265.13,98.43Z" fill="#f2ee00" stroke="#333" stroke-width="0.45" stroke-linejoin="miter"/>
<path d="M159.72,167.23 L102.33,180.03 L101.79,177.59 L95.00,183.00 L103.44,185.01 L102.90,182.57 L160.28,169.77Z" fill="#f2ee00" stroke="#333" stroke-width="0.45" stroke-linejoin="miter"/>
<path d="M161.67,160.54 L97.20,177.73 L96.56,175.32 L90.00,181.00 L98.52,182.66 L97.87,180.25 L162.33,163.06Z" fill="#f2ee00" stroke="#333" stroke-width="0.45" stroke-linejoin="miter"/>
<path d="M183.91,157.13 L99.32,176.40 L98.76,173.96 L92.00,179.40 L100.45,181.37 L99.89,178.94 L184.49,159.67Z" fill="#f2ee00" stroke="#333" stroke-width="0.45" stroke-linejoin="miter"/>
<path d="M174.16,168.25 L127.88,180.98 L127.21,178.57 L120.70,184.30 L129.23,185.90 L128.57,183.48 L174.84,170.75Z" fill="#f2ee00" stroke="#333" stroke-width="0.45" stroke-linejoin="miter"/>
<path d="M214.96,182.70 L176.75,183.95 L176.67,181.45 L169.00,185.50 L176.92,189.04 L176.84,186.55 L215.04,185.30Z" fill="#f2ee00" stroke="#333" stroke-width="0.45" stroke-linejoin="miter"/>
<path d="M153.69,188.74 L132.76,193.88 L132.17,191.45 L125.50,197.00 L133.98,198.83 L133.38,196.40 L154.31,191.26Z" fill="#f2ee00" stroke="#333" stroke-width="0.45" stroke-linejoin="miter"/>
<path d="M160.62,213.76 L150.97,216.75 L150.23,214.36 L143.90,220.30 L152.48,221.62 L151.74,219.23 L161.38,216.24Z" fill="#f2ee00" stroke="#333" stroke-width="0.45" stroke-linejoin="miter"/>
<path d="M213.06,215.70 L196.45,214.88 L196.58,212.39 L188.60,215.80 L196.20,219.98 L196.33,217.48 L212.94,218.30Z" fill="#f2ee00" stroke="#333" stroke-width="0.45" stroke-linejoin="miter"/>
<path d="M203.67,222.71 L191.10,221.10 L191.42,218.62 L183.20,221.40 L190.45,226.16 L190.77,223.68 L203.33,225.29Z" fill="#f2ee00" stroke="#333" stroke-width="0.45" stroke-linejoin="miter"/>
<path d="M174.66,243.24 L173.60,243.53 L172.95,241.11 L166.40,246.80 L174.92,248.46 L174.27,246.04 L175.34,245.76Z" fill="#f2ee00" stroke="#333" stroke-width="0.45" stroke-linejoin="miter"/>
<path d="M186,110 L163,117" stroke="#111" stroke-width="0.9"/>
<rect x="186" y="105" width="32.6" height="11.4" fill="#fff" stroke="#444" stroke-width="0.7"/>
<text x="202.3" y="114.6" font-size="10" text-anchor="middle" fill="#111" textLength="28" lengthAdjust="spacingAndGlyphs">PSGA</text>
<path d="M249,123 L263.5,103" stroke="#111" stroke-width="0.9"/>
<rect x="234" y="123" width="28.7" height="11.5" fill="#fff" stroke="#444" stroke-width="0.7"/>
<text x="248.3" y="132.6" font-size="10" text-anchor="middle" fill="#111" textLength="25" lengthAdjust="spacingAndGlyphs">COLC</text>
<path d="M118.3,187.5 L158,170" stroke="#111" stroke-width="0.9"/>
<rect x="85.6" y="181.6" width="32.3" height="11.2" fill="#fff" stroke="#444" stroke-width="0.7"/>
<text x="101.7" y="191.1" font-size="10" text-anchor="middle" fill="#111" textLength="28" lengthAdjust="spacingAndGlyphs">IQQE</text>
<rect x="25.6" y="101.4" width="39" height="101.6" fill="#fff" fill-opacity="0.85" stroke="#999" stroke-width="0.6"/>
<rect x="42.4" y="108.6" width="4" height="87" fill="url(#asl)" stroke="#333" stroke-width="0.4"/>
<line x1="46.4" y1="108.6" x2="48.4" y2="108.6" stroke="#333" stroke-width="0.5"/>
<text x="49.8" y="110.9" font-size="6.6" fill="#222">1.2</text>
<line x1="46.4" y1="137.6" x2="48.4" y2="137.6" stroke="#333" stroke-width="0.5"/>
<text x="49.8" y="139.9" font-size="6.6" fill="#222">0.8</text>
<line x1="46.4" y1="166.6" x2="48.4" y2="166.6" stroke="#333" stroke-width="0.5"/>
<text x="49.8" y="168.9" font-size="6.6" fill="#222">0.4</text>
<line x1="46.4" y1="195.6" x2="48.4" y2="195.6" stroke="#333" stroke-width="0.5"/>
<text x="49.8" y="197.9" font-size="6.6" fill="#222">0.0</text>
<text transform="translate(39.2,151.2) rotate(-90)" font-size="9.6" text-anchor="middle" fill="#111" textLength="46" lengthAdjust="spacingAndGlyphs">Afterslip (m)</text>
<rect x="23.4" y="210" width="108.4" height="80.6" fill="#fff" fill-opacity="0.88" stroke="#999" stroke-width="0.6"/>
<text x="37.3" y="219.7" font-size="8.6" fill="#111" textLength="81.3" lengthAdjust="spacingAndGlyphs">Horizontal displ. (cm)</text>
<text x="49.4" y="228.8" font-size="6" fill="#111" textLength="17.6" lengthAdjust="spacingAndGlyphs">10 cm</text>
<path d="M33.70,233.60 L77.50,233.60 L77.50,236.10 L86.50,232.40 L77.50,228.70 L77.50,231.20 L33.70,231.20Z" fill="#087a08" stroke="#333" stroke-width="0.45" stroke-linejoin="miter"/>
<path d="M33.70,243.60 L77.00,243.60 L77.00,246.10 L86.00,242.40 L77.00,238.70 L77.00,241.20 L33.70,241.20Z" fill="#f2ee00" stroke="#333" stroke-width="0.45" stroke-linejoin="miter"/>
<text x="89.8" y="233.6" font-size="6.4" fill="#111" textLength="13.6" lengthAdjust="spacingAndGlyphs">Data</text>
<text x="90.7" y="243.9" font-size="6.4" fill="#111" textLength="17.9" lengthAdjust="spacingAndGlyphs">Model</text>
<text x="44.3" y="260.7" font-size="8.6" fill="#111" textLength="69.7" lengthAdjust="spacingAndGlyphs">Vertical displ. (cm)</text>
<rect x="44.3" y="263.7" width="12.1" height="11.5" fill="#fff" stroke="#222" stroke-width="0.6"/>
<text x="58.8" y="272" font-size="6.4" fill="#111" textLength="14.2" lengthAdjust="spacingAndGlyphs">Data</text>
<circle cx="88.9" cy="269.8" r="4.5" fill="#fff" stroke="#222" stroke-width="0.6"/>
<text x="93.7" y="272" font-size="6.4" fill="#111" textLength="19.7" lengthAdjust="spacingAndGlyphs">Model</text>
<rect x="41.2" y="276.5" width="75.3" height="6" fill="url(#vcb)" stroke="#333" stroke-width="0.4"/>
<text x="41.8" y="290" font-size="6.4" text-anchor="middle" fill="#222">-5</text>
<text x="60" y="290" font-size="6.4" text-anchor="middle" fill="#222">-2.5</text>
<text x="79.2" y="290" font-size="6.4" text-anchor="middle" fill="#222">0</text>
<text x="98" y="290" font-size="6.4" text-anchor="middle" fill="#222">2.5</text>
<text x="116.5" y="290" font-size="6.4" text-anchor="middle" fill="#222">5</text>
</g>
<text x="26" y="18.8" font-size="13.8" fill="#111">a)</text>
<rect x="22.0" y="4.5" width="253.5" height="289.0" fill="none" stroke="#555" stroke-width="1"/>
<line x1="19.5" y1="4.5" x2="22.0" y2="4.5" stroke="#333" stroke-width="0.8"/>
<line x1="275.5" y1="4.5" x2="278.0" y2="4.5" stroke="#333" stroke-width="0.8"/>
<text x="18.2" y="8.7" font-size="10.2" text-anchor="end" fill="#111">-18°</text>
<line x1="19.5" y1="76.75" x2="22.0" y2="76.75" stroke="#333" stroke-width="0.8"/>
<line x1="275.5" y1="76.75" x2="278.0" y2="76.75" stroke="#333" stroke-width="0.8"/>
<text x="18.2" y="81.0" font-size="10.2" text-anchor="end" fill="#111">-19°</text>
<line x1="19.5" y1="149.0" x2="22.0" y2="149.0" stroke="#333" stroke-width="0.8"/>
<line x1="275.5" y1="149.0" x2="278.0" y2="149.0" stroke="#333" stroke-width="0.8"/>
<text x="18.2" y="153.2" font-size="10.2" text-anchor="end" fill="#111">-20°</text>
<line x1="19.5" y1="221.25" x2="22.0" y2="221.25" stroke="#333" stroke-width="0.8"/>
<line x1="275.5" y1="221.25" x2="278.0" y2="221.25" stroke="#333" stroke-width="0.8"/>
<text x="18.2" y="225.4" font-size="10.2" text-anchor="end" fill="#111">-21°</text>
<line x1="19.5" y1="293.5" x2="22.0" y2="293.5" stroke="#333" stroke-width="0.8"/>
<line x1="275.5" y1="293.5" x2="278.0" y2="293.5" stroke="#333" stroke-width="0.8"/>
<text x="18.2" y="297.7" font-size="10.2" text-anchor="end" fill="#111">-22°</text>
<line x1="22.0" y1="2.0" x2="22.0" y2="4.5" stroke="#333" stroke-width="0.8"/>
<line x1="22.0" y1="293.5" x2="22.0" y2="296.0" stroke="#333" stroke-width="0.8"/>
<text x="23.5" y="305" font-size="10.2" text-anchor="middle" fill="#111">-72°</text>
<line x1="94.5" y1="2.0" x2="94.5" y2="4.5" stroke="#333" stroke-width="0.8"/>
<line x1="94.5" y1="293.5" x2="94.5" y2="296.0" stroke="#333" stroke-width="0.8"/>
<text x="96.0" y="305" font-size="10.2" text-anchor="middle" fill="#111">-71°</text>
<line x1="167.0" y1="2.0" x2="167.0" y2="4.5" stroke="#333" stroke-width="0.8"/>
<line x1="167.0" y1="293.5" x2="167.0" y2="296.0" stroke="#333" stroke-width="0.8"/>
<text x="168.5" y="305" font-size="10.2" text-anchor="middle" fill="#111">-70°</text>
<line x1="239.5" y1="2.0" x2="239.5" y2="4.5" stroke="#333" stroke-width="0.8"/>
<line x1="239.5" y1="293.5" x2="239.5" y2="296.0" stroke="#333" stroke-width="0.8"/>
<text x="241.0" y="305" font-size="10.2" text-anchor="middle" fill="#111">-69°</text>
</svg></body></html>
